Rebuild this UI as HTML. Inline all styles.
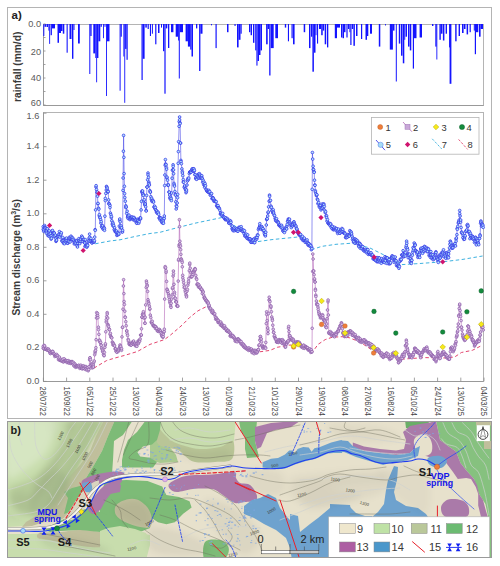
<!DOCTYPE html>
<html><head><meta charset="utf-8"><style>
html,body{margin:0;padding:0;background:#fff;}
body{width:500px;height:566px;overflow:hidden;font-family:"Liberation Sans", sans-serif;}
svg{display:block;}
</style></head><body><svg width="500" height="566" viewBox="0 0 500 566" font-family='"Liberation Sans", sans-serif'><rect x="7.5" y="7.5" width="484" height="411" fill="#fff" stroke="#b4b4b4" stroke-width="1"/><text x="11.5" y="18.6" font-size="11.5" font-weight="bold" fill="#222">a)</text><rect x="43.5" y="24.5" width="440" height="81" fill="none" stroke="#b4b4b4" stroke-width="1"/><line x1="43.5" y1="24" x2="43.5" y2="105.5" stroke="#999" stroke-width="1"/><line x1="43.5" y1="105.5" x2="483.5" y2="105.5" stroke="#999" stroke-width="1"/><g fill="#1414ff"><rect x="43.3" y="24" width="1.0" height="12.0"/><rect x="44.5" y="24" width="1.5" height="2.8"/><rect x="46.5" y="24" width="1.5" height="3.0"/><rect x="48.4" y="24" width="0.9" height="6.6"/><rect x="49.2" y="24" width="0.9" height="19.9"/><rect x="50.6" y="24" width="1.3" height="11.2"/><rect x="52.0" y="24" width="3.0" height="4.4"/><rect x="57.5" y="24" width="1.5" height="18.8"/><rect x="59.0" y="24" width="2.0" height="9.0"/><rect x="61.0" y="24" width="1.5" height="7.0"/><rect x="62.8" y="24" width="1.5" height="9.7"/><rect x="66.6" y="24" width="1.1" height="28.7"/><rect x="69.5" y="24" width="2.0" height="15.0"/><rect x="72.0" y="24" width="1.4" height="34.8"/><rect x="73.5" y="24" width="1.0" height="6.0"/><rect x="78.0" y="24" width="1.8" height="19.5"/><rect x="89.3" y="24" width="1.0" height="50.0"/><rect x="90.3" y="24" width="1.3" height="12.0"/><rect x="93.3" y="24" width="2.0" height="29.4"/><rect x="95.3" y="24" width="0.9" height="34.0"/><rect x="96.2" y="24" width="0.9" height="58.3"/><rect x="97.0" y="24" width="1.4" height="34.0"/><rect x="98.4" y="24" width="1.9" height="17.3"/><rect x="100.6" y="24" width="1.2" height="2.8"/><rect x="103.0" y="24" width="0.9" height="14.2"/><rect x="104.5" y="24" width="1.0" height="2.8"/><rect x="106.0" y="24" width="0.9" height="72.0"/><rect x="106.9" y="24" width="2.6" height="17.3"/><rect x="119.6" y="24" width="1.0" height="66.7"/><rect x="120.6" y="24" width="1.2" height="12.7"/><rect x="123.4" y="24" width="0.9" height="32.5"/><rect x="124.3" y="24" width="0.9" height="78.8"/><rect x="125.1" y="24" width="1.4" height="24.9"/><rect x="126.5" y="24" width="1.2" height="35.8"/><rect x="141.5" y="24" width="1.2" height="56.0"/><rect x="142.7" y="24" width="1.9" height="34.8"/><rect x="145.3" y="24" width="1.5" height="3.6"/><rect x="147.6" y="24" width="1.2" height="5.0"/><rect x="149.9" y="24" width="1.1" height="12.0"/><rect x="151.9" y="24" width="1.0" height="9.7"/><rect x="155.2" y="24" width="1.2" height="20.3"/><rect x="158.0" y="24" width="1.5" height="9.0"/><rect x="161.0" y="24" width="1.0" height="3.6"/><rect x="163.0" y="24" width="1.3" height="27.2"/><rect x="164.4" y="24" width="1.2" height="69.7"/><rect x="165.8" y="24" width="1.5" height="4.4"/><rect x="168.0" y="24" width="1.3" height="24.0"/><rect x="171.0" y="24" width="2.4" height="8.2"/><rect x="175.7" y="24" width="2.3" height="12.7"/><rect x="178.0" y="24" width="0.9" height="16.5"/><rect x="178.8" y="24" width="1.0" height="54.5"/><rect x="179.8" y="24" width="3.2" height="8.2"/><rect x="185.6" y="24" width="2.3" height="17.3"/><rect x="187.9" y="24" width="2.3" height="22.6"/><rect x="190.2" y="24" width="1.3" height="25.6"/><rect x="191.5" y="24" width="1.5" height="32.5"/><rect x="196.0" y="24" width="1.3" height="4.4"/><rect x="199.1" y="24" width="1.3" height="47.0"/><rect x="200.4" y="24" width="2.1" height="9.7"/><rect x="211.0" y="24" width="1.0" height="1.3"/><rect x="215.5" y="24" width="1.2" height="24.1"/><rect x="227.0" y="24" width="1.5" height="8.2"/><rect x="234.5" y="24" width="1.1" height="2.0"/><rect x="237.0" y="24" width="1.6" height="23.4"/><rect x="238.6" y="24" width="1.9" height="15.8"/><rect x="240.5" y="24" width="1.2" height="9.7"/><rect x="249.0" y="24" width="1.3" height="8.2"/><rect x="250.6" y="24" width="1.4" height="11.2"/><rect x="253.0" y="24" width="1.4" height="18.8"/><rect x="255.2" y="24" width="1.2" height="26.4"/><rect x="256.4" y="24" width="1.1" height="41.6"/><rect x="257.5" y="24" width="1.5" height="37.0"/><rect x="259.0" y="24" width="1.5" height="31.0"/><rect x="260.5" y="24" width="1.5" height="26.4"/><rect x="266.1" y="24" width="1.6" height="20.3"/><rect x="267.7" y="24" width="1.3" height="5.0"/><rect x="269.2" y="24" width="1.3" height="51.5"/><rect x="270.7" y="24" width="3.0" height="24.1"/><rect x="275.3" y="24" width="2.7" height="14.2"/><rect x="284.8" y="24" width="1.4" height="3.6"/><rect x="287.9" y="24" width="1.1" height="17.3"/><rect x="291.5" y="24" width="1.2" height="14.2"/><rect x="293.0" y="24" width="1.6" height="20.3"/><rect x="303.7" y="24" width="1.5" height="8.2"/><rect x="309.0" y="24" width="1.5" height="24.1"/><rect x="311.0" y="24" width="1.3" height="12.7"/><rect x="312.4" y="24" width="1.5" height="47.7"/><rect x="314.0" y="24" width="1.5" height="28.7"/><rect x="315.5" y="24" width="1.0" height="11.2"/><rect x="317.0" y="24" width="1.1" height="19.6"/><rect x="319.0" y="24" width="2.0" height="5.0"/><rect x="321.2" y="24" width="1.5" height="11.2"/><rect x="322.7" y="24" width="1.5" height="6.6"/><rect x="324.7" y="24" width="1.5" height="20.3"/><rect x="327.0" y="24" width="1.3" height="23.4"/><rect x="334.8" y="24" width="2.2" height="14.2"/><rect x="337.0" y="24" width="3.0" height="3.6"/><rect x="341.0" y="24" width="1.4" height="13.5"/><rect x="342.6" y="24" width="1.4" height="14.2"/><rect x="344.0" y="24" width="1.5" height="8.2"/><rect x="346.4" y="24" width="1.2" height="13.5"/><rect x="348.0" y="24" width="1.3" height="5.0"/><rect x="349.4" y="24" width="0.9" height="8.2"/><rect x="350.3" y="24" width="1.2" height="21.0"/><rect x="351.8" y="24" width="1.4" height="5.0"/><rect x="353.4" y="24" width="1.5" height="21.8"/><rect x="356.0" y="24" width="1.5" height="12.0"/><rect x="361.0" y="24" width="1.2" height="15.0"/><rect x="365.5" y="24" width="1.5" height="15.8"/><rect x="367.0" y="24" width="1.3" height="12.0"/><rect x="370.0" y="24" width="2.0" height="9.7"/><rect x="378.8" y="24" width="1.5" height="22.6"/><rect x="385.0" y="24" width="0.9" height="1.5"/><rect x="389.8" y="24" width="3.1" height="25.6"/><rect x="392.9" y="24" width="1.6" height="6.6"/><rect x="395.8" y="24" width="1.0" height="57.5"/><rect x="398.8" y="24" width="1.5" height="19.6"/><rect x="401.0" y="24" width="1.5" height="31.7"/><rect x="402.8" y="24" width="1.5" height="39.3"/><rect x="404.3" y="24" width="0.9" height="15.8"/><rect x="405.5" y="24" width="1.5" height="12.7"/><rect x="408.0" y="24" width="1.5" height="22.6"/><rect x="409.8" y="24" width="1.5" height="26.4"/><rect x="412.8" y="24" width="1.2" height="44.6"/><rect x="414.0" y="24" width="2.5" height="14.2"/><rect x="419.6" y="24" width="2.4" height="13.5"/><rect x="432.0" y="24" width="1.4" height="2.0"/><rect x="435.3" y="24" width="1.3" height="22.6"/><rect x="436.4" y="24" width="0.9" height="35.5"/><rect x="439.4" y="24" width="1.4" height="15.8"/><rect x="440.8" y="24" width="1.7" height="9.7"/><rect x="442.9" y="24" width="1.5" height="16.5"/><rect x="445.6" y="24" width="1.4" height="9.7"/><rect x="449.0" y="24" width="0.9" height="23.4"/><rect x="449.6" y="24" width="1.8" height="59.8"/><rect x="455.2" y="24" width="1.4" height="17.3"/><rect x="458.6" y="24" width="1.4" height="12.0"/><rect x="462.0" y="24" width="1.6" height="9.0"/><rect x="464.0" y="24" width="1.5" height="5.0"/><rect x="466.6" y="24" width="1.5" height="10.4"/><rect x="469.6" y="24" width="1.2" height="8.2"/><rect x="473.8" y="24" width="1.0" height="6.6"/><rect x="474.8" y="24" width="1.2" height="30.2"/><rect x="476.0" y="24" width="2.3" height="8.2"/><rect x="479.0" y="24" width="1.6" height="12.7"/><rect x="480.6" y="24" width="2.4" height="5.0"/></g><line x1="43.5" y1="24.0" x2="45.5" y2="24.0" stroke="#8c8c8c" stroke-width="0.8"/><line x1="43.5" y1="37.5" x2="45.5" y2="37.5" stroke="#8c8c8c" stroke-width="0.8"/><line x1="43.5" y1="51.0" x2="45.5" y2="51.0" stroke="#8c8c8c" stroke-width="0.8"/><line x1="43.5" y1="64.5" x2="45.5" y2="64.5" stroke="#8c8c8c" stroke-width="0.8"/><line x1="43.5" y1="78.0" x2="45.5" y2="78.0" stroke="#8c8c8c" stroke-width="0.8"/><line x1="43.5" y1="91.5" x2="45.5" y2="91.5" stroke="#8c8c8c" stroke-width="0.8"/><line x1="43.5" y1="105.0" x2="45.5" y2="105.0" stroke="#8c8c8c" stroke-width="0.8"/><text x="41" y="27.3" text-anchor="end" font-size="9.2" fill="#5a5a5a">0.0</text><text x="41" y="54.7" text-anchor="end" font-size="9.2" fill="#5a5a5a">20</text><text x="41" y="80.9" text-anchor="end" font-size="9.2" fill="#5a5a5a">40</text><text x="41" y="106.4" text-anchor="end" font-size="9.2" fill="#5a5a5a">60</text><text transform="translate(20.9,66.8) rotate(-90)" text-anchor="middle" font-size="10.2" font-weight="bold" fill="#3a3a3a">rainfall (mm/d)</text><rect x="43.5" y="112.5" width="440" height="269" fill="none" stroke="#b4b4b4" stroke-width="1"/><line x1="43.5" y1="112.5" x2="43.5" y2="381.5" stroke="#999" stroke-width="1"/><line x1="43.5" y1="381.5" x2="483.5" y2="381.5" stroke="#999" stroke-width="1"/><line x1="43.5" y1="381.4" x2="46.5" y2="381.4" stroke="#8c8c8c" stroke-width="0.8"/><text x="39.4" y="383.7" text-anchor="end" font-size="9.2" fill="#5a5a5a">0.0</text><line x1="43.5" y1="347.9" x2="46.5" y2="347.9" stroke="#8c8c8c" stroke-width="0.8"/><text x="39.4" y="350.2" text-anchor="end" font-size="9.2" fill="#5a5a5a">0.2</text><line x1="43.5" y1="314.3" x2="46.5" y2="314.3" stroke="#8c8c8c" stroke-width="0.8"/><text x="39.4" y="316.6" text-anchor="end" font-size="9.2" fill="#5a5a5a">0.4</text><line x1="43.5" y1="280.8" x2="46.5" y2="280.8" stroke="#8c8c8c" stroke-width="0.8"/><text x="39.4" y="283.1" text-anchor="end" font-size="9.2" fill="#5a5a5a">0.6</text><line x1="43.5" y1="247.3" x2="46.5" y2="247.3" stroke="#8c8c8c" stroke-width="0.8"/><text x="39.4" y="249.6" text-anchor="end" font-size="9.2" fill="#5a5a5a">0.8</text><line x1="43.5" y1="213.8" x2="46.5" y2="213.8" stroke="#8c8c8c" stroke-width="0.8"/><text x="39.4" y="216.1" text-anchor="end" font-size="9.2" fill="#5a5a5a">1.0</text><line x1="43.5" y1="180.2" x2="46.5" y2="180.2" stroke="#8c8c8c" stroke-width="0.8"/><text x="39.4" y="182.5" text-anchor="end" font-size="9.2" fill="#5a5a5a">1.2</text><line x1="43.5" y1="146.7" x2="46.5" y2="146.7" stroke="#8c8c8c" stroke-width="0.8"/><text x="39.4" y="149.0" text-anchor="end" font-size="9.2" fill="#5a5a5a">1.4</text><line x1="43.5" y1="113.2" x2="46.5" y2="113.2" stroke="#8c8c8c" stroke-width="0.8"/><text x="39.4" y="118.6" text-anchor="end" font-size="9.2" fill="#5a5a5a">1.6</text><line x1="43.4" y1="377.6" x2="43.4" y2="381.3" stroke="#8c8c8c" stroke-width="0.8"/><text transform="translate(40.4,386.6) rotate(90)" font-size="8.3" fill="#444" textLength="29.4" lengthAdjust="spacingAndGlyphs">28/07/22</text><line x1="66.6" y1="377.6" x2="66.6" y2="381.3" stroke="#8c8c8c" stroke-width="0.8"/><text transform="translate(63.6,386.6) rotate(90)" font-size="8.3" fill="#444" textLength="29.4" lengthAdjust="spacingAndGlyphs">16/09/22</text><line x1="89.8" y1="377.6" x2="89.8" y2="381.3" stroke="#8c8c8c" stroke-width="0.8"/><text transform="translate(86.8,386.6) rotate(90)" font-size="8.3" fill="#444" textLength="29.4" lengthAdjust="spacingAndGlyphs">05/11/22</text><line x1="113.0" y1="377.6" x2="113.0" y2="381.3" stroke="#8c8c8c" stroke-width="0.8"/><text transform="translate(110.0,386.6) rotate(90)" font-size="8.3" fill="#444" textLength="29.4" lengthAdjust="spacingAndGlyphs">25/12/22</text><line x1="136.2" y1="377.6" x2="136.2" y2="381.3" stroke="#8c8c8c" stroke-width="0.8"/><text transform="translate(133.2,386.6) rotate(90)" font-size="8.3" fill="#444" textLength="29.4" lengthAdjust="spacingAndGlyphs">13/02/23</text><line x1="159.3" y1="377.6" x2="159.3" y2="381.3" stroke="#8c8c8c" stroke-width="0.8"/><text transform="translate(156.3,386.6) rotate(90)" font-size="8.3" fill="#444" textLength="29.4" lengthAdjust="spacingAndGlyphs">04/04/23</text><line x1="182.5" y1="377.6" x2="182.5" y2="381.3" stroke="#8c8c8c" stroke-width="0.8"/><text transform="translate(179.5,386.6) rotate(90)" font-size="8.3" fill="#444" textLength="29.4" lengthAdjust="spacingAndGlyphs">24/05/23</text><line x1="205.7" y1="377.6" x2="205.7" y2="381.3" stroke="#8c8c8c" stroke-width="0.8"/><text transform="translate(202.7,386.6) rotate(90)" font-size="8.3" fill="#444" textLength="29.4" lengthAdjust="spacingAndGlyphs">13/07/23</text><line x1="228.9" y1="377.6" x2="228.9" y2="381.3" stroke="#8c8c8c" stroke-width="0.8"/><text transform="translate(225.9,386.6) rotate(90)" font-size="8.3" fill="#444" textLength="29.4" lengthAdjust="spacingAndGlyphs">01/09/23</text><line x1="252.1" y1="377.6" x2="252.1" y2="381.3" stroke="#8c8c8c" stroke-width="0.8"/><text transform="translate(249.1,386.6) rotate(90)" font-size="8.3" fill="#444" textLength="29.4" lengthAdjust="spacingAndGlyphs">21/10/23</text><line x1="275.3" y1="377.6" x2="275.3" y2="381.3" stroke="#8c8c8c" stroke-width="0.8"/><text transform="translate(272.3,386.6) rotate(90)" font-size="8.3" fill="#444" textLength="29.4" lengthAdjust="spacingAndGlyphs">10/12/23</text><line x1="298.5" y1="377.6" x2="298.5" y2="381.3" stroke="#8c8c8c" stroke-width="0.8"/><text transform="translate(295.5,386.6) rotate(90)" font-size="8.3" fill="#444" textLength="29.4" lengthAdjust="spacingAndGlyphs">29/01/24</text><line x1="321.7" y1="377.6" x2="321.7" y2="381.3" stroke="#8c8c8c" stroke-width="0.8"/><text transform="translate(318.7,386.6) rotate(90)" font-size="8.3" fill="#444" textLength="29.4" lengthAdjust="spacingAndGlyphs">19/03/24</text><line x1="344.9" y1="377.6" x2="344.9" y2="381.3" stroke="#8c8c8c" stroke-width="0.8"/><text transform="translate(341.9,386.6) rotate(90)" font-size="8.3" fill="#444" textLength="29.4" lengthAdjust="spacingAndGlyphs">08/05/24</text><line x1="368.1" y1="377.6" x2="368.1" y2="381.3" stroke="#8c8c8c" stroke-width="0.8"/><text transform="translate(365.1,386.6) rotate(90)" font-size="8.3" fill="#444" textLength="29.4" lengthAdjust="spacingAndGlyphs">27/06/24</text><line x1="391.2" y1="377.6" x2="391.2" y2="381.3" stroke="#8c8c8c" stroke-width="0.8"/><text transform="translate(388.2,386.6) rotate(90)" font-size="8.3" fill="#444" textLength="29.4" lengthAdjust="spacingAndGlyphs">16/08/24</text><line x1="414.4" y1="377.6" x2="414.4" y2="381.3" stroke="#8c8c8c" stroke-width="0.8"/><text transform="translate(411.4,386.6) rotate(90)" font-size="8.3" fill="#444" textLength="29.4" lengthAdjust="spacingAndGlyphs">05/10/24</text><line x1="437.6" y1="377.6" x2="437.6" y2="381.3" stroke="#8c8c8c" stroke-width="0.8"/><text transform="translate(434.6,386.6) rotate(90)" font-size="8.3" fill="#444" textLength="29.4" lengthAdjust="spacingAndGlyphs">24/11/24</text><line x1="460.8" y1="377.6" x2="460.8" y2="381.3" stroke="#8c8c8c" stroke-width="0.8"/><text transform="translate(457.8,386.6) rotate(90)" font-size="8.3" fill="#444" textLength="29.4" lengthAdjust="spacingAndGlyphs">13/01/25</text><line x1="484.0" y1="377.6" x2="484.0" y2="381.3" stroke="#8c8c8c" stroke-width="0.8"/><text transform="translate(481.0,386.6) rotate(90)" font-size="8.3" fill="#444" textLength="29.4" lengthAdjust="spacingAndGlyphs">04/03/25</text><text transform="translate(20.2,257.3) rotate(-90)" text-anchor="middle" font-size="10.2" font-weight="bold" fill="#3a3a3a">Stream discharge (m<tspan font-size="7" dy="-4">3</tspan><tspan dy="4">/s)</tspan></text><polyline points="95.2,243.8 110.0,241.0 120.0,239.8 135.0,236.5 150.0,233.5 160.0,232.3 175.0,228.3 195.0,223.2 215.0,219.0 222.0,217.5 230.0,222.0 240.0,230.0 248.0,238.0 255.0,242.0 272.0,239.6 296.0,237.2 300.8,236.5 306.0,240.0 312.0,249.6 321.6,246.4 336.0,244.3 352.0,243.2 370.0,248.0 390.0,258.0 402.0,264.6 420.0,263.5 442.7,261.8 462.0,259.5 482.6,256.0" fill="none" stroke="#3fb2e0" stroke-width="1" stroke-dasharray="3.5,2.5"/><polyline points="93.8,368.2 106.7,360.5 115.0,358.0 124.6,355.4 137.4,351.5 150.0,344.4 164.4,339.6 170.8,334.8 182.0,325.2 190.0,317.2 198.0,310.8 206.0,306.8 209.2,306.0 213.3,313.0 217.6,320.0 222.0,325.0 226.4,329.0 230.7,335.0 235.1,339.0 239.5,341.0 243.8,345.0 248.2,348.0 252.6,351.0 258.0,352.0 262.0,351.5 270.0,350.4 277.2,347.3 290.0,345.0 300.0,346.0 306.0,349.0 312.0,352.8 318.0,344.4 325.2,339.6 332.4,337.2 342.0,336.7 349.2,337.7 360.0,342.0 375.0,352.0 390.0,358.5 403.1,359.1 424.0,357.6 446.0,358.0 454.8,356.9 461.4,352.5 472.4,350.3 482.3,345.2" fill="none" stroke="#e3456e" stroke-width="1" stroke-dasharray="3.5,2.5"/><polyline points="43.2,226.7 43.2,229.4 43.7,231.3 44.1,230.0 44.6,225.5 44.8,227.0 45.1,227.6 45.5,228.4 46.0,231.1 46.4,231.0 46.4,233.2 46.9,228.6 47.4,228.8 47.8,235.4 48.3,233.0 48.8,236.1 48.8,234.2 49.2,230.8 49.7,234.4 50.2,236.8 50.6,233.4 51.1,239.1 51.2,235.8 51.5,238.3 52.0,231.2 52.5,230.5 52.9,233.8 53.4,236.2 53.6,232.6 53.9,232.7 54.3,233.2 54.8,236.4 55.3,235.1 55.7,238.3 56.0,241.4 56.2,240.6 56.6,240.1 57.1,237.2 57.6,236.2 58.0,235.2 58.4,236.6 58.5,236.2 59.0,234.3 59.4,231.6 59.9,237.1 60.4,234.4 60.8,233.4 60.8,234.6 61.3,232.8 61.8,240.6 62.2,241.3 62.7,237.4 63.1,240.7 63.2,242.2 63.6,243.3 64.1,242.6 64.5,243.7 65.0,239.2 65.5,241.7 65.6,239.0 65.9,240.5 66.4,238.1 66.9,240.6 67.3,243.2 67.8,243.2 68.2,241.0 68.7,242.0 68.8,241.4 69.2,237.4 69.6,238.4 70.1,242.0 70.6,238.6 71.0,236.2 71.5,238.4 72.0,239.0 72.0,237.4 72.4,239.5 72.9,238.2 73.3,239.6 73.8,241.1 74.3,244.0 74.4,242.2 74.7,242.7 75.2,242.2 75.7,243.4 76.1,240.4 76.6,241.0 76.8,244.6 77.1,245.7 77.5,247.0 78.0,243.3 78.4,241.1 78.9,238.6 79.2,240.6 79.4,240.4 79.8,243.6 80.3,241.5 80.8,239.3 81.2,241.3 81.7,236.1 82.2,237.7 82.4,237.4 82.6,241.3 83.1,239.6 83.5,239.8 84.0,239.4 84.5,242.6 84.8,243.0 84.9,246.5 85.4,239.7 85.9,245.8 86.3,246.4 86.8,247.2 87.2,244.6 87.3,246.2 87.7,245.3 88.2,241.8 88.7,240.7 89.1,238.3 89.6,234.1 89.6,237.4 90.0,241.2 90.5,240.0 91.0,238.3 91.4,241.7 91.9,242.6 92.0,243.0 92.4,241.6 92.8,241.0 93.3,242.0 93.8,242.2 94.2,241.6 94.4,240.6 94.7,237.1 95.1,229.7 95.3,230.3 95.6,209.9 96.0,187.0 96.1,185.7 96.5,189.5 97.0,192.6 97.3,192.0 97.5,196.2 97.9,203.7 98.0,203.4 98.4,208.1 98.9,209.1 99.3,215.8 99.4,214.7 99.8,217.7 100.2,217.4 100.7,219.7 100.9,223.2 101.2,221.6 101.6,226.7 102.1,225.6 102.3,227.5 102.6,225.9 103.0,229.1 103.5,228.2 104.0,227.5 104.4,228.5 104.5,230.3 104.9,216.2 105.3,200.6 105.3,198.4 105.8,193.4 106.3,190.1 106.5,186.4 106.7,187.1 107.2,188.1 107.7,190.6 108.0,192.0 108.1,191.5 108.6,199.9 108.8,203.4 109.1,203.9 109.5,204.4 110.0,205.6 110.0,207.6 110.4,213.1 110.9,214.7 111.3,217.6 111.4,216.5 111.8,220.8 112.3,224.1 112.8,222.5 113.0,226.0 113.2,224.1 113.7,225.7 114.2,229.6 114.6,227.8 115.0,230.3 115.1,231.4 115.6,232.0 116.0,231.9 116.5,231.0 116.9,235.4 117.0,233.1 117.4,234.9 117.9,233.9 118.3,232.8 118.7,234.5 118.8,233.9 119.3,226.1 119.7,220.4 119.8,219.0 120.2,221.8 120.7,227.7 120.7,227.5 121.1,225.9 121.6,227.8 122.0,231.8 122.5,232.0 122.6,230.3 123.0,190.4 123.1,178.0 123.4,151.2 123.6,135.4 123.9,157.3 124.1,173.6 124.4,186.3 124.6,193.6 124.8,197.5 125.3,201.2 125.8,205.8 125.8,207.6 126.2,207.0 126.7,213.4 127.1,211.2 127.6,217.2 127.7,216.0 128.1,218.5 128.5,216.8 129.0,215.1 129.5,218.8 129.9,219.6 130.4,218.5 130.6,217.6 130.9,217.8 131.3,217.3 131.8,217.4 132.2,217.0 132.7,219.5 133.2,218.6 133.4,219.0 133.6,217.6 134.1,217.5 134.6,220.6 135.0,219.0 135.5,220.4 136.0,219.8 136.4,222.8 136.9,223.3 137.3,219.2 137.7,221.8 137.8,220.2 138.3,220.4 138.7,223.2 139.2,221.7 139.7,219.0 140.1,217.9 140.5,219.0 140.6,218.0 141.1,209.9 141.5,201.4 141.9,192.0 142.0,191.1 142.5,193.1 142.6,191.0 142.9,193.7 143.3,195.0 143.4,195.4 143.8,200.7 144.3,199.7 144.7,203.4 144.8,204.9 145.2,204.0 145.7,206.8 146.1,210.5 146.2,211.0 146.6,195.4 147.0,187.0 147.1,187.1 147.6,179.8 148.0,173.0 148.0,174.9 148.5,177.4 148.9,182.2 149.0,183.6 149.4,185.0 149.9,190.7 150.3,192.1 150.4,192.0 150.8,196.7 151.3,199.2 151.7,198.3 151.8,200.6 152.2,201.6 152.7,200.3 153.1,200.9 153.6,202.0 154.0,206.9 154.5,207.5 154.6,206.2 155.0,208.8 155.4,207.5 155.9,210.0 156.4,211.9 156.8,211.0 157.3,213.1 157.5,213.3 157.8,212.4 158.2,212.4 158.7,214.2 159.1,218.1 159.6,217.3 160.0,217.6 160.1,219.9 160.5,218.3 161.0,218.2 161.5,221.5 161.9,222.5 162.0,221.0 162.4,219.1 162.9,223.1 163.3,220.9 163.5,223.2 163.8,218.7 164.2,218.4 164.3,216.0 164.7,185.5 164.9,175.0 165.2,165.2 165.4,159.6 165.6,164.0 166.1,164.8 166.4,167.6 166.6,169.2 166.9,178.0 167.0,177.1 167.5,180.2 168.0,185.4 168.0,184.4 168.4,185.1 168.9,192.0 169.4,192.2 169.7,195.0 169.8,197.7 170.3,199.0 170.7,197.4 171.2,198.7 171.4,200.6 171.7,193.0 172.1,178.2 172.5,170.0 172.6,170.3 173.1,164.8 173.2,166.4 173.5,169.9 173.6,173.7 174.0,183.4 174.2,185.0 174.5,186.1 174.9,191.5 175.4,194.6 175.4,195.0 175.8,201.8 176.2,209.0 176.3,205.9 176.8,206.5 177.2,203.0 177.6,197.7 177.7,194.3 178.2,163.3 178.4,151.6 178.6,141.7 179.1,126.3 179.2,121.6 179.6,119.9 179.6,117.0 180.0,122.7 180.1,123.6 180.5,143.1 180.5,143.0 180.9,160.4 181.0,161.6 181.4,163.7 181.9,168.9 182.3,171.5 182.4,173.0 182.8,175.7 183.3,179.6 183.3,182.0 183.7,182.2 184.2,187.2 184.7,186.0 185.1,188.5 185.6,189.9 185.6,189.2 186.0,192.7 186.4,191.6 186.5,190.0 187.0,185.0 187.4,180.5 187.5,180.8 187.9,178.5 188.4,179.5 188.8,178.1 189.3,173.5 189.8,172.0 190.0,172.0 190.2,172.1 190.7,172.2 191.1,172.1 191.6,170.2 192.1,168.9 192.5,169.8 193.0,168.8 193.2,170.9 193.5,171.2 193.9,168.8 194.0,171.0 194.4,170.3 194.9,174.7 195.3,174.6 195.8,178.7 196.0,178.0 196.3,177.8 196.7,179.3 197.2,175.4 197.6,176.8 198.1,177.9 198.6,174.0 199.0,178.0 199.5,173.7 200.0,176.4 200.0,175.0 200.4,178.1 200.9,177.9 201.4,176.1 201.8,175.8 202.0,178.0 202.3,178.9 202.7,182.2 203.2,180.3 203.7,184.6 204.1,182.2 204.5,185.0 204.6,187.2 205.1,183.6 205.5,185.8 206.0,189.4 206.5,189.7 206.9,191.0 207.4,191.4 207.8,191.7 208.3,192.1 208.8,190.3 208.8,192.0 209.2,192.3 209.7,191.5 210.2,194.9 210.6,195.3 211.1,193.9 211.6,193.6 212.0,198.7 212.5,198.5 212.9,197.9 213.0,197.7 213.4,198.7 213.9,201.2 214.3,200.1 214.8,200.7 215.3,201.4 215.7,201.9 216.2,201.6 216.7,205.7 217.1,205.4 217.3,206.2 217.6,207.1 218.0,205.5 218.5,207.9 219.0,207.8 219.4,208.7 219.9,210.3 220.4,214.1 220.8,212.8 221.3,213.8 221.5,214.7 221.8,215.5 222.2,214.1 222.7,213.4 223.2,216.5 223.6,216.8 224.1,218.0 224.5,217.4 225.0,219.1 225.5,219.8 225.8,219.0 225.9,217.8 226.4,219.4 226.9,219.6 227.3,218.6 227.8,219.9 228.3,220.9 228.7,223.0 229.2,223.3 229.6,220.4 230.0,221.8 230.1,222.8 230.6,221.0 231.0,222.3 231.5,225.7 232.0,228.7 232.4,226.2 232.8,228.9 232.9,230.2 233.4,230.8 233.8,228.0 234.3,229.9 234.7,230.6 235.2,228.3 235.7,229.9 236.1,230.1 236.6,229.4 237.1,230.7 237.1,228.9 237.5,230.9 238.0,231.2 238.5,229.3 238.9,227.3 239.4,227.7 239.8,227.5 240.3,229.2 240.8,230.2 241.2,226.7 241.3,228.9 241.7,230.3 242.2,231.1 242.6,229.9 243.1,231.3 243.6,230.2 244.0,233.6 244.5,230.8 244.9,236.1 245.4,235.8 245.6,234.5 245.9,235.4 246.3,234.1 246.8,237.8 247.3,238.5 247.7,234.9 248.2,238.5 248.7,239.3 249.1,238.9 249.6,239.6 249.8,238.8 250.1,238.8 250.5,241.6 251.0,242.3 251.4,239.8 251.9,242.3 252.4,240.9 252.7,241.6 252.8,239.8 253.3,240.3 253.8,239.0 254.2,242.6 254.7,242.6 255.2,238.1 255.6,240.2 256.1,238.9 256.5,237.1 256.9,238.8 257.0,237.3 257.5,234.9 257.9,235.3 258.4,229.5 258.9,228.3 259.3,227.4 259.7,226.0 259.8,223.7 260.3,227.2 260.7,227.5 261.2,229.2 261.6,226.5 262.1,227.3 262.6,229.1 262.6,228.9 263.0,228.6 263.5,231.1 264.0,230.4 264.4,233.5 264.9,234.9 265.4,236.0 265.4,234.5 265.8,232.2 266.3,225.0 266.7,219.5 266.8,219.0 267.2,218.7 267.7,216.0 268.1,212.7 268.2,212.0 268.6,206.9 269.1,201.2 269.5,195.1 269.6,196.3 270.0,200.6 270.5,200.4 270.9,206.9 271.0,206.2 271.4,207.4 271.8,210.6 272.3,210.7 272.8,212.9 273.2,209.8 273.4,212.0 273.7,213.1 274.2,215.2 274.6,215.6 275.1,218.2 275.6,219.2 275.7,220.4 276.0,220.9 276.5,218.7 276.9,221.4 277.4,221.9 277.9,221.6 278.3,222.5 278.5,223.2 278.8,225.1 279.3,225.3 279.7,225.1 280.2,226.5 280.7,225.9 281.1,225.7 281.3,227.5 281.6,225.3 282.1,227.1 282.5,229.2 283.0,231.0 283.4,231.2 283.9,230.1 284.2,230.3 284.4,232.5 284.8,229.1 285.3,230.3 285.8,227.4 286.2,228.4 286.7,228.9 287.0,226.0 287.2,224.3 287.6,221.3 288.1,221.2 288.4,219.0 288.5,219.5 289.0,219.8 289.5,219.2 289.9,222.3 290.4,223.6 290.9,224.7 291.2,226.0 291.3,227.6 291.8,225.5 292.3,225.6 292.7,225.7 293.2,224.3 293.6,222.3 294.0,221.8 294.1,223.3 294.6,223.9 295.0,225.1 295.5,226.1 296.0,226.1 296.4,228.4 296.9,229.6 296.9,228.9 297.4,232.0 297.8,232.2 298.3,233.4 298.7,233.9 299.2,235.1 299.7,235.0 299.7,234.5 300.1,234.3 300.6,234.5 301.1,237.4 301.5,238.8 302.0,237.8 302.5,236.4 302.9,240.4 303.4,239.3 303.8,239.8 304.0,240.2 304.3,238.1 304.8,240.8 305.2,242.3 305.7,240.9 306.2,240.9 306.6,242.7 307.1,239.9 307.6,242.6 308.0,245.1 308.2,243.0 308.5,244.4 309.0,243.7 309.4,245.8 309.9,246.1 310.3,244.8 310.8,245.6 311.3,249.7 311.7,247.3 311.9,248.7 312.2,189.3 312.4,152.5 312.7,159.1 313.1,166.2 313.3,169.4 313.6,169.7 314.1,171.9 314.2,172.3 314.5,180.2 314.8,185.0 315.0,185.4 315.3,190.7 315.4,191.9 315.9,193.6 316.4,195.6 316.7,195.0 316.8,194.7 317.3,199.1 317.8,200.0 318.1,203.4 318.2,203.9 318.7,202.6 319.2,206.4 319.6,207.4 320.1,205.4 320.5,205.6 321.0,207.6 321.0,209.9 321.5,208.2 321.9,208.4 322.4,203.9 322.9,207.7 323.3,205.9 323.8,203.9 323.8,204.8 324.3,206.5 324.7,210.3 325.2,212.6 325.6,211.7 326.1,216.0 326.6,215.8 326.6,217.6 327.0,221.1 327.5,219.6 328.0,223.1 328.4,223.3 328.9,223.9 329.4,223.3 329.4,224.6 329.8,225.2 330.3,223.7 330.7,224.1 331.2,227.5 331.7,226.2 332.1,228.6 332.6,226.5 333.1,229.4 333.5,229.8 333.7,228.9 334.0,228.1 334.5,227.4 334.9,229.2 335.4,230.0 335.9,228.3 336.3,229.1 336.8,228.7 337.2,231.7 337.7,233.5 337.9,231.7 338.2,230.2 338.6,229.1 339.1,232.3 339.6,232.7 340.0,233.3 340.5,231.4 341.0,229.9 341.4,232.2 341.9,228.5 342.2,230.3 342.3,231.5 342.8,229.3 343.3,231.6 343.7,232.9 344.2,233.1 344.7,232.8 345.1,233.9 345.6,237.6 346.1,236.6 346.4,237.4 346.5,237.6 347.0,235.2 347.4,237.1 347.9,234.5 348.4,235.3 348.8,236.2 349.3,236.0 349.8,230.7 350.2,233.8 350.7,233.5 350.7,231.7 351.2,232.2 351.6,233.9 352.1,236.3 352.5,239.4 353.0,238.2 353.5,242.0 353.5,240.2 353.9,241.8 354.4,239.1 354.9,243.2 355.3,239.0 355.8,240.0 356.3,242.9 356.7,240.1 357.2,242.1 357.6,241.1 357.7,243.0 358.1,243.4 358.6,245.9 359.0,246.8 359.5,243.1 360.0,243.8 360.4,248.3 360.9,245.0 361.4,246.7 361.8,246.6 362.0,248.7 362.3,246.8 362.8,246.6 363.2,249.8 363.7,250.5 364.1,250.3 364.6,251.3 365.1,250.5 365.5,249.3 366.0,250.7 366.2,250.1 366.5,252.7 366.9,251.5 367.4,250.0 367.9,249.6 368.3,254.4 368.8,253.1 369.2,252.4 369.7,254.1 370.2,254.4 370.5,254.4 370.6,254.6 371.1,252.8 371.6,254.7 372.0,255.5 372.5,254.9 373.0,258.8 373.4,256.9 373.9,258.6 374.3,259.3 374.7,258.6 374.8,259.9 375.3,259.9 375.7,260.2 376.2,257.8 376.7,261.6 377.1,257.6 377.6,261.6 378.1,261.5 378.5,261.6 379.0,257.8 379.0,260.0 379.4,258.1 379.9,261.9 380.4,260.3 380.8,260.0 381.3,263.2 381.8,258.6 382.2,261.2 382.7,260.9 383.2,259.5 383.2,261.4 383.6,260.6 384.1,261.9 384.5,262.5 385.0,260.3 385.0,256.7 385.5,260.7 385.9,257.7 386.4,263.3 386.9,258.1 387.3,258.0 387.8,260.8 388.3,263.7 388.7,260.8 389.2,259.6 389.2,262.4 389.7,263.9 390.1,263.2 390.6,262.8 391.0,257.9 391.5,258.0 392.0,255.9 392.4,257.1 392.4,257.6 392.9,256.3 393.4,256.9 393.8,260.7 394.3,262.4 394.8,260.1 395.2,257.0 395.6,260.3 395.7,261.6 396.1,260.8 396.6,265.6 397.1,264.4 397.5,266.0 398.0,265.8 398.5,265.3 398.8,265.6 398.9,268.3 399.4,266.6 399.9,261.4 400.3,259.2 400.8,259.6 400.9,260.3 401.2,259.4 401.7,254.9 402.2,255.3 402.6,255.7 403.0,254.0 403.1,250.7 403.6,256.9 404.0,256.1 404.5,254.0 405.0,254.3 405.2,256.0 405.4,252.6 405.9,247.5 406.3,245.7 406.6,241.2 406.8,243.3 407.3,248.0 407.7,249.8 407.9,254.0 408.2,257.7 408.7,254.2 409.1,255.2 409.6,254.2 410.0,258.2 410.1,261.9 410.5,258.8 411.0,262.7 411.4,263.4 411.5,260.3 411.9,260.3 412.4,255.2 412.8,252.1 413.0,247.6 413.3,250.3 413.8,248.7 414.2,243.0 414.7,245.2 415.1,244.4 415.2,245.2 415.6,250.4 416.1,250.8 416.6,252.2 416.8,251.8 417.0,254.1 417.5,252.1 417.9,257.4 418.4,256.1 418.9,255.2 418.9,256.0 419.3,254.7 419.8,257.4 420.3,252.9 420.7,249.0 421.0,250.8 421.2,248.1 421.7,252.0 422.1,250.9 422.6,253.3 423.0,247.7 423.5,249.3 424.0,251.5 424.2,249.7 424.4,246.4 424.9,246.9 425.4,250.4 425.8,248.5 426.3,247.5 426.8,248.8 427.2,251.7 427.4,250.8 427.7,251.4 428.1,248.6 428.6,249.2 429.1,255.6 429.5,254.7 430.0,251.8 430.5,257.5 430.6,255.0 430.9,251.6 431.4,254.5 431.9,258.4 432.3,257.7 432.8,254.8 433.2,259.7 433.7,257.8 433.8,257.1 434.2,258.9 434.6,257.9 435.1,253.3 435.6,254.0 435.9,251.8 436.0,252.6 436.5,257.2 437.0,257.8 437.4,258.9 437.9,261.1 438.0,259.2 438.3,262.4 438.8,256.2 439.3,255.1 439.7,258.5 440.2,256.0 440.2,258.0 440.7,255.3 441.1,254.3 441.6,252.9 442.1,255.7 442.5,254.3 442.7,251.8 443.0,253.0 443.5,249.8 443.9,256.7 444.4,254.7 444.8,253.5 445.3,255.2 445.5,257.1 445.8,258.3 446.2,252.7 446.7,253.1 447.2,254.0 447.6,257.9 448.1,256.4 448.6,257.6 448.6,254.0 449.0,251.2 449.5,247.9 449.9,244.3 450.3,241.2 450.4,241.7 450.9,242.9 451.3,246.1 451.8,248.3 452.3,245.3 452.7,248.1 452.9,247.6 453.2,245.6 453.7,244.6 454.1,245.2 454.6,244.9 455.0,243.7 455.5,246.0 456.0,238.9 456.1,241.2 456.4,238.0 456.9,234.7 457.1,228.5 457.4,229.3 457.8,226.3 458.3,223.0 458.8,221.5 458.8,222.1 459.2,220.0 459.7,213.7 459.7,210.5 460.1,216.0 460.6,222.1 460.7,220.0 461.1,227.5 461.5,232.3 461.8,232.7 462.0,232.3 462.5,234.0 462.9,237.6 463.4,235.5 463.9,239.4 464.3,238.5 464.5,239.1 464.8,236.7 465.2,235.8 465.7,231.4 466.2,231.4 466.6,230.0 467.1,225.2 467.6,224.5 467.7,226.4 468.0,225.9 468.5,232.2 469.0,231.9 469.4,231.5 469.9,238.6 469.9,234.9 470.4,233.4 470.8,235.6 471.3,237.6 471.7,237.6 472.2,236.0 472.7,238.9 473.0,237.0 473.1,237.1 473.6,239.4 474.1,238.3 474.5,242.5 475.0,241.2 475.5,237.2 475.9,238.0 476.2,241.2 476.4,244.9 476.8,239.8 477.3,238.8 477.8,240.9 478.2,243.1 478.3,243.3 478.7,244.7 479.2,238.3 479.6,238.4 480.0,234.9 480.1,236.0 480.6,223.3 480.9,221.0 481.0,222.1 481.5,226.1 481.9,223.9 482.2,224.2 482.4,225.1 482.9,225.2 483.2,227.4" fill="none" stroke="#4a4ae8" stroke-width="0.6"/><g fill="#b4e4fb" stroke="#2a2ae6" stroke-width="0.7"><circle cx="43.2" cy="226.7" r="1.35"/><circle cx="43.2" cy="229.4" r="1.35"/><circle cx="43.7" cy="231.3" r="1.35"/><circle cx="44.1" cy="230.0" r="1.35"/><circle cx="44.6" cy="225.5" r="1.35"/><circle cx="44.8" cy="227.0" r="1.35"/><circle cx="45.1" cy="227.6" r="1.35"/><circle cx="45.5" cy="228.4" r="1.35"/><circle cx="46.0" cy="231.1" r="1.35"/><circle cx="46.4" cy="231.0" r="1.35"/><circle cx="46.4" cy="233.2" r="1.35"/><circle cx="46.9" cy="228.6" r="1.35"/><circle cx="47.4" cy="228.8" r="1.35"/><circle cx="47.8" cy="235.4" r="1.35"/><circle cx="48.3" cy="233.0" r="1.35"/><circle cx="48.8" cy="236.1" r="1.35"/><circle cx="48.8" cy="234.2" r="1.35"/><circle cx="49.2" cy="230.8" r="1.35"/><circle cx="49.7" cy="234.4" r="1.35"/><circle cx="50.2" cy="236.8" r="1.35"/><circle cx="50.6" cy="233.4" r="1.35"/><circle cx="51.1" cy="239.1" r="1.35"/><circle cx="51.2" cy="235.8" r="1.35"/><circle cx="51.5" cy="238.3" r="1.35"/><circle cx="52.0" cy="231.2" r="1.35"/><circle cx="52.5" cy="230.5" r="1.35"/><circle cx="52.9" cy="233.8" r="1.35"/><circle cx="53.4" cy="236.2" r="1.35"/><circle cx="53.6" cy="232.6" r="1.35"/><circle cx="53.9" cy="232.7" r="1.35"/><circle cx="54.3" cy="233.2" r="1.35"/><circle cx="54.8" cy="236.4" r="1.35"/><circle cx="55.3" cy="235.1" r="1.35"/><circle cx="55.7" cy="238.3" r="1.35"/><circle cx="56.0" cy="241.4" r="1.35"/><circle cx="56.2" cy="240.6" r="1.35"/><circle cx="56.6" cy="240.1" r="1.35"/><circle cx="57.1" cy="237.2" r="1.35"/><circle cx="57.6" cy="236.2" r="1.35"/><circle cx="58.0" cy="235.2" r="1.35"/><circle cx="58.4" cy="236.6" r="1.35"/><circle cx="58.5" cy="236.2" r="1.35"/><circle cx="59.0" cy="234.3" r="1.35"/><circle cx="59.4" cy="231.6" r="1.35"/><circle cx="59.9" cy="237.1" r="1.35"/><circle cx="60.4" cy="234.4" r="1.35"/><circle cx="60.8" cy="233.4" r="1.35"/><circle cx="60.8" cy="234.6" r="1.35"/><circle cx="61.3" cy="232.8" r="1.35"/><circle cx="61.8" cy="240.6" r="1.35"/><circle cx="62.2" cy="241.3" r="1.35"/><circle cx="62.7" cy="237.4" r="1.35"/><circle cx="63.1" cy="240.7" r="1.35"/><circle cx="63.2" cy="242.2" r="1.35"/><circle cx="63.6" cy="243.3" r="1.35"/><circle cx="64.1" cy="242.6" r="1.35"/><circle cx="64.5" cy="243.7" r="1.35"/><circle cx="65.0" cy="239.2" r="1.35"/><circle cx="65.5" cy="241.7" r="1.35"/><circle cx="65.6" cy="239.0" r="1.35"/><circle cx="65.9" cy="240.5" r="1.35"/><circle cx="66.4" cy="238.1" r="1.35"/><circle cx="66.9" cy="240.6" r="1.35"/><circle cx="67.3" cy="243.2" r="1.35"/><circle cx="67.8" cy="243.2" r="1.35"/><circle cx="68.2" cy="241.0" r="1.35"/><circle cx="68.7" cy="242.0" r="1.35"/><circle cx="68.8" cy="241.4" r="1.35"/><circle cx="69.2" cy="237.4" r="1.35"/><circle cx="69.6" cy="238.4" r="1.35"/><circle cx="70.1" cy="242.0" r="1.35"/><circle cx="70.6" cy="238.6" r="1.35"/><circle cx="71.0" cy="236.2" r="1.35"/><circle cx="71.5" cy="238.4" r="1.35"/><circle cx="72.0" cy="239.0" r="1.35"/><circle cx="72.0" cy="237.4" r="1.35"/><circle cx="72.4" cy="239.5" r="1.35"/><circle cx="72.9" cy="238.2" r="1.35"/><circle cx="73.3" cy="239.6" r="1.35"/><circle cx="73.8" cy="241.1" r="1.35"/><circle cx="74.3" cy="244.0" r="1.35"/><circle cx="74.4" cy="242.2" r="1.35"/><circle cx="74.7" cy="242.7" r="1.35"/><circle cx="75.2" cy="242.2" r="1.35"/><circle cx="75.7" cy="243.4" r="1.35"/><circle cx="76.1" cy="240.4" r="1.35"/><circle cx="76.6" cy="241.0" r="1.35"/><circle cx="76.8" cy="244.6" r="1.35"/><circle cx="77.1" cy="245.7" r="1.35"/><circle cx="77.5" cy="247.0" r="1.35"/><circle cx="78.0" cy="243.3" r="1.35"/><circle cx="78.4" cy="241.1" r="1.35"/><circle cx="78.9" cy="238.6" r="1.35"/><circle cx="79.2" cy="240.6" r="1.35"/><circle cx="79.4" cy="240.4" r="1.35"/><circle cx="79.8" cy="243.6" r="1.35"/><circle cx="80.3" cy="241.5" r="1.35"/><circle cx="80.8" cy="239.3" r="1.35"/><circle cx="81.2" cy="241.3" r="1.35"/><circle cx="81.7" cy="236.1" r="1.35"/><circle cx="82.2" cy="237.7" r="1.35"/><circle cx="82.4" cy="237.4" r="1.35"/><circle cx="82.6" cy="241.3" r="1.35"/><circle cx="83.1" cy="239.6" r="1.35"/><circle cx="83.5" cy="239.8" r="1.35"/><circle cx="84.0" cy="239.4" r="1.35"/><circle cx="84.5" cy="242.6" r="1.35"/><circle cx="84.8" cy="243.0" r="1.35"/><circle cx="84.9" cy="246.5" r="1.35"/><circle cx="85.4" cy="239.7" r="1.35"/><circle cx="85.9" cy="245.8" r="1.35"/><circle cx="86.3" cy="246.4" r="1.35"/><circle cx="86.8" cy="247.2" r="1.35"/><circle cx="87.2" cy="244.6" r="1.35"/><circle cx="87.3" cy="246.2" r="1.35"/><circle cx="87.7" cy="245.3" r="1.35"/><circle cx="88.2" cy="241.8" r="1.35"/><circle cx="88.7" cy="240.7" r="1.35"/><circle cx="89.1" cy="238.3" r="1.35"/><circle cx="89.6" cy="234.1" r="1.35"/><circle cx="89.6" cy="237.4" r="1.35"/><circle cx="90.0" cy="241.2" r="1.35"/><circle cx="90.5" cy="240.0" r="1.35"/><circle cx="91.0" cy="238.3" r="1.35"/><circle cx="91.4" cy="241.7" r="1.35"/><circle cx="91.9" cy="242.6" r="1.35"/><circle cx="92.0" cy="243.0" r="1.35"/><circle cx="92.4" cy="241.6" r="1.35"/><circle cx="92.8" cy="241.0" r="1.35"/><circle cx="93.3" cy="242.0" r="1.35"/><circle cx="93.8" cy="242.2" r="1.35"/><circle cx="94.2" cy="241.6" r="1.35"/><circle cx="94.4" cy="240.6" r="1.35"/><circle cx="94.7" cy="237.1" r="1.35"/><circle cx="95.1" cy="229.7" r="1.35"/><circle cx="95.3" cy="230.3" r="1.35"/><circle cx="95.6" cy="209.9" r="1.35"/><circle cx="96.0" cy="187.0" r="1.35"/><circle cx="96.1" cy="185.7" r="1.35"/><circle cx="96.5" cy="189.5" r="1.35"/><circle cx="97.0" cy="192.6" r="1.35"/><circle cx="97.3" cy="192.0" r="1.35"/><circle cx="97.5" cy="196.2" r="1.35"/><circle cx="97.9" cy="203.7" r="1.35"/><circle cx="98.0" cy="203.4" r="1.35"/><circle cx="98.4" cy="208.1" r="1.35"/><circle cx="98.9" cy="209.1" r="1.35"/><circle cx="99.3" cy="215.8" r="1.35"/><circle cx="99.4" cy="214.7" r="1.35"/><circle cx="99.8" cy="217.7" r="1.35"/><circle cx="100.2" cy="217.4" r="1.35"/><circle cx="100.7" cy="219.7" r="1.35"/><circle cx="100.9" cy="223.2" r="1.35"/><circle cx="101.2" cy="221.6" r="1.35"/><circle cx="101.6" cy="226.7" r="1.35"/><circle cx="102.1" cy="225.6" r="1.35"/><circle cx="102.3" cy="227.5" r="1.35"/><circle cx="102.6" cy="225.9" r="1.35"/><circle cx="103.0" cy="229.1" r="1.35"/><circle cx="103.5" cy="228.2" r="1.35"/><circle cx="104.0" cy="227.5" r="1.35"/><circle cx="104.4" cy="228.5" r="1.35"/><circle cx="104.5" cy="230.3" r="1.35"/><circle cx="104.9" cy="216.2" r="1.35"/><circle cx="105.3" cy="200.6" r="1.35"/><circle cx="105.3" cy="198.4" r="1.35"/><circle cx="105.8" cy="193.4" r="1.35"/><circle cx="106.3" cy="190.1" r="1.35"/><circle cx="106.5" cy="186.4" r="1.35"/><circle cx="106.7" cy="187.1" r="1.35"/><circle cx="107.2" cy="188.1" r="1.35"/><circle cx="107.7" cy="190.6" r="1.35"/><circle cx="108.0" cy="192.0" r="1.35"/><circle cx="108.1" cy="191.5" r="1.35"/><circle cx="108.6" cy="199.9" r="1.35"/><circle cx="108.8" cy="203.4" r="1.35"/><circle cx="109.1" cy="203.9" r="1.35"/><circle cx="109.5" cy="204.4" r="1.35"/><circle cx="110.0" cy="205.6" r="1.35"/><circle cx="110.0" cy="207.6" r="1.35"/><circle cx="110.4" cy="213.1" r="1.35"/><circle cx="110.9" cy="214.7" r="1.35"/><circle cx="111.3" cy="217.6" r="1.35"/><circle cx="111.4" cy="216.5" r="1.35"/><circle cx="111.8" cy="220.8" r="1.35"/><circle cx="112.3" cy="224.1" r="1.35"/><circle cx="112.8" cy="222.5" r="1.35"/><circle cx="113.0" cy="226.0" r="1.35"/><circle cx="113.2" cy="224.1" r="1.35"/><circle cx="113.7" cy="225.7" r="1.35"/><circle cx="114.2" cy="229.6" r="1.35"/><circle cx="114.6" cy="227.8" r="1.35"/><circle cx="115.0" cy="230.3" r="1.35"/><circle cx="115.1" cy="231.4" r="1.35"/><circle cx="115.6" cy="232.0" r="1.35"/><circle cx="116.0" cy="231.9" r="1.35"/><circle cx="116.5" cy="231.0" r="1.35"/><circle cx="116.9" cy="235.4" r="1.35"/><circle cx="117.0" cy="233.1" r="1.35"/><circle cx="117.4" cy="234.9" r="1.35"/><circle cx="117.9" cy="233.9" r="1.35"/><circle cx="118.3" cy="232.8" r="1.35"/><circle cx="118.7" cy="234.5" r="1.35"/><circle cx="118.8" cy="233.9" r="1.35"/><circle cx="119.3" cy="226.1" r="1.35"/><circle cx="119.7" cy="220.4" r="1.35"/><circle cx="119.8" cy="219.0" r="1.35"/><circle cx="120.2" cy="221.8" r="1.35"/><circle cx="120.7" cy="227.7" r="1.35"/><circle cx="120.7" cy="227.5" r="1.35"/><circle cx="121.1" cy="225.9" r="1.35"/><circle cx="121.6" cy="227.8" r="1.35"/><circle cx="122.0" cy="231.8" r="1.35"/><circle cx="122.5" cy="232.0" r="1.35"/><circle cx="122.6" cy="230.3" r="1.35"/><circle cx="123.0" cy="190.4" r="1.35"/><circle cx="123.1" cy="178.0" r="1.35"/><circle cx="123.4" cy="151.2" r="1.35"/><circle cx="123.6" cy="135.4" r="1.35"/><circle cx="123.9" cy="157.3" r="1.35"/><circle cx="124.1" cy="173.6" r="1.35"/><circle cx="124.4" cy="186.3" r="1.35"/><circle cx="124.6" cy="193.6" r="1.35"/><circle cx="124.8" cy="197.5" r="1.35"/><circle cx="125.3" cy="201.2" r="1.35"/><circle cx="125.8" cy="205.8" r="1.35"/><circle cx="125.8" cy="207.6" r="1.35"/><circle cx="126.2" cy="207.0" r="1.35"/><circle cx="126.7" cy="213.4" r="1.35"/><circle cx="127.1" cy="211.2" r="1.35"/><circle cx="127.6" cy="217.2" r="1.35"/><circle cx="127.7" cy="216.0" r="1.35"/><circle cx="128.1" cy="218.5" r="1.35"/><circle cx="128.5" cy="216.8" r="1.35"/><circle cx="129.0" cy="215.1" r="1.35"/><circle cx="129.5" cy="218.8" r="1.35"/><circle cx="129.9" cy="219.6" r="1.35"/><circle cx="130.4" cy="218.5" r="1.35"/><circle cx="130.6" cy="217.6" r="1.35"/><circle cx="130.9" cy="217.8" r="1.35"/><circle cx="131.3" cy="217.3" r="1.35"/><circle cx="131.8" cy="217.4" r="1.35"/><circle cx="132.2" cy="217.0" r="1.35"/><circle cx="132.7" cy="219.5" r="1.35"/><circle cx="133.2" cy="218.6" r="1.35"/><circle cx="133.4" cy="219.0" r="1.35"/><circle cx="133.6" cy="217.6" r="1.35"/><circle cx="134.1" cy="217.5" r="1.35"/><circle cx="134.6" cy="220.6" r="1.35"/><circle cx="135.0" cy="219.0" r="1.35"/><circle cx="135.5" cy="220.4" r="1.35"/><circle cx="136.0" cy="219.8" r="1.35"/><circle cx="136.4" cy="222.8" r="1.35"/><circle cx="136.9" cy="223.3" r="1.35"/><circle cx="137.3" cy="219.2" r="1.35"/><circle cx="137.7" cy="221.8" r="1.35"/><circle cx="137.8" cy="220.2" r="1.35"/><circle cx="138.3" cy="220.4" r="1.35"/><circle cx="138.7" cy="223.2" r="1.35"/><circle cx="139.2" cy="221.7" r="1.35"/><circle cx="139.7" cy="219.0" r="1.35"/><circle cx="140.1" cy="217.9" r="1.35"/><circle cx="140.5" cy="219.0" r="1.35"/><circle cx="140.6" cy="218.0" r="1.35"/><circle cx="141.1" cy="209.9" r="1.35"/><circle cx="141.5" cy="201.4" r="1.35"/><circle cx="141.9" cy="192.0" r="1.35"/><circle cx="142.0" cy="191.1" r="1.35"/><circle cx="142.5" cy="193.1" r="1.35"/><circle cx="142.6" cy="191.0" r="1.35"/><circle cx="142.9" cy="193.7" r="1.35"/><circle cx="143.3" cy="195.0" r="1.35"/><circle cx="143.4" cy="195.4" r="1.35"/><circle cx="143.8" cy="200.7" r="1.35"/><circle cx="144.3" cy="199.7" r="1.35"/><circle cx="144.7" cy="203.4" r="1.35"/><circle cx="144.8" cy="204.9" r="1.35"/><circle cx="145.2" cy="204.0" r="1.35"/><circle cx="145.7" cy="206.8" r="1.35"/><circle cx="146.1" cy="210.5" r="1.35"/><circle cx="146.2" cy="211.0" r="1.35"/><circle cx="146.6" cy="195.4" r="1.35"/><circle cx="147.0" cy="187.0" r="1.35"/><circle cx="147.1" cy="187.1" r="1.35"/><circle cx="147.6" cy="179.8" r="1.35"/><circle cx="148.0" cy="173.0" r="1.35"/><circle cx="148.0" cy="174.9" r="1.35"/><circle cx="148.5" cy="177.4" r="1.35"/><circle cx="148.9" cy="182.2" r="1.35"/><circle cx="149.0" cy="183.6" r="1.35"/><circle cx="149.4" cy="185.0" r="1.35"/><circle cx="149.9" cy="190.7" r="1.35"/><circle cx="150.3" cy="192.1" r="1.35"/><circle cx="150.4" cy="192.0" r="1.35"/><circle cx="150.8" cy="196.7" r="1.35"/><circle cx="151.3" cy="199.2" r="1.35"/><circle cx="151.7" cy="198.3" r="1.35"/><circle cx="151.8" cy="200.6" r="1.35"/><circle cx="152.2" cy="201.6" r="1.35"/><circle cx="152.7" cy="200.3" r="1.35"/><circle cx="153.1" cy="200.9" r="1.35"/><circle cx="153.6" cy="202.0" r="1.35"/><circle cx="154.0" cy="206.9" r="1.35"/><circle cx="154.5" cy="207.5" r="1.35"/><circle cx="154.6" cy="206.2" r="1.35"/><circle cx="155.0" cy="208.8" r="1.35"/><circle cx="155.4" cy="207.5" r="1.35"/><circle cx="155.9" cy="210.0" r="1.35"/><circle cx="156.4" cy="211.9" r="1.35"/><circle cx="156.8" cy="211.0" r="1.35"/><circle cx="157.3" cy="213.1" r="1.35"/><circle cx="157.5" cy="213.3" r="1.35"/><circle cx="157.8" cy="212.4" r="1.35"/><circle cx="158.2" cy="212.4" r="1.35"/><circle cx="158.7" cy="214.2" r="1.35"/><circle cx="159.1" cy="218.1" r="1.35"/><circle cx="159.6" cy="217.3" r="1.35"/><circle cx="160.0" cy="217.6" r="1.35"/><circle cx="160.1" cy="219.9" r="1.35"/><circle cx="160.5" cy="218.3" r="1.35"/><circle cx="161.0" cy="218.2" r="1.35"/><circle cx="161.5" cy="221.5" r="1.35"/><circle cx="161.9" cy="222.5" r="1.35"/><circle cx="162.0" cy="221.0" r="1.35"/><circle cx="162.4" cy="219.1" r="1.35"/><circle cx="162.9" cy="223.1" r="1.35"/><circle cx="163.3" cy="220.9" r="1.35"/><circle cx="163.5" cy="223.2" r="1.35"/><circle cx="163.8" cy="218.7" r="1.35"/><circle cx="164.2" cy="218.4" r="1.35"/><circle cx="164.3" cy="216.0" r="1.35"/><circle cx="164.7" cy="185.5" r="1.35"/><circle cx="164.9" cy="175.0" r="1.35"/><circle cx="165.2" cy="165.2" r="1.35"/><circle cx="165.4" cy="159.6" r="1.35"/><circle cx="165.6" cy="164.0" r="1.35"/><circle cx="166.1" cy="164.8" r="1.35"/><circle cx="166.4" cy="167.6" r="1.35"/><circle cx="166.6" cy="169.2" r="1.35"/><circle cx="166.9" cy="178.0" r="1.35"/><circle cx="167.0" cy="177.1" r="1.35"/><circle cx="167.5" cy="180.2" r="1.35"/><circle cx="168.0" cy="185.4" r="1.35"/><circle cx="168.0" cy="184.4" r="1.35"/><circle cx="168.4" cy="185.1" r="1.35"/><circle cx="168.9" cy="192.0" r="1.35"/><circle cx="169.4" cy="192.2" r="1.35"/><circle cx="169.7" cy="195.0" r="1.35"/><circle cx="169.8" cy="197.7" r="1.35"/><circle cx="170.3" cy="199.0" r="1.35"/><circle cx="170.7" cy="197.4" r="1.35"/><circle cx="171.2" cy="198.7" r="1.35"/><circle cx="171.4" cy="200.6" r="1.35"/><circle cx="171.7" cy="193.0" r="1.35"/><circle cx="172.1" cy="178.2" r="1.35"/><circle cx="172.5" cy="170.0" r="1.35"/><circle cx="172.6" cy="170.3" r="1.35"/><circle cx="173.1" cy="164.8" r="1.35"/><circle cx="173.2" cy="166.4" r="1.35"/><circle cx="173.5" cy="169.9" r="1.35"/><circle cx="173.6" cy="173.7" r="1.35"/><circle cx="174.0" cy="183.4" r="1.35"/><circle cx="174.2" cy="185.0" r="1.35"/><circle cx="174.5" cy="186.1" r="1.35"/><circle cx="174.9" cy="191.5" r="1.35"/><circle cx="175.4" cy="194.6" r="1.35"/><circle cx="175.4" cy="195.0" r="1.35"/><circle cx="175.8" cy="201.8" r="1.35"/><circle cx="176.2" cy="209.0" r="1.35"/><circle cx="176.3" cy="205.9" r="1.35"/><circle cx="176.8" cy="206.5" r="1.35"/><circle cx="177.2" cy="203.0" r="1.35"/><circle cx="177.6" cy="197.7" r="1.35"/><circle cx="177.7" cy="194.3" r="1.35"/><circle cx="178.2" cy="163.3" r="1.35"/><circle cx="178.4" cy="151.6" r="1.35"/><circle cx="178.6" cy="141.7" r="1.35"/><circle cx="179.1" cy="126.3" r="1.35"/><circle cx="179.2" cy="121.6" r="1.35"/><circle cx="179.6" cy="119.9" r="1.35"/><circle cx="179.6" cy="117.0" r="1.35"/><circle cx="180.0" cy="122.7" r="1.35"/><circle cx="180.1" cy="123.6" r="1.35"/><circle cx="180.5" cy="143.1" r="1.35"/><circle cx="180.5" cy="143.0" r="1.35"/><circle cx="180.9" cy="160.4" r="1.35"/><circle cx="181.0" cy="161.6" r="1.35"/><circle cx="181.4" cy="163.7" r="1.35"/><circle cx="181.9" cy="168.9" r="1.35"/><circle cx="182.3" cy="171.5" r="1.35"/><circle cx="182.4" cy="173.0" r="1.35"/><circle cx="182.8" cy="175.7" r="1.35"/><circle cx="183.3" cy="179.6" r="1.35"/><circle cx="183.3" cy="182.0" r="1.35"/><circle cx="183.7" cy="182.2" r="1.35"/><circle cx="184.2" cy="187.2" r="1.35"/><circle cx="184.7" cy="186.0" r="1.35"/><circle cx="185.1" cy="188.5" r="1.35"/><circle cx="185.6" cy="189.9" r="1.35"/><circle cx="185.6" cy="189.2" r="1.35"/><circle cx="186.0" cy="192.7" r="1.35"/><circle cx="186.4" cy="191.6" r="1.35"/><circle cx="186.5" cy="190.0" r="1.35"/><circle cx="187.0" cy="185.0" r="1.35"/><circle cx="187.4" cy="180.5" r="1.35"/><circle cx="187.5" cy="180.8" r="1.35"/><circle cx="187.9" cy="178.5" r="1.35"/><circle cx="188.4" cy="179.5" r="1.35"/><circle cx="188.8" cy="178.1" r="1.35"/><circle cx="189.3" cy="173.5" r="1.35"/><circle cx="189.8" cy="172.0" r="1.35"/><circle cx="190.0" cy="172.0" r="1.35"/><circle cx="190.2" cy="172.1" r="1.35"/><circle cx="190.7" cy="172.2" r="1.35"/><circle cx="191.1" cy="172.1" r="1.35"/><circle cx="191.6" cy="170.2" r="1.35"/><circle cx="192.1" cy="168.9" r="1.35"/><circle cx="192.5" cy="169.8" r="1.35"/><circle cx="193.0" cy="168.8" r="1.35"/><circle cx="193.2" cy="170.9" r="1.35"/><circle cx="193.5" cy="171.2" r="1.35"/><circle cx="193.9" cy="168.8" r="1.35"/><circle cx="194.0" cy="171.0" r="1.35"/><circle cx="194.4" cy="170.3" r="1.35"/><circle cx="194.9" cy="174.7" r="1.35"/><circle cx="195.3" cy="174.6" r="1.35"/><circle cx="195.8" cy="178.7" r="1.35"/><circle cx="196.0" cy="178.0" r="1.35"/><circle cx="196.3" cy="177.8" r="1.35"/><circle cx="196.7" cy="179.3" r="1.35"/><circle cx="197.2" cy="175.4" r="1.35"/><circle cx="197.6" cy="176.8" r="1.35"/><circle cx="198.1" cy="177.9" r="1.35"/><circle cx="198.6" cy="174.0" r="1.35"/><circle cx="199.0" cy="178.0" r="1.35"/><circle cx="199.5" cy="173.7" r="1.35"/><circle cx="200.0" cy="176.4" r="1.35"/><circle cx="200.0" cy="175.0" r="1.35"/><circle cx="200.4" cy="178.1" r="1.35"/><circle cx="200.9" cy="177.9" r="1.35"/><circle cx="201.4" cy="176.1" r="1.35"/><circle cx="201.8" cy="175.8" r="1.35"/><circle cx="202.0" cy="178.0" r="1.35"/><circle cx="202.3" cy="178.9" r="1.35"/><circle cx="202.7" cy="182.2" r="1.35"/><circle cx="203.2" cy="180.3" r="1.35"/><circle cx="203.7" cy="184.6" r="1.35"/><circle cx="204.1" cy="182.2" r="1.35"/><circle cx="204.5" cy="185.0" r="1.35"/><circle cx="204.6" cy="187.2" r="1.35"/><circle cx="205.1" cy="183.6" r="1.35"/><circle cx="205.5" cy="185.8" r="1.35"/><circle cx="206.0" cy="189.4" r="1.35"/><circle cx="206.5" cy="189.7" r="1.35"/><circle cx="206.9" cy="191.0" r="1.35"/><circle cx="207.4" cy="191.4" r="1.35"/><circle cx="207.8" cy="191.7" r="1.35"/><circle cx="208.3" cy="192.1" r="1.35"/><circle cx="208.8" cy="190.3" r="1.35"/><circle cx="208.8" cy="192.0" r="1.35"/><circle cx="209.2" cy="192.3" r="1.35"/><circle cx="209.7" cy="191.5" r="1.35"/><circle cx="210.2" cy="194.9" r="1.35"/><circle cx="210.6" cy="195.3" r="1.35"/><circle cx="211.1" cy="193.9" r="1.35"/><circle cx="211.6" cy="193.6" r="1.35"/><circle cx="212.0" cy="198.7" r="1.35"/><circle cx="212.5" cy="198.5" r="1.35"/><circle cx="212.9" cy="197.9" r="1.35"/><circle cx="213.0" cy="197.7" r="1.35"/><circle cx="213.4" cy="198.7" r="1.35"/><circle cx="213.9" cy="201.2" r="1.35"/><circle cx="214.3" cy="200.1" r="1.35"/><circle cx="214.8" cy="200.7" r="1.35"/><circle cx="215.3" cy="201.4" r="1.35"/><circle cx="215.7" cy="201.9" r="1.35"/><circle cx="216.2" cy="201.6" r="1.35"/><circle cx="216.7" cy="205.7" r="1.35"/><circle cx="217.1" cy="205.4" r="1.35"/><circle cx="217.3" cy="206.2" r="1.35"/><circle cx="217.6" cy="207.1" r="1.35"/><circle cx="218.0" cy="205.5" r="1.35"/><circle cx="218.5" cy="207.9" r="1.35"/><circle cx="219.0" cy="207.8" r="1.35"/><circle cx="219.4" cy="208.7" r="1.35"/><circle cx="219.9" cy="210.3" r="1.35"/><circle cx="220.4" cy="214.1" r="1.35"/><circle cx="220.8" cy="212.8" r="1.35"/><circle cx="221.3" cy="213.8" r="1.35"/><circle cx="221.5" cy="214.7" r="1.35"/><circle cx="221.8" cy="215.5" r="1.35"/><circle cx="222.2" cy="214.1" r="1.35"/><circle cx="222.7" cy="213.4" r="1.35"/><circle cx="223.2" cy="216.5" r="1.35"/><circle cx="223.6" cy="216.8" r="1.35"/><circle cx="224.1" cy="218.0" r="1.35"/><circle cx="224.5" cy="217.4" r="1.35"/><circle cx="225.0" cy="219.1" r="1.35"/><circle cx="225.5" cy="219.8" r="1.35"/><circle cx="225.8" cy="219.0" r="1.35"/><circle cx="225.9" cy="217.8" r="1.35"/><circle cx="226.4" cy="219.4" r="1.35"/><circle cx="226.9" cy="219.6" r="1.35"/><circle cx="227.3" cy="218.6" r="1.35"/><circle cx="227.8" cy="219.9" r="1.35"/><circle cx="228.3" cy="220.9" r="1.35"/><circle cx="228.7" cy="223.0" r="1.35"/><circle cx="229.2" cy="223.3" r="1.35"/><circle cx="229.6" cy="220.4" r="1.35"/><circle cx="230.0" cy="221.8" r="1.35"/><circle cx="230.1" cy="222.8" r="1.35"/><circle cx="230.6" cy="221.0" r="1.35"/><circle cx="231.0" cy="222.3" r="1.35"/><circle cx="231.5" cy="225.7" r="1.35"/><circle cx="232.0" cy="228.7" r="1.35"/><circle cx="232.4" cy="226.2" r="1.35"/><circle cx="232.8" cy="228.9" r="1.35"/><circle cx="232.9" cy="230.2" r="1.35"/><circle cx="233.4" cy="230.8" r="1.35"/><circle cx="233.8" cy="228.0" r="1.35"/><circle cx="234.3" cy="229.9" r="1.35"/><circle cx="234.7" cy="230.6" r="1.35"/><circle cx="235.2" cy="228.3" r="1.35"/><circle cx="235.7" cy="229.9" r="1.35"/><circle cx="236.1" cy="230.1" r="1.35"/><circle cx="236.6" cy="229.4" r="1.35"/><circle cx="237.1" cy="230.7" r="1.35"/><circle cx="237.1" cy="228.9" r="1.35"/><circle cx="237.5" cy="230.9" r="1.35"/><circle cx="238.0" cy="231.2" r="1.35"/><circle cx="238.5" cy="229.3" r="1.35"/><circle cx="238.9" cy="227.3" r="1.35"/><circle cx="239.4" cy="227.7" r="1.35"/><circle cx="239.8" cy="227.5" r="1.35"/><circle cx="240.3" cy="229.2" r="1.35"/><circle cx="240.8" cy="230.2" r="1.35"/><circle cx="241.2" cy="226.7" r="1.35"/><circle cx="241.3" cy="228.9" r="1.35"/><circle cx="241.7" cy="230.3" r="1.35"/><circle cx="242.2" cy="231.1" r="1.35"/><circle cx="242.6" cy="229.9" r="1.35"/><circle cx="243.1" cy="231.3" r="1.35"/><circle cx="243.6" cy="230.2" r="1.35"/><circle cx="244.0" cy="233.6" r="1.35"/><circle cx="244.5" cy="230.8" r="1.35"/><circle cx="244.9" cy="236.1" r="1.35"/><circle cx="245.4" cy="235.8" r="1.35"/><circle cx="245.6" cy="234.5" r="1.35"/><circle cx="245.9" cy="235.4" r="1.35"/><circle cx="246.3" cy="234.1" r="1.35"/><circle cx="246.8" cy="237.8" r="1.35"/><circle cx="247.3" cy="238.5" r="1.35"/><circle cx="247.7" cy="234.9" r="1.35"/><circle cx="248.2" cy="238.5" r="1.35"/><circle cx="248.7" cy="239.3" r="1.35"/><circle cx="249.1" cy="238.9" r="1.35"/><circle cx="249.6" cy="239.6" r="1.35"/><circle cx="249.8" cy="238.8" r="1.35"/><circle cx="250.1" cy="238.8" r="1.35"/><circle cx="250.5" cy="241.6" r="1.35"/><circle cx="251.0" cy="242.3" r="1.35"/><circle cx="251.4" cy="239.8" r="1.35"/><circle cx="251.9" cy="242.3" r="1.35"/><circle cx="252.4" cy="240.9" r="1.35"/><circle cx="252.7" cy="241.6" r="1.35"/><circle cx="252.8" cy="239.8" r="1.35"/><circle cx="253.3" cy="240.3" r="1.35"/><circle cx="253.8" cy="239.0" r="1.35"/><circle cx="254.2" cy="242.6" r="1.35"/><circle cx="254.7" cy="242.6" r="1.35"/><circle cx="255.2" cy="238.1" r="1.35"/><circle cx="255.6" cy="240.2" r="1.35"/><circle cx="256.1" cy="238.9" r="1.35"/><circle cx="256.5" cy="237.1" r="1.35"/><circle cx="256.9" cy="238.8" r="1.35"/><circle cx="257.0" cy="237.3" r="1.35"/><circle cx="257.5" cy="234.9" r="1.35"/><circle cx="257.9" cy="235.3" r="1.35"/><circle cx="258.4" cy="229.5" r="1.35"/><circle cx="258.9" cy="228.3" r="1.35"/><circle cx="259.3" cy="227.4" r="1.35"/><circle cx="259.7" cy="226.0" r="1.35"/><circle cx="259.8" cy="223.7" r="1.35"/><circle cx="260.3" cy="227.2" r="1.35"/><circle cx="260.7" cy="227.5" r="1.35"/><circle cx="261.2" cy="229.2" r="1.35"/><circle cx="261.6" cy="226.5" r="1.35"/><circle cx="262.1" cy="227.3" r="1.35"/><circle cx="262.6" cy="229.1" r="1.35"/><circle cx="262.6" cy="228.9" r="1.35"/><circle cx="263.0" cy="228.6" r="1.35"/><circle cx="263.5" cy="231.1" r="1.35"/><circle cx="264.0" cy="230.4" r="1.35"/><circle cx="264.4" cy="233.5" r="1.35"/><circle cx="264.9" cy="234.9" r="1.35"/><circle cx="265.4" cy="236.0" r="1.35"/><circle cx="265.4" cy="234.5" r="1.35"/><circle cx="265.8" cy="232.2" r="1.35"/><circle cx="266.3" cy="225.0" r="1.35"/><circle cx="266.7" cy="219.5" r="1.35"/><circle cx="266.8" cy="219.0" r="1.35"/><circle cx="267.2" cy="218.7" r="1.35"/><circle cx="267.7" cy="216.0" r="1.35"/><circle cx="268.1" cy="212.7" r="1.35"/><circle cx="268.2" cy="212.0" r="1.35"/><circle cx="268.6" cy="206.9" r="1.35"/><circle cx="269.1" cy="201.2" r="1.35"/><circle cx="269.5" cy="195.1" r="1.35"/><circle cx="269.6" cy="196.3" r="1.35"/><circle cx="270.0" cy="200.6" r="1.35"/><circle cx="270.5" cy="200.4" r="1.35"/><circle cx="270.9" cy="206.9" r="1.35"/><circle cx="271.0" cy="206.2" r="1.35"/><circle cx="271.4" cy="207.4" r="1.35"/><circle cx="271.8" cy="210.6" r="1.35"/><circle cx="272.3" cy="210.7" r="1.35"/><circle cx="272.8" cy="212.9" r="1.35"/><circle cx="273.2" cy="209.8" r="1.35"/><circle cx="273.4" cy="212.0" r="1.35"/><circle cx="273.7" cy="213.1" r="1.35"/><circle cx="274.2" cy="215.2" r="1.35"/><circle cx="274.6" cy="215.6" r="1.35"/><circle cx="275.1" cy="218.2" r="1.35"/><circle cx="275.6" cy="219.2" r="1.35"/><circle cx="275.7" cy="220.4" r="1.35"/><circle cx="276.0" cy="220.9" r="1.35"/><circle cx="276.5" cy="218.7" r="1.35"/><circle cx="276.9" cy="221.4" r="1.35"/><circle cx="277.4" cy="221.9" r="1.35"/><circle cx="277.9" cy="221.6" r="1.35"/><circle cx="278.3" cy="222.5" r="1.35"/><circle cx="278.5" cy="223.2" r="1.35"/><circle cx="278.8" cy="225.1" r="1.35"/><circle cx="279.3" cy="225.3" r="1.35"/><circle cx="279.7" cy="225.1" r="1.35"/><circle cx="280.2" cy="226.5" r="1.35"/><circle cx="280.7" cy="225.9" r="1.35"/><circle cx="281.1" cy="225.7" r="1.35"/><circle cx="281.3" cy="227.5" r="1.35"/><circle cx="281.6" cy="225.3" r="1.35"/><circle cx="282.1" cy="227.1" r="1.35"/><circle cx="282.5" cy="229.2" r="1.35"/><circle cx="283.0" cy="231.0" r="1.35"/><circle cx="283.4" cy="231.2" r="1.35"/><circle cx="283.9" cy="230.1" r="1.35"/><circle cx="284.2" cy="230.3" r="1.35"/><circle cx="284.4" cy="232.5" r="1.35"/><circle cx="284.8" cy="229.1" r="1.35"/><circle cx="285.3" cy="230.3" r="1.35"/><circle cx="285.8" cy="227.4" r="1.35"/><circle cx="286.2" cy="228.4" r="1.35"/><circle cx="286.7" cy="228.9" r="1.35"/><circle cx="287.0" cy="226.0" r="1.35"/><circle cx="287.2" cy="224.3" r="1.35"/><circle cx="287.6" cy="221.3" r="1.35"/><circle cx="288.1" cy="221.2" r="1.35"/><circle cx="288.4" cy="219.0" r="1.35"/><circle cx="288.5" cy="219.5" r="1.35"/><circle cx="289.0" cy="219.8" r="1.35"/><circle cx="289.5" cy="219.2" r="1.35"/><circle cx="289.9" cy="222.3" r="1.35"/><circle cx="290.4" cy="223.6" r="1.35"/><circle cx="290.9" cy="224.7" r="1.35"/><circle cx="291.2" cy="226.0" r="1.35"/><circle cx="291.3" cy="227.6" r="1.35"/><circle cx="291.8" cy="225.5" r="1.35"/><circle cx="292.3" cy="225.6" r="1.35"/><circle cx="292.7" cy="225.7" r="1.35"/><circle cx="293.2" cy="224.3" r="1.35"/><circle cx="293.6" cy="222.3" r="1.35"/><circle cx="294.0" cy="221.8" r="1.35"/><circle cx="294.1" cy="223.3" r="1.35"/><circle cx="294.6" cy="223.9" r="1.35"/><circle cx="295.0" cy="225.1" r="1.35"/><circle cx="295.5" cy="226.1" r="1.35"/><circle cx="296.0" cy="226.1" r="1.35"/><circle cx="296.4" cy="228.4" r="1.35"/><circle cx="296.9" cy="229.6" r="1.35"/><circle cx="296.9" cy="228.9" r="1.35"/><circle cx="297.4" cy="232.0" r="1.35"/><circle cx="297.8" cy="232.2" r="1.35"/><circle cx="298.3" cy="233.4" r="1.35"/><circle cx="298.7" cy="233.9" r="1.35"/><circle cx="299.2" cy="235.1" r="1.35"/><circle cx="299.7" cy="235.0" r="1.35"/><circle cx="299.7" cy="234.5" r="1.35"/><circle cx="300.1" cy="234.3" r="1.35"/><circle cx="300.6" cy="234.5" r="1.35"/><circle cx="301.1" cy="237.4" r="1.35"/><circle cx="301.5" cy="238.8" r="1.35"/><circle cx="302.0" cy="237.8" r="1.35"/><circle cx="302.5" cy="236.4" r="1.35"/><circle cx="302.9" cy="240.4" r="1.35"/><circle cx="303.4" cy="239.3" r="1.35"/><circle cx="303.8" cy="239.8" r="1.35"/><circle cx="304.0" cy="240.2" r="1.35"/><circle cx="304.3" cy="238.1" r="1.35"/><circle cx="304.8" cy="240.8" r="1.35"/><circle cx="305.2" cy="242.3" r="1.35"/><circle cx="305.7" cy="240.9" r="1.35"/><circle cx="306.2" cy="240.9" r="1.35"/><circle cx="306.6" cy="242.7" r="1.35"/><circle cx="307.1" cy="239.9" r="1.35"/><circle cx="307.6" cy="242.6" r="1.35"/><circle cx="308.0" cy="245.1" r="1.35"/><circle cx="308.2" cy="243.0" r="1.35"/><circle cx="308.5" cy="244.4" r="1.35"/><circle cx="309.0" cy="243.7" r="1.35"/><circle cx="309.4" cy="245.8" r="1.35"/><circle cx="309.9" cy="246.1" r="1.35"/><circle cx="310.3" cy="244.8" r="1.35"/><circle cx="310.8" cy="245.6" r="1.35"/><circle cx="311.3" cy="249.7" r="1.35"/><circle cx="311.7" cy="247.3" r="1.35"/><circle cx="311.9" cy="248.7" r="1.35"/><circle cx="312.2" cy="189.3" r="1.35"/><circle cx="312.4" cy="152.5" r="1.35"/><circle cx="312.7" cy="159.1" r="1.35"/><circle cx="313.1" cy="166.2" r="1.35"/><circle cx="313.3" cy="169.4" r="1.35"/><circle cx="313.6" cy="169.7" r="1.35"/><circle cx="314.1" cy="171.9" r="1.35"/><circle cx="314.2" cy="172.3" r="1.35"/><circle cx="314.5" cy="180.2" r="1.35"/><circle cx="314.8" cy="185.0" r="1.35"/><circle cx="315.0" cy="185.4" r="1.35"/><circle cx="315.3" cy="190.7" r="1.35"/><circle cx="315.4" cy="191.9" r="1.35"/><circle cx="315.9" cy="193.6" r="1.35"/><circle cx="316.4" cy="195.6" r="1.35"/><circle cx="316.7" cy="195.0" r="1.35"/><circle cx="316.8" cy="194.7" r="1.35"/><circle cx="317.3" cy="199.1" r="1.35"/><circle cx="317.8" cy="200.0" r="1.35"/><circle cx="318.1" cy="203.4" r="1.35"/><circle cx="318.2" cy="203.9" r="1.35"/><circle cx="318.7" cy="202.6" r="1.35"/><circle cx="319.2" cy="206.4" r="1.35"/><circle cx="319.6" cy="207.4" r="1.35"/><circle cx="320.1" cy="205.4" r="1.35"/><circle cx="320.5" cy="205.6" r="1.35"/><circle cx="321.0" cy="207.6" r="1.35"/><circle cx="321.0" cy="209.9" r="1.35"/><circle cx="321.5" cy="208.2" r="1.35"/><circle cx="321.9" cy="208.4" r="1.35"/><circle cx="322.4" cy="203.9" r="1.35"/><circle cx="322.9" cy="207.7" r="1.35"/><circle cx="323.3" cy="205.9" r="1.35"/><circle cx="323.8" cy="203.9" r="1.35"/><circle cx="323.8" cy="204.8" r="1.35"/><circle cx="324.3" cy="206.5" r="1.35"/><circle cx="324.7" cy="210.3" r="1.35"/><circle cx="325.2" cy="212.6" r="1.35"/><circle cx="325.6" cy="211.7" r="1.35"/><circle cx="326.1" cy="216.0" r="1.35"/><circle cx="326.6" cy="215.8" r="1.35"/><circle cx="326.6" cy="217.6" r="1.35"/><circle cx="327.0" cy="221.1" r="1.35"/><circle cx="327.5" cy="219.6" r="1.35"/><circle cx="328.0" cy="223.1" r="1.35"/><circle cx="328.4" cy="223.3" r="1.35"/><circle cx="328.9" cy="223.9" r="1.35"/><circle cx="329.4" cy="223.3" r="1.35"/><circle cx="329.4" cy="224.6" r="1.35"/><circle cx="329.8" cy="225.2" r="1.35"/><circle cx="330.3" cy="223.7" r="1.35"/><circle cx="330.7" cy="224.1" r="1.35"/><circle cx="331.2" cy="227.5" r="1.35"/><circle cx="331.7" cy="226.2" r="1.35"/><circle cx="332.1" cy="228.6" r="1.35"/><circle cx="332.6" cy="226.5" r="1.35"/><circle cx="333.1" cy="229.4" r="1.35"/><circle cx="333.5" cy="229.8" r="1.35"/><circle cx="333.7" cy="228.9" r="1.35"/><circle cx="334.0" cy="228.1" r="1.35"/><circle cx="334.5" cy="227.4" r="1.35"/><circle cx="334.9" cy="229.2" r="1.35"/><circle cx="335.4" cy="230.0" r="1.35"/><circle cx="335.9" cy="228.3" r="1.35"/><circle cx="336.3" cy="229.1" r="1.35"/><circle cx="336.8" cy="228.7" r="1.35"/><circle cx="337.2" cy="231.7" r="1.35"/><circle cx="337.7" cy="233.5" r="1.35"/><circle cx="337.9" cy="231.7" r="1.35"/><circle cx="338.2" cy="230.2" r="1.35"/><circle cx="338.6" cy="229.1" r="1.35"/><circle cx="339.1" cy="232.3" r="1.35"/><circle cx="339.6" cy="232.7" r="1.35"/><circle cx="340.0" cy="233.3" r="1.35"/><circle cx="340.5" cy="231.4" r="1.35"/><circle cx="341.0" cy="229.9" r="1.35"/><circle cx="341.4" cy="232.2" r="1.35"/><circle cx="341.9" cy="228.5" r="1.35"/><circle cx="342.2" cy="230.3" r="1.35"/><circle cx="342.3" cy="231.5" r="1.35"/><circle cx="342.8" cy="229.3" r="1.35"/><circle cx="343.3" cy="231.6" r="1.35"/><circle cx="343.7" cy="232.9" r="1.35"/><circle cx="344.2" cy="233.1" r="1.35"/><circle cx="344.7" cy="232.8" r="1.35"/><circle cx="345.1" cy="233.9" r="1.35"/><circle cx="345.6" cy="237.6" r="1.35"/><circle cx="346.1" cy="236.6" r="1.35"/><circle cx="346.4" cy="237.4" r="1.35"/><circle cx="346.5" cy="237.6" r="1.35"/><circle cx="347.0" cy="235.2" r="1.35"/><circle cx="347.4" cy="237.1" r="1.35"/><circle cx="347.9" cy="234.5" r="1.35"/><circle cx="348.4" cy="235.3" r="1.35"/><circle cx="348.8" cy="236.2" r="1.35"/><circle cx="349.3" cy="236.0" r="1.35"/><circle cx="349.8" cy="230.7" r="1.35"/><circle cx="350.2" cy="233.8" r="1.35"/><circle cx="350.7" cy="233.5" r="1.35"/><circle cx="350.7" cy="231.7" r="1.35"/><circle cx="351.2" cy="232.2" r="1.35"/><circle cx="351.6" cy="233.9" r="1.35"/><circle cx="352.1" cy="236.3" r="1.35"/><circle cx="352.5" cy="239.4" r="1.35"/><circle cx="353.0" cy="238.2" r="1.35"/><circle cx="353.5" cy="242.0" r="1.35"/><circle cx="353.5" cy="240.2" r="1.35"/><circle cx="353.9" cy="241.8" r="1.35"/><circle cx="354.4" cy="239.1" r="1.35"/><circle cx="354.9" cy="243.2" r="1.35"/><circle cx="355.3" cy="239.0" r="1.35"/><circle cx="355.8" cy="240.0" r="1.35"/><circle cx="356.3" cy="242.9" r="1.35"/><circle cx="356.7" cy="240.1" r="1.35"/><circle cx="357.2" cy="242.1" r="1.35"/><circle cx="357.6" cy="241.1" r="1.35"/><circle cx="357.7" cy="243.0" r="1.35"/><circle cx="358.1" cy="243.4" r="1.35"/><circle cx="358.6" cy="245.9" r="1.35"/><circle cx="359.0" cy="246.8" r="1.35"/><circle cx="359.5" cy="243.1" r="1.35"/><circle cx="360.0" cy="243.8" r="1.35"/><circle cx="360.4" cy="248.3" r="1.35"/><circle cx="360.9" cy="245.0" r="1.35"/><circle cx="361.4" cy="246.7" r="1.35"/><circle cx="361.8" cy="246.6" r="1.35"/><circle cx="362.0" cy="248.7" r="1.35"/><circle cx="362.3" cy="246.8" r="1.35"/><circle cx="362.8" cy="246.6" r="1.35"/><circle cx="363.2" cy="249.8" r="1.35"/><circle cx="363.7" cy="250.5" r="1.35"/><circle cx="364.1" cy="250.3" r="1.35"/><circle cx="364.6" cy="251.3" r="1.35"/><circle cx="365.1" cy="250.5" r="1.35"/><circle cx="365.5" cy="249.3" r="1.35"/><circle cx="366.0" cy="250.7" r="1.35"/><circle cx="366.2" cy="250.1" r="1.35"/><circle cx="366.5" cy="252.7" r="1.35"/><circle cx="366.9" cy="251.5" r="1.35"/><circle cx="367.4" cy="250.0" r="1.35"/><circle cx="367.9" cy="249.6" r="1.35"/><circle cx="368.3" cy="254.4" r="1.35"/><circle cx="368.8" cy="253.1" r="1.35"/><circle cx="369.2" cy="252.4" r="1.35"/><circle cx="369.7" cy="254.1" r="1.35"/><circle cx="370.2" cy="254.4" r="1.35"/><circle cx="370.5" cy="254.4" r="1.35"/><circle cx="370.6" cy="254.6" r="1.35"/><circle cx="371.1" cy="252.8" r="1.35"/><circle cx="371.6" cy="254.7" r="1.35"/><circle cx="372.0" cy="255.5" r="1.35"/><circle cx="372.5" cy="254.9" r="1.35"/><circle cx="373.0" cy="258.8" r="1.35"/><circle cx="373.4" cy="256.9" r="1.35"/><circle cx="373.9" cy="258.6" r="1.35"/><circle cx="374.3" cy="259.3" r="1.35"/><circle cx="374.7" cy="258.6" r="1.35"/><circle cx="374.8" cy="259.9" r="1.35"/><circle cx="375.3" cy="259.9" r="1.35"/><circle cx="375.7" cy="260.2" r="1.35"/><circle cx="376.2" cy="257.8" r="1.35"/><circle cx="376.7" cy="261.6" r="1.35"/><circle cx="377.1" cy="257.6" r="1.35"/><circle cx="377.6" cy="261.6" r="1.35"/><circle cx="378.1" cy="261.5" r="1.35"/><circle cx="378.5" cy="261.6" r="1.35"/><circle cx="379.0" cy="257.8" r="1.35"/><circle cx="379.0" cy="260.0" r="1.35"/><circle cx="379.4" cy="258.1" r="1.35"/><circle cx="379.9" cy="261.9" r="1.35"/><circle cx="380.4" cy="260.3" r="1.35"/><circle cx="380.8" cy="260.0" r="1.35"/><circle cx="381.3" cy="263.2" r="1.35"/><circle cx="381.8" cy="258.6" r="1.35"/><circle cx="382.2" cy="261.2" r="1.35"/><circle cx="382.7" cy="260.9" r="1.35"/><circle cx="383.2" cy="259.5" r="1.35"/><circle cx="383.2" cy="261.4" r="1.35"/><circle cx="383.6" cy="260.6" r="1.35"/><circle cx="384.1" cy="261.9" r="1.35"/><circle cx="384.5" cy="262.5" r="1.35"/><circle cx="385.0" cy="260.3" r="1.35"/><circle cx="385.0" cy="256.7" r="1.35"/><circle cx="385.5" cy="260.7" r="1.35"/><circle cx="385.9" cy="257.7" r="1.35"/><circle cx="386.4" cy="263.3" r="1.35"/><circle cx="386.9" cy="258.1" r="1.35"/><circle cx="387.3" cy="258.0" r="1.35"/><circle cx="387.8" cy="260.8" r="1.35"/><circle cx="388.3" cy="263.7" r="1.35"/><circle cx="388.7" cy="260.8" r="1.35"/><circle cx="389.2" cy="259.6" r="1.35"/><circle cx="389.2" cy="262.4" r="1.35"/><circle cx="389.7" cy="263.9" r="1.35"/><circle cx="390.1" cy="263.2" r="1.35"/><circle cx="390.6" cy="262.8" r="1.35"/><circle cx="391.0" cy="257.9" r="1.35"/><circle cx="391.5" cy="258.0" r="1.35"/><circle cx="392.0" cy="255.9" r="1.35"/><circle cx="392.4" cy="257.1" r="1.35"/><circle cx="392.4" cy="257.6" r="1.35"/><circle cx="392.9" cy="256.3" r="1.35"/><circle cx="393.4" cy="256.9" r="1.35"/><circle cx="393.8" cy="260.7" r="1.35"/><circle cx="394.3" cy="262.4" r="1.35"/><circle cx="394.8" cy="260.1" r="1.35"/><circle cx="395.2" cy="257.0" r="1.35"/><circle cx="395.6" cy="260.3" r="1.35"/><circle cx="395.7" cy="261.6" r="1.35"/><circle cx="396.1" cy="260.8" r="1.35"/><circle cx="396.6" cy="265.6" r="1.35"/><circle cx="397.1" cy="264.4" r="1.35"/><circle cx="397.5" cy="266.0" r="1.35"/><circle cx="398.0" cy="265.8" r="1.35"/><circle cx="398.5" cy="265.3" r="1.35"/><circle cx="398.8" cy="265.6" r="1.35"/><circle cx="398.9" cy="268.3" r="1.35"/><circle cx="399.4" cy="266.6" r="1.35"/><circle cx="399.9" cy="261.4" r="1.35"/><circle cx="400.3" cy="259.2" r="1.35"/><circle cx="400.8" cy="259.6" r="1.35"/><circle cx="400.9" cy="260.3" r="1.35"/><circle cx="401.2" cy="259.4" r="1.35"/><circle cx="401.7" cy="254.9" r="1.35"/><circle cx="402.2" cy="255.3" r="1.35"/><circle cx="402.6" cy="255.7" r="1.35"/><circle cx="403.0" cy="254.0" r="1.35"/><circle cx="403.1" cy="250.7" r="1.35"/><circle cx="403.6" cy="256.9" r="1.35"/><circle cx="404.0" cy="256.1" r="1.35"/><circle cx="404.5" cy="254.0" r="1.35"/><circle cx="405.0" cy="254.3" r="1.35"/><circle cx="405.2" cy="256.0" r="1.35"/><circle cx="405.4" cy="252.6" r="1.35"/><circle cx="405.9" cy="247.5" r="1.35"/><circle cx="406.3" cy="245.7" r="1.35"/><circle cx="406.6" cy="241.2" r="1.35"/><circle cx="406.8" cy="243.3" r="1.35"/><circle cx="407.3" cy="248.0" r="1.35"/><circle cx="407.7" cy="249.8" r="1.35"/><circle cx="407.9" cy="254.0" r="1.35"/><circle cx="408.2" cy="257.7" r="1.35"/><circle cx="408.7" cy="254.2" r="1.35"/><circle cx="409.1" cy="255.2" r="1.35"/><circle cx="409.6" cy="254.2" r="1.35"/><circle cx="410.0" cy="258.2" r="1.35"/><circle cx="410.1" cy="261.9" r="1.35"/><circle cx="410.5" cy="258.8" r="1.35"/><circle cx="411.0" cy="262.7" r="1.35"/><circle cx="411.4" cy="263.4" r="1.35"/><circle cx="411.5" cy="260.3" r="1.35"/><circle cx="411.9" cy="260.3" r="1.35"/><circle cx="412.4" cy="255.2" r="1.35"/><circle cx="412.8" cy="252.1" r="1.35"/><circle cx="413.0" cy="247.6" r="1.35"/><circle cx="413.3" cy="250.3" r="1.35"/><circle cx="413.8" cy="248.7" r="1.35"/><circle cx="414.2" cy="243.0" r="1.35"/><circle cx="414.7" cy="245.2" r="1.35"/><circle cx="415.1" cy="244.4" r="1.35"/><circle cx="415.2" cy="245.2" r="1.35"/><circle cx="415.6" cy="250.4" r="1.35"/><circle cx="416.1" cy="250.8" r="1.35"/><circle cx="416.6" cy="252.2" r="1.35"/><circle cx="416.8" cy="251.8" r="1.35"/><circle cx="417.0" cy="254.1" r="1.35"/><circle cx="417.5" cy="252.1" r="1.35"/><circle cx="417.9" cy="257.4" r="1.35"/><circle cx="418.4" cy="256.1" r="1.35"/><circle cx="418.9" cy="255.2" r="1.35"/><circle cx="418.9" cy="256.0" r="1.35"/><circle cx="419.3" cy="254.7" r="1.35"/><circle cx="419.8" cy="257.4" r="1.35"/><circle cx="420.3" cy="252.9" r="1.35"/><circle cx="420.7" cy="249.0" r="1.35"/><circle cx="421.0" cy="250.8" r="1.35"/><circle cx="421.2" cy="248.1" r="1.35"/><circle cx="421.7" cy="252.0" r="1.35"/><circle cx="422.1" cy="250.9" r="1.35"/><circle cx="422.6" cy="253.3" r="1.35"/><circle cx="423.0" cy="247.7" r="1.35"/><circle cx="423.5" cy="249.3" r="1.35"/><circle cx="424.0" cy="251.5" r="1.35"/><circle cx="424.2" cy="249.7" r="1.35"/><circle cx="424.4" cy="246.4" r="1.35"/><circle cx="424.9" cy="246.9" r="1.35"/><circle cx="425.4" cy="250.4" r="1.35"/><circle cx="425.8" cy="248.5" r="1.35"/><circle cx="426.3" cy="247.5" r="1.35"/><circle cx="426.8" cy="248.8" r="1.35"/><circle cx="427.2" cy="251.7" r="1.35"/><circle cx="427.4" cy="250.8" r="1.35"/><circle cx="427.7" cy="251.4" r="1.35"/><circle cx="428.1" cy="248.6" r="1.35"/><circle cx="428.6" cy="249.2" r="1.35"/><circle cx="429.1" cy="255.6" r="1.35"/><circle cx="429.5" cy="254.7" r="1.35"/><circle cx="430.0" cy="251.8" r="1.35"/><circle cx="430.5" cy="257.5" r="1.35"/><circle cx="430.6" cy="255.0" r="1.35"/><circle cx="430.9" cy="251.6" r="1.35"/><circle cx="431.4" cy="254.5" r="1.35"/><circle cx="431.9" cy="258.4" r="1.35"/><circle cx="432.3" cy="257.7" r="1.35"/><circle cx="432.8" cy="254.8" r="1.35"/><circle cx="433.2" cy="259.7" r="1.35"/><circle cx="433.7" cy="257.8" r="1.35"/><circle cx="433.8" cy="257.1" r="1.35"/><circle cx="434.2" cy="258.9" r="1.35"/><circle cx="434.6" cy="257.9" r="1.35"/><circle cx="435.1" cy="253.3" r="1.35"/><circle cx="435.6" cy="254.0" r="1.35"/><circle cx="435.9" cy="251.8" r="1.35"/><circle cx="436.0" cy="252.6" r="1.35"/><circle cx="436.5" cy="257.2" r="1.35"/><circle cx="437.0" cy="257.8" r="1.35"/><circle cx="437.4" cy="258.9" r="1.35"/><circle cx="437.9" cy="261.1" r="1.35"/><circle cx="438.0" cy="259.2" r="1.35"/><circle cx="438.3" cy="262.4" r="1.35"/><circle cx="438.8" cy="256.2" r="1.35"/><circle cx="439.3" cy="255.1" r="1.35"/><circle cx="439.7" cy="258.5" r="1.35"/><circle cx="440.2" cy="256.0" r="1.35"/><circle cx="440.2" cy="258.0" r="1.35"/><circle cx="440.7" cy="255.3" r="1.35"/><circle cx="441.1" cy="254.3" r="1.35"/><circle cx="441.6" cy="252.9" r="1.35"/><circle cx="442.1" cy="255.7" r="1.35"/><circle cx="442.5" cy="254.3" r="1.35"/><circle cx="442.7" cy="251.8" r="1.35"/><circle cx="443.0" cy="253.0" r="1.35"/><circle cx="443.5" cy="249.8" r="1.35"/><circle cx="443.9" cy="256.7" r="1.35"/><circle cx="444.4" cy="254.7" r="1.35"/><circle cx="444.8" cy="253.5" r="1.35"/><circle cx="445.3" cy="255.2" r="1.35"/><circle cx="445.5" cy="257.1" r="1.35"/><circle cx="445.8" cy="258.3" r="1.35"/><circle cx="446.2" cy="252.7" r="1.35"/><circle cx="446.7" cy="253.1" r="1.35"/><circle cx="447.2" cy="254.0" r="1.35"/><circle cx="447.6" cy="257.9" r="1.35"/><circle cx="448.1" cy="256.4" r="1.35"/><circle cx="448.6" cy="257.6" r="1.35"/><circle cx="448.6" cy="254.0" r="1.35"/><circle cx="449.0" cy="251.2" r="1.35"/><circle cx="449.5" cy="247.9" r="1.35"/><circle cx="449.9" cy="244.3" r="1.35"/><circle cx="450.3" cy="241.2" r="1.35"/><circle cx="450.4" cy="241.7" r="1.35"/><circle cx="450.9" cy="242.9" r="1.35"/><circle cx="451.3" cy="246.1" r="1.35"/><circle cx="451.8" cy="248.3" r="1.35"/><circle cx="452.3" cy="245.3" r="1.35"/><circle cx="452.7" cy="248.1" r="1.35"/><circle cx="452.9" cy="247.6" r="1.35"/><circle cx="453.2" cy="245.6" r="1.35"/><circle cx="453.7" cy="244.6" r="1.35"/><circle cx="454.1" cy="245.2" r="1.35"/><circle cx="454.6" cy="244.9" r="1.35"/><circle cx="455.0" cy="243.7" r="1.35"/><circle cx="455.5" cy="246.0" r="1.35"/><circle cx="456.0" cy="238.9" r="1.35"/><circle cx="456.1" cy="241.2" r="1.35"/><circle cx="456.4" cy="238.0" r="1.35"/><circle cx="456.9" cy="234.7" r="1.35"/><circle cx="457.1" cy="228.5" r="1.35"/><circle cx="457.4" cy="229.3" r="1.35"/><circle cx="457.8" cy="226.3" r="1.35"/><circle cx="458.3" cy="223.0" r="1.35"/><circle cx="458.8" cy="221.5" r="1.35"/><circle cx="458.8" cy="222.1" r="1.35"/><circle cx="459.2" cy="220.0" r="1.35"/><circle cx="459.7" cy="213.7" r="1.35"/><circle cx="459.7" cy="210.5" r="1.35"/><circle cx="460.1" cy="216.0" r="1.35"/><circle cx="460.6" cy="222.1" r="1.35"/><circle cx="460.7" cy="220.0" r="1.35"/><circle cx="461.1" cy="227.5" r="1.35"/><circle cx="461.5" cy="232.3" r="1.35"/><circle cx="461.8" cy="232.7" r="1.35"/><circle cx="462.0" cy="232.3" r="1.35"/><circle cx="462.5" cy="234.0" r="1.35"/><circle cx="462.9" cy="237.6" r="1.35"/><circle cx="463.4" cy="235.5" r="1.35"/><circle cx="463.9" cy="239.4" r="1.35"/><circle cx="464.3" cy="238.5" r="1.35"/><circle cx="464.5" cy="239.1" r="1.35"/><circle cx="464.8" cy="236.7" r="1.35"/><circle cx="465.2" cy="235.8" r="1.35"/><circle cx="465.7" cy="231.4" r="1.35"/><circle cx="466.2" cy="231.4" r="1.35"/><circle cx="466.6" cy="230.0" r="1.35"/><circle cx="467.1" cy="225.2" r="1.35"/><circle cx="467.6" cy="224.5" r="1.35"/><circle cx="467.7" cy="226.4" r="1.35"/><circle cx="468.0" cy="225.9" r="1.35"/><circle cx="468.5" cy="232.2" r="1.35"/><circle cx="469.0" cy="231.9" r="1.35"/><circle cx="469.4" cy="231.5" r="1.35"/><circle cx="469.9" cy="238.6" r="1.35"/><circle cx="469.9" cy="234.9" r="1.35"/><circle cx="470.4" cy="233.4" r="1.35"/><circle cx="470.8" cy="235.6" r="1.35"/><circle cx="471.3" cy="237.6" r="1.35"/><circle cx="471.7" cy="237.6" r="1.35"/><circle cx="472.2" cy="236.0" r="1.35"/><circle cx="472.7" cy="238.9" r="1.35"/><circle cx="473.0" cy="237.0" r="1.35"/><circle cx="473.1" cy="237.1" r="1.35"/><circle cx="473.6" cy="239.4" r="1.35"/><circle cx="474.1" cy="238.3" r="1.35"/><circle cx="474.5" cy="242.5" r="1.35"/><circle cx="475.0" cy="241.2" r="1.35"/><circle cx="475.5" cy="237.2" r="1.35"/><circle cx="475.9" cy="238.0" r="1.35"/><circle cx="476.2" cy="241.2" r="1.35"/><circle cx="476.4" cy="244.9" r="1.35"/><circle cx="476.8" cy="239.8" r="1.35"/><circle cx="477.3" cy="238.8" r="1.35"/><circle cx="477.8" cy="240.9" r="1.35"/><circle cx="478.2" cy="243.1" r="1.35"/><circle cx="478.3" cy="243.3" r="1.35"/><circle cx="478.7" cy="244.7" r="1.35"/><circle cx="479.2" cy="238.3" r="1.35"/><circle cx="479.6" cy="238.4" r="1.35"/><circle cx="480.0" cy="234.9" r="1.35"/><circle cx="480.1" cy="236.0" r="1.35"/><circle cx="480.6" cy="223.3" r="1.35"/><circle cx="480.9" cy="221.0" r="1.35"/><circle cx="481.0" cy="222.1" r="1.35"/><circle cx="481.5" cy="226.1" r="1.35"/><circle cx="481.9" cy="223.9" r="1.35"/><circle cx="482.2" cy="224.2" r="1.35"/><circle cx="482.4" cy="225.1" r="1.35"/><circle cx="482.9" cy="225.2" r="1.35"/><circle cx="483.2" cy="227.4" r="1.35"/></g><polyline points="43.2,348.2 43.2,346.4 43.7,348.6 44.1,345.4 44.6,345.9 45.1,349.2 45.5,349.2 46.0,349.3 46.4,349.0 46.4,348.3 46.9,349.8 47.4,350.1 47.8,350.2 48.3,348.9 48.8,350.2 49.2,350.4 49.7,352.0 50.2,353.4 50.3,351.5 50.6,353.5 51.1,352.3 51.5,352.2 52.0,351.9 52.5,351.3 52.9,351.6 53.4,353.7 53.9,353.5 54.3,354.1 54.8,356.5 55.3,355.4 55.4,355.4 55.7,355.9 56.2,354.9 56.6,354.4 57.1,356.0 57.6,355.6 58.0,357.4 58.5,359.7 59.0,358.8 59.4,357.1 59.9,360.3 60.4,360.3 60.5,359.2 60.8,360.2 61.3,361.0 61.8,360.6 62.2,360.8 62.7,359.2 63.1,361.8 63.6,361.8 64.1,358.8 64.5,361.2 65.0,361.2 65.5,360.3 65.6,360.5 65.9,360.7 66.4,360.7 66.9,362.5 67.3,360.9 67.8,362.4 68.2,360.6 68.7,362.8 69.2,363.0 69.6,361.4 70.1,361.9 70.6,363.4 70.8,361.8 71.0,362.9 71.5,362.3 72.0,361.5 72.4,362.3 72.9,364.1 73.3,362.4 73.8,365.7 74.3,363.5 74.7,366.4 75.2,364.3 75.7,367.3 75.9,365.6 76.1,366.5 76.6,365.8 77.1,366.0 77.5,366.7 78.0,366.5 78.4,365.5 78.9,365.3 79.4,366.6 79.8,368.4 80.3,367.3 80.8,365.2 81.0,367.0 81.2,368.3 81.7,368.1 82.2,368.9 82.6,366.1 83.1,368.5 83.5,365.8 84.0,368.3 84.5,366.9 84.9,366.8 85.4,369.5 85.9,366.5 86.2,368.2 86.3,368.4 86.8,369.9 87.3,367.7 87.7,367.8 88.2,370.8 88.7,369.2 88.7,369.5 89.1,366.7 89.6,359.9 90.0,358.0 90.0,357.7 90.5,359.6 91.0,364.4 91.3,365.6 91.4,364.0 91.9,367.8 92.4,364.4 92.8,367.6 93.3,365.1 93.3,367.0 93.8,362.4 94.2,361.0 94.7,354.7 95.1,352.8 95.1,351.3 95.6,350.3 95.9,347.7 96.1,339.7 96.5,318.0 96.7,312.6 97.0,315.5 97.5,313.5 97.7,315.6 97.9,317.7 98.4,327.2 98.5,329.7 98.9,334.3 99.3,340.2 99.5,341.3 99.8,340.4 100.2,342.5 100.7,342.4 101.0,345.0 101.2,345.3 101.6,347.9 102.1,349.2 102.6,351.2 102.8,350.3 103.0,352.2 103.5,354.5 104.0,355.7 104.1,355.4 104.4,352.4 104.9,347.3 105.3,344.9 105.4,343.8 105.8,331.8 106.2,322.0 106.3,319.7 106.7,316.7 107.2,312.6 107.2,314.1 107.7,318.1 108.0,324.6 108.1,325.5 108.6,326.7 109.1,329.2 109.2,329.7 109.5,329.5 110.0,334.4 110.4,333.3 110.9,336.4 111.3,337.4 111.4,337.4 111.8,337.9 112.3,342.1 112.8,342.5 113.0,345.0 113.2,343.6 113.7,344.2 114.2,345.4 114.6,345.9 115.1,348.8 115.6,349.0 115.6,349.0 116.0,351.3 116.5,351.6 116.9,352.3 117.4,349.7 117.9,351.0 118.2,351.5 118.3,350.0 118.8,349.7 119.3,348.2 119.7,347.2 120.0,345.0 120.2,346.5 120.7,346.3 121.1,348.6 121.5,350.3 121.6,348.7 122.0,336.9 122.5,327.3 122.6,327.2 123.0,309.2 123.4,286.0 123.6,279.7 123.9,293.6 124.1,301.5 124.4,304.5 124.8,311.2 125.1,317.0 125.3,317.4 125.8,321.7 126.2,325.7 126.7,330.9 126.7,331.0 127.1,333.4 127.6,335.4 128.1,339.4 128.5,341.3 128.5,340.2 129.0,343.7 129.5,344.6 129.9,344.3 130.4,343.8 130.9,344.8 131.0,345.0 131.3,345.0 131.8,342.5 132.2,343.5 132.7,343.5 133.2,341.7 133.6,342.6 133.6,341.0 134.1,344.3 134.6,343.0 135.0,344.0 135.5,346.0 136.0,345.2 136.2,345.0 136.4,343.9 136.9,346.3 137.3,343.4 137.8,341.5 138.3,343.7 138.7,342.6 138.7,340.9 139.2,340.3 139.7,341.1 140.1,339.0 140.6,335.0 141.1,335.4 141.3,334.9 141.5,328.8 142.0,317.3 142.0,317.0 142.5,314.4 142.9,314.5 143.3,313.0 143.4,311.7 143.8,315.2 144.3,318.2 144.8,323.2 145.1,323.3 145.2,317.3 145.7,304.9 146.2,287.5 146.4,281.0 146.6,282.7 147.1,285.0 147.2,286.2 147.6,291.4 148.0,299.7 148.2,301.5 148.5,302.5 148.9,303.8 149.4,306.2 149.7,309.2 149.9,308.7 150.3,315.1 150.8,317.6 151.3,322.2 151.5,322.0 151.7,323.1 152.2,321.2 152.7,324.4 153.1,325.6 153.6,326.1 154.0,325.9 154.1,326.0 154.5,325.8 155.0,326.7 155.4,328.5 155.9,326.8 156.4,328.3 156.7,328.5 156.8,328.5 157.3,330.8 157.8,330.5 158.2,331.4 158.7,331.3 159.1,329.5 159.6,329.6 160.0,331.0 160.1,331.1 160.5,331.1 161.0,332.7 161.5,334.6 161.5,334.0 161.9,336.3 162.4,335.7 162.9,337.3 163.2,336.5 163.3,334.1 163.8,332.0 164.2,331.5 164.3,329.2 164.7,299.1 165.2,267.9 165.2,266.6 165.6,267.7 166.1,272.4 166.1,270.8 166.6,281.4 167.0,289.2 167.2,289.9 167.5,291.7 168.0,291.5 168.4,294.0 168.9,295.7 169.0,297.2 169.4,299.7 169.8,302.1 170.3,303.5 170.7,306.2 171.0,307.4 171.2,303.3 171.7,299.1 172.1,294.9 172.5,288.5 172.6,287.6 173.1,276.0 173.4,271.0 173.5,273.7 174.0,284.3 174.5,292.3 174.5,294.3 174.9,297.9 175.4,298.4 175.8,301.7 176.0,301.6 176.3,302.0 176.8,305.6 177.2,305.9 177.7,306.3 177.7,306.0 178.2,281.1 178.6,260.3 178.6,259.3 179.1,244.9 179.1,246.5 179.4,219.7 179.6,226.7 179.9,241.2 180.0,244.0 180.5,246.1 180.7,249.7 180.9,254.3 181.2,258.9 181.4,259.6 181.9,260.9 182.2,262.4 182.3,266.8 182.7,275.3 182.8,277.8 183.3,280.2 183.7,282.7 184.1,285.5 184.2,287.7 184.7,287.2 185.1,290.8 185.6,292.4 186.0,294.8 186.5,295.7 186.5,297.0 187.0,291.2 187.4,289.4 187.9,285.1 188.4,282.8 188.5,281.2 188.8,278.5 189.3,270.8 189.7,264.6 189.8,263.1 190.2,268.2 190.7,272.5 191.1,276.5 191.4,276.8 191.6,276.9 192.1,276.4 192.5,272.0 193.0,274.5 193.5,272.5 193.9,270.9 194.3,269.5 194.4,271.0 194.9,270.3 195.0,268.6 195.3,269.3 195.8,275.4 196.3,278.4 196.7,279.4 197.2,284.8 197.2,284.0 197.6,284.9 198.1,284.0 198.6,287.1 199.0,285.0 199.5,287.5 200.0,287.4 200.4,287.3 200.9,289.2 201.4,289.4 201.6,289.9 201.8,289.3 202.3,293.5 202.7,291.1 203.2,292.0 203.7,295.1 204.1,297.6 204.5,297.2 204.6,298.0 205.1,299.3 205.5,299.2 206.0,300.9 206.5,300.4 206.9,301.1 207.4,303.0 207.8,302.0 208.3,303.1 208.8,306.8 208.9,306.0 209.2,305.2 209.7,308.3 210.2,309.2 210.6,308.4 211.1,310.3 211.6,311.5 212.0,312.6 212.5,310.4 212.9,311.3 213.3,313.2 213.4,312.9 213.9,314.0 214.3,314.1 214.8,313.8 215.3,316.8 215.7,319.2 216.2,317.6 216.7,319.1 217.1,319.2 217.6,320.2 217.6,320.5 218.0,322.4 218.5,320.6 219.0,322.5 219.4,322.3 219.9,323.0 220.4,324.9 220.8,322.0 221.3,325.5 221.8,323.9 222.0,324.9 222.2,325.7 222.7,326.8 223.2,326.6 223.6,326.0 224.1,328.3 224.5,325.8 225.0,328.4 225.5,327.9 225.9,328.9 226.4,330.6 226.4,329.2 226.9,331.0 227.3,331.0 227.8,330.3 228.3,330.6 228.7,332.2 229.2,331.9 229.6,332.7 230.1,336.0 230.6,333.3 230.7,335.0 231.0,336.6 231.5,335.3 232.0,335.7 232.4,336.0 232.9,335.5 233.4,337.5 233.8,336.8 234.3,338.3 234.7,338.2 235.1,339.4 235.2,341.0 235.7,341.3 236.1,339.5 236.6,340.5 237.1,341.8 237.5,339.5 238.0,338.8 238.5,339.5 238.9,339.5 239.4,341.6 239.5,340.9 239.8,340.7 240.3,341.2 240.8,343.4 241.2,341.6 241.7,344.4 242.2,344.2 242.6,343.7 243.1,345.9 243.6,344.4 243.8,345.3 244.0,347.0 244.5,347.5 244.9,346.1 245.4,347.1 245.9,348.5 246.3,347.9 246.8,348.3 247.3,349.1 247.7,349.6 248.2,349.2 248.2,348.2 248.7,350.4 249.1,348.0 249.6,349.6 250.1,350.1 250.5,349.2 251.0,349.6 251.4,349.0 251.9,352.5 252.4,350.4 252.6,351.1 252.8,351.1 253.3,353.0 253.8,350.4 254.2,353.7 254.7,350.6 255.2,350.4 255.5,352.5 255.6,351.8 256.1,351.4 256.5,353.1 257.0,352.5 257.5,351.6 257.9,349.8 258.4,349.8 258.4,349.6 258.9,345.5 259.3,344.9 259.8,340.1 260.3,336.6 260.4,336.5 260.7,338.6 261.2,338.9 261.6,341.8 262.1,346.5 262.6,345.5 262.8,348.2 263.0,346.8 263.5,347.0 264.0,347.2 264.4,347.9 264.9,347.2 265.4,347.6 265.7,348.2 265.8,342.4 266.3,323.6 266.6,311.8 266.7,314.5 267.2,320.6 267.7,328.0 268.0,333.6 268.1,330.5 268.6,313.6 269.1,299.9 269.2,297.2 269.5,300.6 270.0,301.7 270.5,305.9 270.9,307.4 270.9,306.1 271.4,311.7 271.8,317.0 272.3,319.0 272.4,320.4 272.8,325.2 273.2,329.2 273.6,332.4 273.7,332.3 274.2,336.4 274.6,335.6 275.1,337.6 275.3,338.4 275.6,339.4 276.0,339.0 276.5,342.0 276.9,341.9 277.2,342.0 277.4,342.1 277.9,341.3 278.3,342.5 278.8,341.9 279.1,339.6 279.3,341.2 279.7,340.3 280.2,340.8 280.7,341.9 280.8,342.0 281.1,340.0 281.6,340.0 282.1,343.4 282.5,339.7 283.0,342.7 283.2,340.8 283.4,342.1 283.9,344.2 284.4,342.0 284.8,344.1 285.3,347.2 285.6,346.8 285.8,344.5 286.2,344.0 286.7,344.0 287.2,342.4 287.6,341.4 288.0,342.0 288.1,340.9 288.5,328.2 288.7,326.4 289.0,331.6 289.5,335.3 289.7,337.2 289.9,335.7 290.4,339.7 290.9,337.6 291.3,339.2 291.6,339.6 291.8,340.0 292.3,338.8 292.7,340.7 293.2,339.4 293.6,340.4 294.0,342.0 294.1,343.7 294.6,343.6 295.0,342.6 295.5,343.5 296.0,344.5 296.4,343.2 296.4,341.8 296.9,343.3 297.4,342.0 297.8,342.1 298.3,342.3 298.7,342.8 299.2,342.3 299.7,343.2 300.0,344.4 300.1,344.0 300.6,345.3 301.1,346.5 301.5,347.0 302.0,346.6 302.5,346.1 302.9,348.0 303.4,345.3 303.6,346.8 303.8,345.3 304.3,348.3 304.8,347.7 305.2,346.2 305.7,347.0 306.2,346.8 306.6,347.5 307.1,347.7 307.2,348.0 307.6,347.8 308.0,349.7 308.5,350.1 309.0,349.4 309.4,349.4 309.9,348.9 310.3,351.2 310.8,350.4 310.8,352.4 311.3,349.8 311.7,352.1 312.0,351.6 312.2,328.3 312.7,271.5 312.8,254.0 313.1,259.0 313.6,271.0 313.6,271.0 314.1,274.7 314.4,279.6 314.5,278.8 315.0,281.9 315.1,282.0 315.4,289.2 315.4,290.4 315.8,295.2 315.9,296.6 316.4,301.0 316.8,303.6 316.8,304.5 317.3,305.0 317.8,304.7 318.0,307.2 318.2,309.4 318.7,311.9 319.2,314.3 319.2,313.2 319.6,315.3 320.1,314.9 320.4,318.0 320.5,316.6 321.0,315.8 321.5,317.5 321.9,316.6 322.4,314.7 322.8,315.6 322.9,317.6 323.3,319.2 323.8,320.3 324.3,320.1 324.7,321.6 324.7,320.8 325.2,322.1 325.6,326.2 326.1,327.4 326.4,327.6 326.6,323.9 327.0,318.8 327.5,310.0 328.0,301.8 328.1,300.0 328.4,315.0 328.8,332.4 328.9,333.3 329.4,332.5 329.8,333.5 330.3,331.6 330.7,334.2 331.2,333.6 331.2,332.7 331.7,335.7 332.1,333.4 332.6,334.3 333.1,335.6 333.5,335.5 333.6,336.0 334.0,335.7 334.5,336.8 334.9,333.5 335.4,335.3 335.9,334.5 336.0,333.6 336.3,334.4 336.8,332.6 337.2,332.2 337.7,331.3 338.2,331.3 338.4,331.2 338.6,329.6 339.1,328.2 339.6,328.1 340.0,325.8 340.5,325.8 341.0,325.0 341.4,322.8 341.5,323.3 341.9,324.3 342.3,328.8 342.8,332.7 343.2,333.6 343.3,332.6 343.7,334.6 344.2,335.2 344.7,336.6 345.1,336.3 345.6,335.2 345.6,336.0 346.1,334.4 346.5,336.4 347.0,333.8 347.4,332.2 347.9,335.2 348.0,333.6 348.4,332.0 348.8,332.0 349.3,331.6 349.8,330.9 350.2,332.3 350.4,331.2 350.7,331.0 351.2,332.1 351.6,332.7 352.1,335.1 352.5,332.5 352.8,334.8 353.0,335.3 353.5,333.8 353.9,334.2 354.4,336.3 354.9,335.7 355.3,334.7 355.8,337.1 356.3,338.8 356.4,337.2 356.7,338.0 357.2,337.8 357.6,339.3 358.1,340.1 358.6,337.4 359.0,338.4 359.5,341.4 360.0,341.6 360.4,339.0 360.9,341.4 361.2,340.8 361.4,342.3 361.8,341.3 362.3,341.9 362.8,341.3 363.2,340.2 363.7,340.3 364.1,339.8 364.6,342.3 365.1,340.3 365.5,342.4 366.0,341.6 366.0,342.0 366.5,342.1 366.9,344.6 367.4,342.6 367.9,343.3 368.3,343.3 368.8,342.9 369.2,343.3 369.7,344.9 370.2,346.4 370.6,343.8 370.8,345.6 371.1,347.6 371.6,346.9 372.0,344.7 372.5,347.7 373.0,346.8 373.4,347.6 373.9,346.3 374.3,348.3 374.8,348.7 375.3,350.1 375.6,349.2 375.7,349.6 376.2,350.5 376.7,350.9 377.1,349.2 377.6,348.8 378.1,351.0 378.5,349.9 379.0,350.3 379.4,351.4 379.9,352.6 380.4,353.2 380.4,352.8 380.8,354.0 381.3,355.8 381.8,353.1 382.2,355.6 382.7,354.4 383.2,357.4 383.3,356.9 383.6,356.3 384.1,354.7 384.5,354.9 385.0,355.8 385.5,354.6 385.9,356.0 386.4,353.2 386.6,353.6 386.9,353.3 387.3,356.3 387.8,355.6 388.3,354.2 388.7,357.6 389.2,356.5 389.7,359.5 389.9,358.0 390.1,358.3 390.6,358.5 391.0,358.4 391.5,356.4 392.0,357.8 392.4,353.6 392.9,354.4 393.2,354.7 393.4,356.0 393.8,352.5 394.3,354.9 394.8,356.0 395.2,354.7 395.7,355.1 395.8,353.6 396.1,353.0 396.6,356.2 397.1,357.9 397.5,358.6 398.0,360.0 398.5,362.8 398.7,362.4 398.9,360.6 399.4,359.2 399.9,360.5 400.3,361.0 400.8,359.5 400.9,358.0 401.2,358.3 401.7,356.4 402.2,358.3 402.6,354.4 403.1,354.8 403.6,356.5 404.0,356.5 404.2,354.7 404.5,352.6 405.0,351.8 405.4,345.8 405.9,345.0 406.3,340.1 406.4,341.5 406.8,344.1 407.3,348.1 407.5,351.4 407.7,350.0 408.2,352.8 408.7,354.3 409.1,354.6 409.6,357.2 409.7,356.9 410.1,355.0 410.5,356.7 411.0,356.6 411.4,355.9 411.9,357.8 412.4,354.5 412.8,355.6 413.0,355.8 413.3,354.3 413.8,352.0 414.2,352.4 414.7,348.8 414.8,348.1 415.2,348.6 415.6,348.9 416.1,349.5 416.6,352.1 417.0,352.1 417.4,351.4 417.5,352.1 417.9,350.8 418.4,353.1 418.9,351.9 419.3,353.4 419.8,352.7 420.3,356.0 420.7,355.8 420.7,357.7 421.2,355.5 421.7,354.5 422.1,352.4 422.6,352.4 423.0,351.8 423.5,350.8 424.0,349.4 424.0,350.3 424.4,348.7 424.9,350.4 425.4,350.7 425.8,349.8 426.2,348.1 426.3,348.7 426.8,347.0 427.2,348.7 427.7,351.4 428.1,352.6 428.6,351.5 429.1,352.2 429.5,352.5 429.5,353.3 430.0,352.0 430.5,354.3 430.9,353.4 431.4,355.8 431.9,354.7 432.3,356.0 432.8,356.0 432.8,355.8 433.2,356.5 433.7,356.9 434.2,359.4 434.6,359.3 435.1,358.5 435.6,359.5 436.0,361.7 436.1,360.2 436.5,359.2 437.0,356.4 437.4,355.3 437.6,352.5 437.9,351.5 438.3,354.4 438.8,355.4 439.3,355.7 439.7,358.6 439.8,356.9 440.2,358.2 440.7,355.1 441.1,355.3 441.6,355.2 442.1,354.3 442.5,352.2 442.7,352.5 443.0,353.9 443.5,352.4 443.9,351.9 444.4,354.3 444.8,354.5 445.3,353.9 445.8,354.5 446.0,354.7 446.2,357.0 446.7,356.9 447.2,355.9 447.6,358.5 448.1,357.8 448.6,357.7 449.0,359.3 449.3,359.1 449.5,358.9 449.9,356.0 450.4,351.7 450.8,348.1 450.9,348.8 451.3,348.1 451.8,347.0 452.3,349.0 452.7,348.0 453.2,351.7 453.7,349.7 453.7,350.3 454.1,349.3 454.6,348.1 455.0,344.3 455.5,345.3 455.9,342.6 456.0,341.4 456.4,337.2 456.9,336.0 457.0,334.9 457.4,332.0 457.8,330.8 458.1,327.2 458.3,324.0 458.8,315.3 458.8,316.2 459.2,308.5 459.6,305.2 459.7,304.1 460.1,310.5 460.5,314.0 460.6,316.5 461.1,320.6 461.4,327.2 461.5,327.2 462.0,330.1 462.5,334.0 462.9,336.6 463.2,336.0 463.4,338.1 463.9,338.5 464.3,339.6 464.7,340.4 464.8,339.1 465.2,339.8 465.7,337.0 466.2,336.7 466.6,337.8 466.9,336.0 467.1,334.4 467.6,330.9 468.0,326.1 468.0,326.1 468.5,326.9 469.0,329.5 469.4,331.4 469.9,331.7 470.2,333.8 470.4,335.6 470.8,337.3 471.3,335.2 471.7,336.6 472.2,340.1 472.4,339.3 472.7,340.9 473.1,340.0 473.6,342.6 474.1,342.4 474.5,346.1 474.6,344.8 475.0,344.8 475.5,344.0 475.9,342.1 476.4,342.6 476.8,342.6 476.8,342.4 477.3,341.5 477.8,340.3 478.2,340.0 478.7,341.5 479.0,340.4 479.2,341.3 479.6,338.6 480.1,335.4 480.1,334.9 480.6,332.0 481.0,325.2 481.2,325.0 481.5,324.4 481.9,327.3 482.3,327.2 482.4,325.5 482.9,327.3 483.2,330.0" fill="none" stroke="#b567b8" stroke-width="0.6"/><g fill="#dcc3e6" stroke="#8a5aa8" stroke-width="0.7"><circle cx="43.2" cy="348.2" r="1.35"/><circle cx="43.2" cy="346.4" r="1.35"/><circle cx="43.7" cy="348.6" r="1.35"/><circle cx="44.1" cy="345.4" r="1.35"/><circle cx="44.6" cy="345.9" r="1.35"/><circle cx="45.1" cy="349.2" r="1.35"/><circle cx="45.5" cy="349.2" r="1.35"/><circle cx="46.0" cy="349.3" r="1.35"/><circle cx="46.4" cy="349.0" r="1.35"/><circle cx="46.4" cy="348.3" r="1.35"/><circle cx="46.9" cy="349.8" r="1.35"/><circle cx="47.4" cy="350.1" r="1.35"/><circle cx="47.8" cy="350.2" r="1.35"/><circle cx="48.3" cy="348.9" r="1.35"/><circle cx="48.8" cy="350.2" r="1.35"/><circle cx="49.2" cy="350.4" r="1.35"/><circle cx="49.7" cy="352.0" r="1.35"/><circle cx="50.2" cy="353.4" r="1.35"/><circle cx="50.3" cy="351.5" r="1.35"/><circle cx="50.6" cy="353.5" r="1.35"/><circle cx="51.1" cy="352.3" r="1.35"/><circle cx="51.5" cy="352.2" r="1.35"/><circle cx="52.0" cy="351.9" r="1.35"/><circle cx="52.5" cy="351.3" r="1.35"/><circle cx="52.9" cy="351.6" r="1.35"/><circle cx="53.4" cy="353.7" r="1.35"/><circle cx="53.9" cy="353.5" r="1.35"/><circle cx="54.3" cy="354.1" r="1.35"/><circle cx="54.8" cy="356.5" r="1.35"/><circle cx="55.3" cy="355.4" r="1.35"/><circle cx="55.4" cy="355.4" r="1.35"/><circle cx="55.7" cy="355.9" r="1.35"/><circle cx="56.2" cy="354.9" r="1.35"/><circle cx="56.6" cy="354.4" r="1.35"/><circle cx="57.1" cy="356.0" r="1.35"/><circle cx="57.6" cy="355.6" r="1.35"/><circle cx="58.0" cy="357.4" r="1.35"/><circle cx="58.5" cy="359.7" r="1.35"/><circle cx="59.0" cy="358.8" r="1.35"/><circle cx="59.4" cy="357.1" r="1.35"/><circle cx="59.9" cy="360.3" r="1.35"/><circle cx="60.4" cy="360.3" r="1.35"/><circle cx="60.5" cy="359.2" r="1.35"/><circle cx="60.8" cy="360.2" r="1.35"/><circle cx="61.3" cy="361.0" r="1.35"/><circle cx="61.8" cy="360.6" r="1.35"/><circle cx="62.2" cy="360.8" r="1.35"/><circle cx="62.7" cy="359.2" r="1.35"/><circle cx="63.1" cy="361.8" r="1.35"/><circle cx="63.6" cy="361.8" r="1.35"/><circle cx="64.1" cy="358.8" r="1.35"/><circle cx="64.5" cy="361.2" r="1.35"/><circle cx="65.0" cy="361.2" r="1.35"/><circle cx="65.5" cy="360.3" r="1.35"/><circle cx="65.6" cy="360.5" r="1.35"/><circle cx="65.9" cy="360.7" r="1.35"/><circle cx="66.4" cy="360.7" r="1.35"/><circle cx="66.9" cy="362.5" r="1.35"/><circle cx="67.3" cy="360.9" r="1.35"/><circle cx="67.8" cy="362.4" r="1.35"/><circle cx="68.2" cy="360.6" r="1.35"/><circle cx="68.7" cy="362.8" r="1.35"/><circle cx="69.2" cy="363.0" r="1.35"/><circle cx="69.6" cy="361.4" r="1.35"/><circle cx="70.1" cy="361.9" r="1.35"/><circle cx="70.6" cy="363.4" r="1.35"/><circle cx="70.8" cy="361.8" r="1.35"/><circle cx="71.0" cy="362.9" r="1.35"/><circle cx="71.5" cy="362.3" r="1.35"/><circle cx="72.0" cy="361.5" r="1.35"/><circle cx="72.4" cy="362.3" r="1.35"/><circle cx="72.9" cy="364.1" r="1.35"/><circle cx="73.3" cy="362.4" r="1.35"/><circle cx="73.8" cy="365.7" r="1.35"/><circle cx="74.3" cy="363.5" r="1.35"/><circle cx="74.7" cy="366.4" r="1.35"/><circle cx="75.2" cy="364.3" r="1.35"/><circle cx="75.7" cy="367.3" r="1.35"/><circle cx="75.9" cy="365.6" r="1.35"/><circle cx="76.1" cy="366.5" r="1.35"/><circle cx="76.6" cy="365.8" r="1.35"/><circle cx="77.1" cy="366.0" r="1.35"/><circle cx="77.5" cy="366.7" r="1.35"/><circle cx="78.0" cy="366.5" r="1.35"/><circle cx="78.4" cy="365.5" r="1.35"/><circle cx="78.9" cy="365.3" r="1.35"/><circle cx="79.4" cy="366.6" r="1.35"/><circle cx="79.8" cy="368.4" r="1.35"/><circle cx="80.3" cy="367.3" r="1.35"/><circle cx="80.8" cy="365.2" r="1.35"/><circle cx="81.0" cy="367.0" r="1.35"/><circle cx="81.2" cy="368.3" r="1.35"/><circle cx="81.7" cy="368.1" r="1.35"/><circle cx="82.2" cy="368.9" r="1.35"/><circle cx="82.6" cy="366.1" r="1.35"/><circle cx="83.1" cy="368.5" r="1.35"/><circle cx="83.5" cy="365.8" r="1.35"/><circle cx="84.0" cy="368.3" r="1.35"/><circle cx="84.5" cy="366.9" r="1.35"/><circle cx="84.9" cy="366.8" r="1.35"/><circle cx="85.4" cy="369.5" r="1.35"/><circle cx="85.9" cy="366.5" r="1.35"/><circle cx="86.2" cy="368.2" r="1.35"/><circle cx="86.3" cy="368.4" r="1.35"/><circle cx="86.8" cy="369.9" r="1.35"/><circle cx="87.3" cy="367.7" r="1.35"/><circle cx="87.7" cy="367.8" r="1.35"/><circle cx="88.2" cy="370.8" r="1.35"/><circle cx="88.7" cy="369.2" r="1.35"/><circle cx="88.7" cy="369.5" r="1.35"/><circle cx="89.1" cy="366.7" r="1.35"/><circle cx="89.6" cy="359.9" r="1.35"/><circle cx="90.0" cy="358.0" r="1.35"/><circle cx="90.0" cy="357.7" r="1.35"/><circle cx="90.5" cy="359.6" r="1.35"/><circle cx="91.0" cy="364.4" r="1.35"/><circle cx="91.3" cy="365.6" r="1.35"/><circle cx="91.4" cy="364.0" r="1.35"/><circle cx="91.9" cy="367.8" r="1.35"/><circle cx="92.4" cy="364.4" r="1.35"/><circle cx="92.8" cy="367.6" r="1.35"/><circle cx="93.3" cy="365.1" r="1.35"/><circle cx="93.3" cy="367.0" r="1.35"/><circle cx="93.8" cy="362.4" r="1.35"/><circle cx="94.2" cy="361.0" r="1.35"/><circle cx="94.7" cy="354.7" r="1.35"/><circle cx="95.1" cy="352.8" r="1.35"/><circle cx="95.1" cy="351.3" r="1.35"/><circle cx="95.6" cy="350.3" r="1.35"/><circle cx="95.9" cy="347.7" r="1.35"/><circle cx="96.1" cy="339.7" r="1.35"/><circle cx="96.5" cy="318.0" r="1.35"/><circle cx="96.7" cy="312.6" r="1.35"/><circle cx="97.0" cy="315.5" r="1.35"/><circle cx="97.5" cy="313.5" r="1.35"/><circle cx="97.7" cy="315.6" r="1.35"/><circle cx="97.9" cy="317.7" r="1.35"/><circle cx="98.4" cy="327.2" r="1.35"/><circle cx="98.5" cy="329.7" r="1.35"/><circle cx="98.9" cy="334.3" r="1.35"/><circle cx="99.3" cy="340.2" r="1.35"/><circle cx="99.5" cy="341.3" r="1.35"/><circle cx="99.8" cy="340.4" r="1.35"/><circle cx="100.2" cy="342.5" r="1.35"/><circle cx="100.7" cy="342.4" r="1.35"/><circle cx="101.0" cy="345.0" r="1.35"/><circle cx="101.2" cy="345.3" r="1.35"/><circle cx="101.6" cy="347.9" r="1.35"/><circle cx="102.1" cy="349.2" r="1.35"/><circle cx="102.6" cy="351.2" r="1.35"/><circle cx="102.8" cy="350.3" r="1.35"/><circle cx="103.0" cy="352.2" r="1.35"/><circle cx="103.5" cy="354.5" r="1.35"/><circle cx="104.0" cy="355.7" r="1.35"/><circle cx="104.1" cy="355.4" r="1.35"/><circle cx="104.4" cy="352.4" r="1.35"/><circle cx="104.9" cy="347.3" r="1.35"/><circle cx="105.3" cy="344.9" r="1.35"/><circle cx="105.4" cy="343.8" r="1.35"/><circle cx="105.8" cy="331.8" r="1.35"/><circle cx="106.2" cy="322.0" r="1.35"/><circle cx="106.3" cy="319.7" r="1.35"/><circle cx="106.7" cy="316.7" r="1.35"/><circle cx="107.2" cy="312.6" r="1.35"/><circle cx="107.2" cy="314.1" r="1.35"/><circle cx="107.7" cy="318.1" r="1.35"/><circle cx="108.0" cy="324.6" r="1.35"/><circle cx="108.1" cy="325.5" r="1.35"/><circle cx="108.6" cy="326.7" r="1.35"/><circle cx="109.1" cy="329.2" r="1.35"/><circle cx="109.2" cy="329.7" r="1.35"/><circle cx="109.5" cy="329.5" r="1.35"/><circle cx="110.0" cy="334.4" r="1.35"/><circle cx="110.4" cy="333.3" r="1.35"/><circle cx="110.9" cy="336.4" r="1.35"/><circle cx="111.3" cy="337.4" r="1.35"/><circle cx="111.4" cy="337.4" r="1.35"/><circle cx="111.8" cy="337.9" r="1.35"/><circle cx="112.3" cy="342.1" r="1.35"/><circle cx="112.8" cy="342.5" r="1.35"/><circle cx="113.0" cy="345.0" r="1.35"/><circle cx="113.2" cy="343.6" r="1.35"/><circle cx="113.7" cy="344.2" r="1.35"/><circle cx="114.2" cy="345.4" r="1.35"/><circle cx="114.6" cy="345.9" r="1.35"/><circle cx="115.1" cy="348.8" r="1.35"/><circle cx="115.6" cy="349.0" r="1.35"/><circle cx="115.6" cy="349.0" r="1.35"/><circle cx="116.0" cy="351.3" r="1.35"/><circle cx="116.5" cy="351.6" r="1.35"/><circle cx="116.9" cy="352.3" r="1.35"/><circle cx="117.4" cy="349.7" r="1.35"/><circle cx="117.9" cy="351.0" r="1.35"/><circle cx="118.2" cy="351.5" r="1.35"/><circle cx="118.3" cy="350.0" r="1.35"/><circle cx="118.8" cy="349.7" r="1.35"/><circle cx="119.3" cy="348.2" r="1.35"/><circle cx="119.7" cy="347.2" r="1.35"/><circle cx="120.0" cy="345.0" r="1.35"/><circle cx="120.2" cy="346.5" r="1.35"/><circle cx="120.7" cy="346.3" r="1.35"/><circle cx="121.1" cy="348.6" r="1.35"/><circle cx="121.5" cy="350.3" r="1.35"/><circle cx="121.6" cy="348.7" r="1.35"/><circle cx="122.0" cy="336.9" r="1.35"/><circle cx="122.5" cy="327.3" r="1.35"/><circle cx="122.6" cy="327.2" r="1.35"/><circle cx="123.0" cy="309.2" r="1.35"/><circle cx="123.4" cy="286.0" r="1.35"/><circle cx="123.6" cy="279.7" r="1.35"/><circle cx="123.9" cy="293.6" r="1.35"/><circle cx="124.1" cy="301.5" r="1.35"/><circle cx="124.4" cy="304.5" r="1.35"/><circle cx="124.8" cy="311.2" r="1.35"/><circle cx="125.1" cy="317.0" r="1.35"/><circle cx="125.3" cy="317.4" r="1.35"/><circle cx="125.8" cy="321.7" r="1.35"/><circle cx="126.2" cy="325.7" r="1.35"/><circle cx="126.7" cy="330.9" r="1.35"/><circle cx="126.7" cy="331.0" r="1.35"/><circle cx="127.1" cy="333.4" r="1.35"/><circle cx="127.6" cy="335.4" r="1.35"/><circle cx="128.1" cy="339.4" r="1.35"/><circle cx="128.5" cy="341.3" r="1.35"/><circle cx="128.5" cy="340.2" r="1.35"/><circle cx="129.0" cy="343.7" r="1.35"/><circle cx="129.5" cy="344.6" r="1.35"/><circle cx="129.9" cy="344.3" r="1.35"/><circle cx="130.4" cy="343.8" r="1.35"/><circle cx="130.9" cy="344.8" r="1.35"/><circle cx="131.0" cy="345.0" r="1.35"/><circle cx="131.3" cy="345.0" r="1.35"/><circle cx="131.8" cy="342.5" r="1.35"/><circle cx="132.2" cy="343.5" r="1.35"/><circle cx="132.7" cy="343.5" r="1.35"/><circle cx="133.2" cy="341.7" r="1.35"/><circle cx="133.6" cy="342.6" r="1.35"/><circle cx="133.6" cy="341.0" r="1.35"/><circle cx="134.1" cy="344.3" r="1.35"/><circle cx="134.6" cy="343.0" r="1.35"/><circle cx="135.0" cy="344.0" r="1.35"/><circle cx="135.5" cy="346.0" r="1.35"/><circle cx="136.0" cy="345.2" r="1.35"/><circle cx="136.2" cy="345.0" r="1.35"/><circle cx="136.4" cy="343.9" r="1.35"/><circle cx="136.9" cy="346.3" r="1.35"/><circle cx="137.3" cy="343.4" r="1.35"/><circle cx="137.8" cy="341.5" r="1.35"/><circle cx="138.3" cy="343.7" r="1.35"/><circle cx="138.7" cy="342.6" r="1.35"/><circle cx="138.7" cy="340.9" r="1.35"/><circle cx="139.2" cy="340.3" r="1.35"/><circle cx="139.7" cy="341.1" r="1.35"/><circle cx="140.1" cy="339.0" r="1.35"/><circle cx="140.6" cy="335.0" r="1.35"/><circle cx="141.1" cy="335.4" r="1.35"/><circle cx="141.3" cy="334.9" r="1.35"/><circle cx="141.5" cy="328.8" r="1.35"/><circle cx="142.0" cy="317.3" r="1.35"/><circle cx="142.0" cy="317.0" r="1.35"/><circle cx="142.5" cy="314.4" r="1.35"/><circle cx="142.9" cy="314.5" r="1.35"/><circle cx="143.3" cy="313.0" r="1.35"/><circle cx="143.4" cy="311.7" r="1.35"/><circle cx="143.8" cy="315.2" r="1.35"/><circle cx="144.3" cy="318.2" r="1.35"/><circle cx="144.8" cy="323.2" r="1.35"/><circle cx="145.1" cy="323.3" r="1.35"/><circle cx="145.2" cy="317.3" r="1.35"/><circle cx="145.7" cy="304.9" r="1.35"/><circle cx="146.2" cy="287.5" r="1.35"/><circle cx="146.4" cy="281.0" r="1.35"/><circle cx="146.6" cy="282.7" r="1.35"/><circle cx="147.1" cy="285.0" r="1.35"/><circle cx="147.2" cy="286.2" r="1.35"/><circle cx="147.6" cy="291.4" r="1.35"/><circle cx="148.0" cy="299.7" r="1.35"/><circle cx="148.2" cy="301.5" r="1.35"/><circle cx="148.5" cy="302.5" r="1.35"/><circle cx="148.9" cy="303.8" r="1.35"/><circle cx="149.4" cy="306.2" r="1.35"/><circle cx="149.7" cy="309.2" r="1.35"/><circle cx="149.9" cy="308.7" r="1.35"/><circle cx="150.3" cy="315.1" r="1.35"/><circle cx="150.8" cy="317.6" r="1.35"/><circle cx="151.3" cy="322.2" r="1.35"/><circle cx="151.5" cy="322.0" r="1.35"/><circle cx="151.7" cy="323.1" r="1.35"/><circle cx="152.2" cy="321.2" r="1.35"/><circle cx="152.7" cy="324.4" r="1.35"/><circle cx="153.1" cy="325.6" r="1.35"/><circle cx="153.6" cy="326.1" r="1.35"/><circle cx="154.0" cy="325.9" r="1.35"/><circle cx="154.1" cy="326.0" r="1.35"/><circle cx="154.5" cy="325.8" r="1.35"/><circle cx="155.0" cy="326.7" r="1.35"/><circle cx="155.4" cy="328.5" r="1.35"/><circle cx="155.9" cy="326.8" r="1.35"/><circle cx="156.4" cy="328.3" r="1.35"/><circle cx="156.7" cy="328.5" r="1.35"/><circle cx="156.8" cy="328.5" r="1.35"/><circle cx="157.3" cy="330.8" r="1.35"/><circle cx="157.8" cy="330.5" r="1.35"/><circle cx="158.2" cy="331.4" r="1.35"/><circle cx="158.7" cy="331.3" r="1.35"/><circle cx="159.1" cy="329.5" r="1.35"/><circle cx="159.6" cy="329.6" r="1.35"/><circle cx="160.0" cy="331.0" r="1.35"/><circle cx="160.1" cy="331.1" r="1.35"/><circle cx="160.5" cy="331.1" r="1.35"/><circle cx="161.0" cy="332.7" r="1.35"/><circle cx="161.5" cy="334.6" r="1.35"/><circle cx="161.5" cy="334.0" r="1.35"/><circle cx="161.9" cy="336.3" r="1.35"/><circle cx="162.4" cy="335.7" r="1.35"/><circle cx="162.9" cy="337.3" r="1.35"/><circle cx="163.2" cy="336.5" r="1.35"/><circle cx="163.3" cy="334.1" r="1.35"/><circle cx="163.8" cy="332.0" r="1.35"/><circle cx="164.2" cy="331.5" r="1.35"/><circle cx="164.3" cy="329.2" r="1.35"/><circle cx="164.7" cy="299.1" r="1.35"/><circle cx="165.2" cy="267.9" r="1.35"/><circle cx="165.2" cy="266.6" r="1.35"/><circle cx="165.6" cy="267.7" r="1.35"/><circle cx="166.1" cy="272.4" r="1.35"/><circle cx="166.1" cy="270.8" r="1.35"/><circle cx="166.6" cy="281.4" r="1.35"/><circle cx="167.0" cy="289.2" r="1.35"/><circle cx="167.2" cy="289.9" r="1.35"/><circle cx="167.5" cy="291.7" r="1.35"/><circle cx="168.0" cy="291.5" r="1.35"/><circle cx="168.4" cy="294.0" r="1.35"/><circle cx="168.9" cy="295.7" r="1.35"/><circle cx="169.0" cy="297.2" r="1.35"/><circle cx="169.4" cy="299.7" r="1.35"/><circle cx="169.8" cy="302.1" r="1.35"/><circle cx="170.3" cy="303.5" r="1.35"/><circle cx="170.7" cy="306.2" r="1.35"/><circle cx="171.0" cy="307.4" r="1.35"/><circle cx="171.2" cy="303.3" r="1.35"/><circle cx="171.7" cy="299.1" r="1.35"/><circle cx="172.1" cy="294.9" r="1.35"/><circle cx="172.5" cy="288.5" r="1.35"/><circle cx="172.6" cy="287.6" r="1.35"/><circle cx="173.1" cy="276.0" r="1.35"/><circle cx="173.4" cy="271.0" r="1.35"/><circle cx="173.5" cy="273.7" r="1.35"/><circle cx="174.0" cy="284.3" r="1.35"/><circle cx="174.5" cy="292.3" r="1.35"/><circle cx="174.5" cy="294.3" r="1.35"/><circle cx="174.9" cy="297.9" r="1.35"/><circle cx="175.4" cy="298.4" r="1.35"/><circle cx="175.8" cy="301.7" r="1.35"/><circle cx="176.0" cy="301.6" r="1.35"/><circle cx="176.3" cy="302.0" r="1.35"/><circle cx="176.8" cy="305.6" r="1.35"/><circle cx="177.2" cy="305.9" r="1.35"/><circle cx="177.7" cy="306.3" r="1.35"/><circle cx="177.7" cy="306.0" r="1.35"/><circle cx="178.2" cy="281.1" r="1.35"/><circle cx="178.6" cy="260.3" r="1.35"/><circle cx="178.6" cy="259.3" r="1.35"/><circle cx="179.1" cy="244.9" r="1.35"/><circle cx="179.1" cy="246.5" r="1.35"/><circle cx="179.4" cy="219.7" r="1.35"/><circle cx="179.6" cy="226.7" r="1.35"/><circle cx="179.9" cy="241.2" r="1.35"/><circle cx="180.0" cy="244.0" r="1.35"/><circle cx="180.5" cy="246.1" r="1.35"/><circle cx="180.7" cy="249.7" r="1.35"/><circle cx="180.9" cy="254.3" r="1.35"/><circle cx="181.2" cy="258.9" r="1.35"/><circle cx="181.4" cy="259.6" r="1.35"/><circle cx="181.9" cy="260.9" r="1.35"/><circle cx="182.2" cy="262.4" r="1.35"/><circle cx="182.3" cy="266.8" r="1.35"/><circle cx="182.7" cy="275.3" r="1.35"/><circle cx="182.8" cy="277.8" r="1.35"/><circle cx="183.3" cy="280.2" r="1.35"/><circle cx="183.7" cy="282.7" r="1.35"/><circle cx="184.1" cy="285.5" r="1.35"/><circle cx="184.2" cy="287.7" r="1.35"/><circle cx="184.7" cy="287.2" r="1.35"/><circle cx="185.1" cy="290.8" r="1.35"/><circle cx="185.6" cy="292.4" r="1.35"/><circle cx="186.0" cy="294.8" r="1.35"/><circle cx="186.5" cy="295.7" r="1.35"/><circle cx="186.5" cy="297.0" r="1.35"/><circle cx="187.0" cy="291.2" r="1.35"/><circle cx="187.4" cy="289.4" r="1.35"/><circle cx="187.9" cy="285.1" r="1.35"/><circle cx="188.4" cy="282.8" r="1.35"/><circle cx="188.5" cy="281.2" r="1.35"/><circle cx="188.8" cy="278.5" r="1.35"/><circle cx="189.3" cy="270.8" r="1.35"/><circle cx="189.7" cy="264.6" r="1.35"/><circle cx="189.8" cy="263.1" r="1.35"/><circle cx="190.2" cy="268.2" r="1.35"/><circle cx="190.7" cy="272.5" r="1.35"/><circle cx="191.1" cy="276.5" r="1.35"/><circle cx="191.4" cy="276.8" r="1.35"/><circle cx="191.6" cy="276.9" r="1.35"/><circle cx="192.1" cy="276.4" r="1.35"/><circle cx="192.5" cy="272.0" r="1.35"/><circle cx="193.0" cy="274.5" r="1.35"/><circle cx="193.5" cy="272.5" r="1.35"/><circle cx="193.9" cy="270.9" r="1.35"/><circle cx="194.3" cy="269.5" r="1.35"/><circle cx="194.4" cy="271.0" r="1.35"/><circle cx="194.9" cy="270.3" r="1.35"/><circle cx="195.0" cy="268.6" r="1.35"/><circle cx="195.3" cy="269.3" r="1.35"/><circle cx="195.8" cy="275.4" r="1.35"/><circle cx="196.3" cy="278.4" r="1.35"/><circle cx="196.7" cy="279.4" r="1.35"/><circle cx="197.2" cy="284.8" r="1.35"/><circle cx="197.2" cy="284.0" r="1.35"/><circle cx="197.6" cy="284.9" r="1.35"/><circle cx="198.1" cy="284.0" r="1.35"/><circle cx="198.6" cy="287.1" r="1.35"/><circle cx="199.0" cy="285.0" r="1.35"/><circle cx="199.5" cy="287.5" r="1.35"/><circle cx="200.0" cy="287.4" r="1.35"/><circle cx="200.4" cy="287.3" r="1.35"/><circle cx="200.9" cy="289.2" r="1.35"/><circle cx="201.4" cy="289.4" r="1.35"/><circle cx="201.6" cy="289.9" r="1.35"/><circle cx="201.8" cy="289.3" r="1.35"/><circle cx="202.3" cy="293.5" r="1.35"/><circle cx="202.7" cy="291.1" r="1.35"/><circle cx="203.2" cy="292.0" r="1.35"/><circle cx="203.7" cy="295.1" r="1.35"/><circle cx="204.1" cy="297.6" r="1.35"/><circle cx="204.5" cy="297.2" r="1.35"/><circle cx="204.6" cy="298.0" r="1.35"/><circle cx="205.1" cy="299.3" r="1.35"/><circle cx="205.5" cy="299.2" r="1.35"/><circle cx="206.0" cy="300.9" r="1.35"/><circle cx="206.5" cy="300.4" r="1.35"/><circle cx="206.9" cy="301.1" r="1.35"/><circle cx="207.4" cy="303.0" r="1.35"/><circle cx="207.8" cy="302.0" r="1.35"/><circle cx="208.3" cy="303.1" r="1.35"/><circle cx="208.8" cy="306.8" r="1.35"/><circle cx="208.9" cy="306.0" r="1.35"/><circle cx="209.2" cy="305.2" r="1.35"/><circle cx="209.7" cy="308.3" r="1.35"/><circle cx="210.2" cy="309.2" r="1.35"/><circle cx="210.6" cy="308.4" r="1.35"/><circle cx="211.1" cy="310.3" r="1.35"/><circle cx="211.6" cy="311.5" r="1.35"/><circle cx="212.0" cy="312.6" r="1.35"/><circle cx="212.5" cy="310.4" r="1.35"/><circle cx="212.9" cy="311.3" r="1.35"/><circle cx="213.3" cy="313.2" r="1.35"/><circle cx="213.4" cy="312.9" r="1.35"/><circle cx="213.9" cy="314.0" r="1.35"/><circle cx="214.3" cy="314.1" r="1.35"/><circle cx="214.8" cy="313.8" r="1.35"/><circle cx="215.3" cy="316.8" r="1.35"/><circle cx="215.7" cy="319.2" r="1.35"/><circle cx="216.2" cy="317.6" r="1.35"/><circle cx="216.7" cy="319.1" r="1.35"/><circle cx="217.1" cy="319.2" r="1.35"/><circle cx="217.6" cy="320.2" r="1.35"/><circle cx="217.6" cy="320.5" r="1.35"/><circle cx="218.0" cy="322.4" r="1.35"/><circle cx="218.5" cy="320.6" r="1.35"/><circle cx="219.0" cy="322.5" r="1.35"/><circle cx="219.4" cy="322.3" r="1.35"/><circle cx="219.9" cy="323.0" r="1.35"/><circle cx="220.4" cy="324.9" r="1.35"/><circle cx="220.8" cy="322.0" r="1.35"/><circle cx="221.3" cy="325.5" r="1.35"/><circle cx="221.8" cy="323.9" r="1.35"/><circle cx="222.0" cy="324.9" r="1.35"/><circle cx="222.2" cy="325.7" r="1.35"/><circle cx="222.7" cy="326.8" r="1.35"/><circle cx="223.2" cy="326.6" r="1.35"/><circle cx="223.6" cy="326.0" r="1.35"/><circle cx="224.1" cy="328.3" r="1.35"/><circle cx="224.5" cy="325.8" r="1.35"/><circle cx="225.0" cy="328.4" r="1.35"/><circle cx="225.5" cy="327.9" r="1.35"/><circle cx="225.9" cy="328.9" r="1.35"/><circle cx="226.4" cy="330.6" r="1.35"/><circle cx="226.4" cy="329.2" r="1.35"/><circle cx="226.9" cy="331.0" r="1.35"/><circle cx="227.3" cy="331.0" r="1.35"/><circle cx="227.8" cy="330.3" r="1.35"/><circle cx="228.3" cy="330.6" r="1.35"/><circle cx="228.7" cy="332.2" r="1.35"/><circle cx="229.2" cy="331.9" r="1.35"/><circle cx="229.6" cy="332.7" r="1.35"/><circle cx="230.1" cy="336.0" r="1.35"/><circle cx="230.6" cy="333.3" r="1.35"/><circle cx="230.7" cy="335.0" r="1.35"/><circle cx="231.0" cy="336.6" r="1.35"/><circle cx="231.5" cy="335.3" r="1.35"/><circle cx="232.0" cy="335.7" r="1.35"/><circle cx="232.4" cy="336.0" r="1.35"/><circle cx="232.9" cy="335.5" r="1.35"/><circle cx="233.4" cy="337.5" r="1.35"/><circle cx="233.8" cy="336.8" r="1.35"/><circle cx="234.3" cy="338.3" r="1.35"/><circle cx="234.7" cy="338.2" r="1.35"/><circle cx="235.1" cy="339.4" r="1.35"/><circle cx="235.2" cy="341.0" r="1.35"/><circle cx="235.7" cy="341.3" r="1.35"/><circle cx="236.1" cy="339.5" r="1.35"/><circle cx="236.6" cy="340.5" r="1.35"/><circle cx="237.1" cy="341.8" r="1.35"/><circle cx="237.5" cy="339.5" r="1.35"/><circle cx="238.0" cy="338.8" r="1.35"/><circle cx="238.5" cy="339.5" r="1.35"/><circle cx="238.9" cy="339.5" r="1.35"/><circle cx="239.4" cy="341.6" r="1.35"/><circle cx="239.5" cy="340.9" r="1.35"/><circle cx="239.8" cy="340.7" r="1.35"/><circle cx="240.3" cy="341.2" r="1.35"/><circle cx="240.8" cy="343.4" r="1.35"/><circle cx="241.2" cy="341.6" r="1.35"/><circle cx="241.7" cy="344.4" r="1.35"/><circle cx="242.2" cy="344.2" r="1.35"/><circle cx="242.6" cy="343.7" r="1.35"/><circle cx="243.1" cy="345.9" r="1.35"/><circle cx="243.6" cy="344.4" r="1.35"/><circle cx="243.8" cy="345.3" r="1.35"/><circle cx="244.0" cy="347.0" r="1.35"/><circle cx="244.5" cy="347.5" r="1.35"/><circle cx="244.9" cy="346.1" r="1.35"/><circle cx="245.4" cy="347.1" r="1.35"/><circle cx="245.9" cy="348.5" r="1.35"/><circle cx="246.3" cy="347.9" r="1.35"/><circle cx="246.8" cy="348.3" r="1.35"/><circle cx="247.3" cy="349.1" r="1.35"/><circle cx="247.7" cy="349.6" r="1.35"/><circle cx="248.2" cy="349.2" r="1.35"/><circle cx="248.2" cy="348.2" r="1.35"/><circle cx="248.7" cy="350.4" r="1.35"/><circle cx="249.1" cy="348.0" r="1.35"/><circle cx="249.6" cy="349.6" r="1.35"/><circle cx="250.1" cy="350.1" r="1.35"/><circle cx="250.5" cy="349.2" r="1.35"/><circle cx="251.0" cy="349.6" r="1.35"/><circle cx="251.4" cy="349.0" r="1.35"/><circle cx="251.9" cy="352.5" r="1.35"/><circle cx="252.4" cy="350.4" r="1.35"/><circle cx="252.6" cy="351.1" r="1.35"/><circle cx="252.8" cy="351.1" r="1.35"/><circle cx="253.3" cy="353.0" r="1.35"/><circle cx="253.8" cy="350.4" r="1.35"/><circle cx="254.2" cy="353.7" r="1.35"/><circle cx="254.7" cy="350.6" r="1.35"/><circle cx="255.2" cy="350.4" r="1.35"/><circle cx="255.5" cy="352.5" r="1.35"/><circle cx="255.6" cy="351.8" r="1.35"/><circle cx="256.1" cy="351.4" r="1.35"/><circle cx="256.5" cy="353.1" r="1.35"/><circle cx="257.0" cy="352.5" r="1.35"/><circle cx="257.5" cy="351.6" r="1.35"/><circle cx="257.9" cy="349.8" r="1.35"/><circle cx="258.4" cy="349.8" r="1.35"/><circle cx="258.4" cy="349.6" r="1.35"/><circle cx="258.9" cy="345.5" r="1.35"/><circle cx="259.3" cy="344.9" r="1.35"/><circle cx="259.8" cy="340.1" r="1.35"/><circle cx="260.3" cy="336.6" r="1.35"/><circle cx="260.4" cy="336.5" r="1.35"/><circle cx="260.7" cy="338.6" r="1.35"/><circle cx="261.2" cy="338.9" r="1.35"/><circle cx="261.6" cy="341.8" r="1.35"/><circle cx="262.1" cy="346.5" r="1.35"/><circle cx="262.6" cy="345.5" r="1.35"/><circle cx="262.8" cy="348.2" r="1.35"/><circle cx="263.0" cy="346.8" r="1.35"/><circle cx="263.5" cy="347.0" r="1.35"/><circle cx="264.0" cy="347.2" r="1.35"/><circle cx="264.4" cy="347.9" r="1.35"/><circle cx="264.9" cy="347.2" r="1.35"/><circle cx="265.4" cy="347.6" r="1.35"/><circle cx="265.7" cy="348.2" r="1.35"/><circle cx="265.8" cy="342.4" r="1.35"/><circle cx="266.3" cy="323.6" r="1.35"/><circle cx="266.6" cy="311.8" r="1.35"/><circle cx="266.7" cy="314.5" r="1.35"/><circle cx="267.2" cy="320.6" r="1.35"/><circle cx="267.7" cy="328.0" r="1.35"/><circle cx="268.0" cy="333.6" r="1.35"/><circle cx="268.1" cy="330.5" r="1.35"/><circle cx="268.6" cy="313.6" r="1.35"/><circle cx="269.1" cy="299.9" r="1.35"/><circle cx="269.2" cy="297.2" r="1.35"/><circle cx="269.5" cy="300.6" r="1.35"/><circle cx="270.0" cy="301.7" r="1.35"/><circle cx="270.5" cy="305.9" r="1.35"/><circle cx="270.9" cy="307.4" r="1.35"/><circle cx="270.9" cy="306.1" r="1.35"/><circle cx="271.4" cy="311.7" r="1.35"/><circle cx="271.8" cy="317.0" r="1.35"/><circle cx="272.3" cy="319.0" r="1.35"/><circle cx="272.4" cy="320.4" r="1.35"/><circle cx="272.8" cy="325.2" r="1.35"/><circle cx="273.2" cy="329.2" r="1.35"/><circle cx="273.6" cy="332.4" r="1.35"/><circle cx="273.7" cy="332.3" r="1.35"/><circle cx="274.2" cy="336.4" r="1.35"/><circle cx="274.6" cy="335.6" r="1.35"/><circle cx="275.1" cy="337.6" r="1.35"/><circle cx="275.3" cy="338.4" r="1.35"/><circle cx="275.6" cy="339.4" r="1.35"/><circle cx="276.0" cy="339.0" r="1.35"/><circle cx="276.5" cy="342.0" r="1.35"/><circle cx="276.9" cy="341.9" r="1.35"/><circle cx="277.2" cy="342.0" r="1.35"/><circle cx="277.4" cy="342.1" r="1.35"/><circle cx="277.9" cy="341.3" r="1.35"/><circle cx="278.3" cy="342.5" r="1.35"/><circle cx="278.8" cy="341.9" r="1.35"/><circle cx="279.1" cy="339.6" r="1.35"/><circle cx="279.3" cy="341.2" r="1.35"/><circle cx="279.7" cy="340.3" r="1.35"/><circle cx="280.2" cy="340.8" r="1.35"/><circle cx="280.7" cy="341.9" r="1.35"/><circle cx="280.8" cy="342.0" r="1.35"/><circle cx="281.1" cy="340.0" r="1.35"/><circle cx="281.6" cy="340.0" r="1.35"/><circle cx="282.1" cy="343.4" r="1.35"/><circle cx="282.5" cy="339.7" r="1.35"/><circle cx="283.0" cy="342.7" r="1.35"/><circle cx="283.2" cy="340.8" r="1.35"/><circle cx="283.4" cy="342.1" r="1.35"/><circle cx="283.9" cy="344.2" r="1.35"/><circle cx="284.4" cy="342.0" r="1.35"/><circle cx="284.8" cy="344.1" r="1.35"/><circle cx="285.3" cy="347.2" r="1.35"/><circle cx="285.6" cy="346.8" r="1.35"/><circle cx="285.8" cy="344.5" r="1.35"/><circle cx="286.2" cy="344.0" r="1.35"/><circle cx="286.7" cy="344.0" r="1.35"/><circle cx="287.2" cy="342.4" r="1.35"/><circle cx="287.6" cy="341.4" r="1.35"/><circle cx="288.0" cy="342.0" r="1.35"/><circle cx="288.1" cy="340.9" r="1.35"/><circle cx="288.5" cy="328.2" r="1.35"/><circle cx="288.7" cy="326.4" r="1.35"/><circle cx="289.0" cy="331.6" r="1.35"/><circle cx="289.5" cy="335.3" r="1.35"/><circle cx="289.7" cy="337.2" r="1.35"/><circle cx="289.9" cy="335.7" r="1.35"/><circle cx="290.4" cy="339.7" r="1.35"/><circle cx="290.9" cy="337.6" r="1.35"/><circle cx="291.3" cy="339.2" r="1.35"/><circle cx="291.6" cy="339.6" r="1.35"/><circle cx="291.8" cy="340.0" r="1.35"/><circle cx="292.3" cy="338.8" r="1.35"/><circle cx="292.7" cy="340.7" r="1.35"/><circle cx="293.2" cy="339.4" r="1.35"/><circle cx="293.6" cy="340.4" r="1.35"/><circle cx="294.0" cy="342.0" r="1.35"/><circle cx="294.1" cy="343.7" r="1.35"/><circle cx="294.6" cy="343.6" r="1.35"/><circle cx="295.0" cy="342.6" r="1.35"/><circle cx="295.5" cy="343.5" r="1.35"/><circle cx="296.0" cy="344.5" r="1.35"/><circle cx="296.4" cy="343.2" r="1.35"/><circle cx="296.4" cy="341.8" r="1.35"/><circle cx="296.9" cy="343.3" r="1.35"/><circle cx="297.4" cy="342.0" r="1.35"/><circle cx="297.8" cy="342.1" r="1.35"/><circle cx="298.3" cy="342.3" r="1.35"/><circle cx="298.7" cy="342.8" r="1.35"/><circle cx="299.2" cy="342.3" r="1.35"/><circle cx="299.7" cy="343.2" r="1.35"/><circle cx="300.0" cy="344.4" r="1.35"/><circle cx="300.1" cy="344.0" r="1.35"/><circle cx="300.6" cy="345.3" r="1.35"/><circle cx="301.1" cy="346.5" r="1.35"/><circle cx="301.5" cy="347.0" r="1.35"/><circle cx="302.0" cy="346.6" r="1.35"/><circle cx="302.5" cy="346.1" r="1.35"/><circle cx="302.9" cy="348.0" r="1.35"/><circle cx="303.4" cy="345.3" r="1.35"/><circle cx="303.6" cy="346.8" r="1.35"/><circle cx="303.8" cy="345.3" r="1.35"/><circle cx="304.3" cy="348.3" r="1.35"/><circle cx="304.8" cy="347.7" r="1.35"/><circle cx="305.2" cy="346.2" r="1.35"/><circle cx="305.7" cy="347.0" r="1.35"/><circle cx="306.2" cy="346.8" r="1.35"/><circle cx="306.6" cy="347.5" r="1.35"/><circle cx="307.1" cy="347.7" r="1.35"/><circle cx="307.2" cy="348.0" r="1.35"/><circle cx="307.6" cy="347.8" r="1.35"/><circle cx="308.0" cy="349.7" r="1.35"/><circle cx="308.5" cy="350.1" r="1.35"/><circle cx="309.0" cy="349.4" r="1.35"/><circle cx="309.4" cy="349.4" r="1.35"/><circle cx="309.9" cy="348.9" r="1.35"/><circle cx="310.3" cy="351.2" r="1.35"/><circle cx="310.8" cy="350.4" r="1.35"/><circle cx="310.8" cy="352.4" r="1.35"/><circle cx="311.3" cy="349.8" r="1.35"/><circle cx="311.7" cy="352.1" r="1.35"/><circle cx="312.0" cy="351.6" r="1.35"/><circle cx="312.2" cy="328.3" r="1.35"/><circle cx="312.7" cy="271.5" r="1.35"/><circle cx="312.8" cy="254.0" r="1.35"/><circle cx="313.1" cy="259.0" r="1.35"/><circle cx="313.6" cy="271.0" r="1.35"/><circle cx="313.6" cy="271.0" r="1.35"/><circle cx="314.1" cy="274.7" r="1.35"/><circle cx="314.4" cy="279.6" r="1.35"/><circle cx="314.5" cy="278.8" r="1.35"/><circle cx="315.0" cy="281.9" r="1.35"/><circle cx="315.1" cy="282.0" r="1.35"/><circle cx="315.4" cy="289.2" r="1.35"/><circle cx="315.4" cy="290.4" r="1.35"/><circle cx="315.8" cy="295.2" r="1.35"/><circle cx="315.9" cy="296.6" r="1.35"/><circle cx="316.4" cy="301.0" r="1.35"/><circle cx="316.8" cy="303.6" r="1.35"/><circle cx="316.8" cy="304.5" r="1.35"/><circle cx="317.3" cy="305.0" r="1.35"/><circle cx="317.8" cy="304.7" r="1.35"/><circle cx="318.0" cy="307.2" r="1.35"/><circle cx="318.2" cy="309.4" r="1.35"/><circle cx="318.7" cy="311.9" r="1.35"/><circle cx="319.2" cy="314.3" r="1.35"/><circle cx="319.2" cy="313.2" r="1.35"/><circle cx="319.6" cy="315.3" r="1.35"/><circle cx="320.1" cy="314.9" r="1.35"/><circle cx="320.4" cy="318.0" r="1.35"/><circle cx="320.5" cy="316.6" r="1.35"/><circle cx="321.0" cy="315.8" r="1.35"/><circle cx="321.5" cy="317.5" r="1.35"/><circle cx="321.9" cy="316.6" r="1.35"/><circle cx="322.4" cy="314.7" r="1.35"/><circle cx="322.8" cy="315.6" r="1.35"/><circle cx="322.9" cy="317.6" r="1.35"/><circle cx="323.3" cy="319.2" r="1.35"/><circle cx="323.8" cy="320.3" r="1.35"/><circle cx="324.3" cy="320.1" r="1.35"/><circle cx="324.7" cy="321.6" r="1.35"/><circle cx="324.7" cy="320.8" r="1.35"/><circle cx="325.2" cy="322.1" r="1.35"/><circle cx="325.6" cy="326.2" r="1.35"/><circle cx="326.1" cy="327.4" r="1.35"/><circle cx="326.4" cy="327.6" r="1.35"/><circle cx="326.6" cy="323.9" r="1.35"/><circle cx="327.0" cy="318.8" r="1.35"/><circle cx="327.5" cy="310.0" r="1.35"/><circle cx="328.0" cy="301.8" r="1.35"/><circle cx="328.1" cy="300.0" r="1.35"/><circle cx="328.4" cy="315.0" r="1.35"/><circle cx="328.8" cy="332.4" r="1.35"/><circle cx="328.9" cy="333.3" r="1.35"/><circle cx="329.4" cy="332.5" r="1.35"/><circle cx="329.8" cy="333.5" r="1.35"/><circle cx="330.3" cy="331.6" r="1.35"/><circle cx="330.7" cy="334.2" r="1.35"/><circle cx="331.2" cy="333.6" r="1.35"/><circle cx="331.2" cy="332.7" r="1.35"/><circle cx="331.7" cy="335.7" r="1.35"/><circle cx="332.1" cy="333.4" r="1.35"/><circle cx="332.6" cy="334.3" r="1.35"/><circle cx="333.1" cy="335.6" r="1.35"/><circle cx="333.5" cy="335.5" r="1.35"/><circle cx="333.6" cy="336.0" r="1.35"/><circle cx="334.0" cy="335.7" r="1.35"/><circle cx="334.5" cy="336.8" r="1.35"/><circle cx="334.9" cy="333.5" r="1.35"/><circle cx="335.4" cy="335.3" r="1.35"/><circle cx="335.9" cy="334.5" r="1.35"/><circle cx="336.0" cy="333.6" r="1.35"/><circle cx="336.3" cy="334.4" r="1.35"/><circle cx="336.8" cy="332.6" r="1.35"/><circle cx="337.2" cy="332.2" r="1.35"/><circle cx="337.7" cy="331.3" r="1.35"/><circle cx="338.2" cy="331.3" r="1.35"/><circle cx="338.4" cy="331.2" r="1.35"/><circle cx="338.6" cy="329.6" r="1.35"/><circle cx="339.1" cy="328.2" r="1.35"/><circle cx="339.6" cy="328.1" r="1.35"/><circle cx="340.0" cy="325.8" r="1.35"/><circle cx="340.5" cy="325.8" r="1.35"/><circle cx="341.0" cy="325.0" r="1.35"/><circle cx="341.4" cy="322.8" r="1.35"/><circle cx="341.5" cy="323.3" r="1.35"/><circle cx="341.9" cy="324.3" r="1.35"/><circle cx="342.3" cy="328.8" r="1.35"/><circle cx="342.8" cy="332.7" r="1.35"/><circle cx="343.2" cy="333.6" r="1.35"/><circle cx="343.3" cy="332.6" r="1.35"/><circle cx="343.7" cy="334.6" r="1.35"/><circle cx="344.2" cy="335.2" r="1.35"/><circle cx="344.7" cy="336.6" r="1.35"/><circle cx="345.1" cy="336.3" r="1.35"/><circle cx="345.6" cy="335.2" r="1.35"/><circle cx="345.6" cy="336.0" r="1.35"/><circle cx="346.1" cy="334.4" r="1.35"/><circle cx="346.5" cy="336.4" r="1.35"/><circle cx="347.0" cy="333.8" r="1.35"/><circle cx="347.4" cy="332.2" r="1.35"/><circle cx="347.9" cy="335.2" r="1.35"/><circle cx="348.0" cy="333.6" r="1.35"/><circle cx="348.4" cy="332.0" r="1.35"/><circle cx="348.8" cy="332.0" r="1.35"/><circle cx="349.3" cy="331.6" r="1.35"/><circle cx="349.8" cy="330.9" r="1.35"/><circle cx="350.2" cy="332.3" r="1.35"/><circle cx="350.4" cy="331.2" r="1.35"/><circle cx="350.7" cy="331.0" r="1.35"/><circle cx="351.2" cy="332.1" r="1.35"/><circle cx="351.6" cy="332.7" r="1.35"/><circle cx="352.1" cy="335.1" r="1.35"/><circle cx="352.5" cy="332.5" r="1.35"/><circle cx="352.8" cy="334.8" r="1.35"/><circle cx="353.0" cy="335.3" r="1.35"/><circle cx="353.5" cy="333.8" r="1.35"/><circle cx="353.9" cy="334.2" r="1.35"/><circle cx="354.4" cy="336.3" r="1.35"/><circle cx="354.9" cy="335.7" r="1.35"/><circle cx="355.3" cy="334.7" r="1.35"/><circle cx="355.8" cy="337.1" r="1.35"/><circle cx="356.3" cy="338.8" r="1.35"/><circle cx="356.4" cy="337.2" r="1.35"/><circle cx="356.7" cy="338.0" r="1.35"/><circle cx="357.2" cy="337.8" r="1.35"/><circle cx="357.6" cy="339.3" r="1.35"/><circle cx="358.1" cy="340.1" r="1.35"/><circle cx="358.6" cy="337.4" r="1.35"/><circle cx="359.0" cy="338.4" r="1.35"/><circle cx="359.5" cy="341.4" r="1.35"/><circle cx="360.0" cy="341.6" r="1.35"/><circle cx="360.4" cy="339.0" r="1.35"/><circle cx="360.9" cy="341.4" r="1.35"/><circle cx="361.2" cy="340.8" r="1.35"/><circle cx="361.4" cy="342.3" r="1.35"/><circle cx="361.8" cy="341.3" r="1.35"/><circle cx="362.3" cy="341.9" r="1.35"/><circle cx="362.8" cy="341.3" r="1.35"/><circle cx="363.2" cy="340.2" r="1.35"/><circle cx="363.7" cy="340.3" r="1.35"/><circle cx="364.1" cy="339.8" r="1.35"/><circle cx="364.6" cy="342.3" r="1.35"/><circle cx="365.1" cy="340.3" r="1.35"/><circle cx="365.5" cy="342.4" r="1.35"/><circle cx="366.0" cy="341.6" r="1.35"/><circle cx="366.0" cy="342.0" r="1.35"/><circle cx="366.5" cy="342.1" r="1.35"/><circle cx="366.9" cy="344.6" r="1.35"/><circle cx="367.4" cy="342.6" r="1.35"/><circle cx="367.9" cy="343.3" r="1.35"/><circle cx="368.3" cy="343.3" r="1.35"/><circle cx="368.8" cy="342.9" r="1.35"/><circle cx="369.2" cy="343.3" r="1.35"/><circle cx="369.7" cy="344.9" r="1.35"/><circle cx="370.2" cy="346.4" r="1.35"/><circle cx="370.6" cy="343.8" r="1.35"/><circle cx="370.8" cy="345.6" r="1.35"/><circle cx="371.1" cy="347.6" r="1.35"/><circle cx="371.6" cy="346.9" r="1.35"/><circle cx="372.0" cy="344.7" r="1.35"/><circle cx="372.5" cy="347.7" r="1.35"/><circle cx="373.0" cy="346.8" r="1.35"/><circle cx="373.4" cy="347.6" r="1.35"/><circle cx="373.9" cy="346.3" r="1.35"/><circle cx="374.3" cy="348.3" r="1.35"/><circle cx="374.8" cy="348.7" r="1.35"/><circle cx="375.3" cy="350.1" r="1.35"/><circle cx="375.6" cy="349.2" r="1.35"/><circle cx="375.7" cy="349.6" r="1.35"/><circle cx="376.2" cy="350.5" r="1.35"/><circle cx="376.7" cy="350.9" r="1.35"/><circle cx="377.1" cy="349.2" r="1.35"/><circle cx="377.6" cy="348.8" r="1.35"/><circle cx="378.1" cy="351.0" r="1.35"/><circle cx="378.5" cy="349.9" r="1.35"/><circle cx="379.0" cy="350.3" r="1.35"/><circle cx="379.4" cy="351.4" r="1.35"/><circle cx="379.9" cy="352.6" r="1.35"/><circle cx="380.4" cy="353.2" r="1.35"/><circle cx="380.4" cy="352.8" r="1.35"/><circle cx="380.8" cy="354.0" r="1.35"/><circle cx="381.3" cy="355.8" r="1.35"/><circle cx="381.8" cy="353.1" r="1.35"/><circle cx="382.2" cy="355.6" r="1.35"/><circle cx="382.7" cy="354.4" r="1.35"/><circle cx="383.2" cy="357.4" r="1.35"/><circle cx="383.3" cy="356.9" r="1.35"/><circle cx="383.6" cy="356.3" r="1.35"/><circle cx="384.1" cy="354.7" r="1.35"/><circle cx="384.5" cy="354.9" r="1.35"/><circle cx="385.0" cy="355.8" r="1.35"/><circle cx="385.5" cy="354.6" r="1.35"/><circle cx="385.9" cy="356.0" r="1.35"/><circle cx="386.4" cy="353.2" r="1.35"/><circle cx="386.6" cy="353.6" r="1.35"/><circle cx="386.9" cy="353.3" r="1.35"/><circle cx="387.3" cy="356.3" r="1.35"/><circle cx="387.8" cy="355.6" r="1.35"/><circle cx="388.3" cy="354.2" r="1.35"/><circle cx="388.7" cy="357.6" r="1.35"/><circle cx="389.2" cy="356.5" r="1.35"/><circle cx="389.7" cy="359.5" r="1.35"/><circle cx="389.9" cy="358.0" r="1.35"/><circle cx="390.1" cy="358.3" r="1.35"/><circle cx="390.6" cy="358.5" r="1.35"/><circle cx="391.0" cy="358.4" r="1.35"/><circle cx="391.5" cy="356.4" r="1.35"/><circle cx="392.0" cy="357.8" r="1.35"/><circle cx="392.4" cy="353.6" r="1.35"/><circle cx="392.9" cy="354.4" r="1.35"/><circle cx="393.2" cy="354.7" r="1.35"/><circle cx="393.4" cy="356.0" r="1.35"/><circle cx="393.8" cy="352.5" r="1.35"/><circle cx="394.3" cy="354.9" r="1.35"/><circle cx="394.8" cy="356.0" r="1.35"/><circle cx="395.2" cy="354.7" r="1.35"/><circle cx="395.7" cy="355.1" r="1.35"/><circle cx="395.8" cy="353.6" r="1.35"/><circle cx="396.1" cy="353.0" r="1.35"/><circle cx="396.6" cy="356.2" r="1.35"/><circle cx="397.1" cy="357.9" r="1.35"/><circle cx="397.5" cy="358.6" r="1.35"/><circle cx="398.0" cy="360.0" r="1.35"/><circle cx="398.5" cy="362.8" r="1.35"/><circle cx="398.7" cy="362.4" r="1.35"/><circle cx="398.9" cy="360.6" r="1.35"/><circle cx="399.4" cy="359.2" r="1.35"/><circle cx="399.9" cy="360.5" r="1.35"/><circle cx="400.3" cy="361.0" r="1.35"/><circle cx="400.8" cy="359.5" r="1.35"/><circle cx="400.9" cy="358.0" r="1.35"/><circle cx="401.2" cy="358.3" r="1.35"/><circle cx="401.7" cy="356.4" r="1.35"/><circle cx="402.2" cy="358.3" r="1.35"/><circle cx="402.6" cy="354.4" r="1.35"/><circle cx="403.1" cy="354.8" r="1.35"/><circle cx="403.6" cy="356.5" r="1.35"/><circle cx="404.0" cy="356.5" r="1.35"/><circle cx="404.2" cy="354.7" r="1.35"/><circle cx="404.5" cy="352.6" r="1.35"/><circle cx="405.0" cy="351.8" r="1.35"/><circle cx="405.4" cy="345.8" r="1.35"/><circle cx="405.9" cy="345.0" r="1.35"/><circle cx="406.3" cy="340.1" r="1.35"/><circle cx="406.4" cy="341.5" r="1.35"/><circle cx="406.8" cy="344.1" r="1.35"/><circle cx="407.3" cy="348.1" r="1.35"/><circle cx="407.5" cy="351.4" r="1.35"/><circle cx="407.7" cy="350.0" r="1.35"/><circle cx="408.2" cy="352.8" r="1.35"/><circle cx="408.7" cy="354.3" r="1.35"/><circle cx="409.1" cy="354.6" r="1.35"/><circle cx="409.6" cy="357.2" r="1.35"/><circle cx="409.7" cy="356.9" r="1.35"/><circle cx="410.1" cy="355.0" r="1.35"/><circle cx="410.5" cy="356.7" r="1.35"/><circle cx="411.0" cy="356.6" r="1.35"/><circle cx="411.4" cy="355.9" r="1.35"/><circle cx="411.9" cy="357.8" r="1.35"/><circle cx="412.4" cy="354.5" r="1.35"/><circle cx="412.8" cy="355.6" r="1.35"/><circle cx="413.0" cy="355.8" r="1.35"/><circle cx="413.3" cy="354.3" r="1.35"/><circle cx="413.8" cy="352.0" r="1.35"/><circle cx="414.2" cy="352.4" r="1.35"/><circle cx="414.7" cy="348.8" r="1.35"/><circle cx="414.8" cy="348.1" r="1.35"/><circle cx="415.2" cy="348.6" r="1.35"/><circle cx="415.6" cy="348.9" r="1.35"/><circle cx="416.1" cy="349.5" r="1.35"/><circle cx="416.6" cy="352.1" r="1.35"/><circle cx="417.0" cy="352.1" r="1.35"/><circle cx="417.4" cy="351.4" r="1.35"/><circle cx="417.5" cy="352.1" r="1.35"/><circle cx="417.9" cy="350.8" r="1.35"/><circle cx="418.4" cy="353.1" r="1.35"/><circle cx="418.9" cy="351.9" r="1.35"/><circle cx="419.3" cy="353.4" r="1.35"/><circle cx="419.8" cy="352.7" r="1.35"/><circle cx="420.3" cy="356.0" r="1.35"/><circle cx="420.7" cy="355.8" r="1.35"/><circle cx="420.7" cy="357.7" r="1.35"/><circle cx="421.2" cy="355.5" r="1.35"/><circle cx="421.7" cy="354.5" r="1.35"/><circle cx="422.1" cy="352.4" r="1.35"/><circle cx="422.6" cy="352.4" r="1.35"/><circle cx="423.0" cy="351.8" r="1.35"/><circle cx="423.5" cy="350.8" r="1.35"/><circle cx="424.0" cy="349.4" r="1.35"/><circle cx="424.0" cy="350.3" r="1.35"/><circle cx="424.4" cy="348.7" r="1.35"/><circle cx="424.9" cy="350.4" r="1.35"/><circle cx="425.4" cy="350.7" r="1.35"/><circle cx="425.8" cy="349.8" r="1.35"/><circle cx="426.2" cy="348.1" r="1.35"/><circle cx="426.3" cy="348.7" r="1.35"/><circle cx="426.8" cy="347.0" r="1.35"/><circle cx="427.2" cy="348.7" r="1.35"/><circle cx="427.7" cy="351.4" r="1.35"/><circle cx="428.1" cy="352.6" r="1.35"/><circle cx="428.6" cy="351.5" r="1.35"/><circle cx="429.1" cy="352.2" r="1.35"/><circle cx="429.5" cy="352.5" r="1.35"/><circle cx="429.5" cy="353.3" r="1.35"/><circle cx="430.0" cy="352.0" r="1.35"/><circle cx="430.5" cy="354.3" r="1.35"/><circle cx="430.9" cy="353.4" r="1.35"/><circle cx="431.4" cy="355.8" r="1.35"/><circle cx="431.9" cy="354.7" r="1.35"/><circle cx="432.3" cy="356.0" r="1.35"/><circle cx="432.8" cy="356.0" r="1.35"/><circle cx="432.8" cy="355.8" r="1.35"/><circle cx="433.2" cy="356.5" r="1.35"/><circle cx="433.7" cy="356.9" r="1.35"/><circle cx="434.2" cy="359.4" r="1.35"/><circle cx="434.6" cy="359.3" r="1.35"/><circle cx="435.1" cy="358.5" r="1.35"/><circle cx="435.6" cy="359.5" r="1.35"/><circle cx="436.0" cy="361.7" r="1.35"/><circle cx="436.1" cy="360.2" r="1.35"/><circle cx="436.5" cy="359.2" r="1.35"/><circle cx="437.0" cy="356.4" r="1.35"/><circle cx="437.4" cy="355.3" r="1.35"/><circle cx="437.6" cy="352.5" r="1.35"/><circle cx="437.9" cy="351.5" r="1.35"/><circle cx="438.3" cy="354.4" r="1.35"/><circle cx="438.8" cy="355.4" r="1.35"/><circle cx="439.3" cy="355.7" r="1.35"/><circle cx="439.7" cy="358.6" r="1.35"/><circle cx="439.8" cy="356.9" r="1.35"/><circle cx="440.2" cy="358.2" r="1.35"/><circle cx="440.7" cy="355.1" r="1.35"/><circle cx="441.1" cy="355.3" r="1.35"/><circle cx="441.6" cy="355.2" r="1.35"/><circle cx="442.1" cy="354.3" r="1.35"/><circle cx="442.5" cy="352.2" r="1.35"/><circle cx="442.7" cy="352.5" r="1.35"/><circle cx="443.0" cy="353.9" r="1.35"/><circle cx="443.5" cy="352.4" r="1.35"/><circle cx="443.9" cy="351.9" r="1.35"/><circle cx="444.4" cy="354.3" r="1.35"/><circle cx="444.8" cy="354.5" r="1.35"/><circle cx="445.3" cy="353.9" r="1.35"/><circle cx="445.8" cy="354.5" r="1.35"/><circle cx="446.0" cy="354.7" r="1.35"/><circle cx="446.2" cy="357.0" r="1.35"/><circle cx="446.7" cy="356.9" r="1.35"/><circle cx="447.2" cy="355.9" r="1.35"/><circle cx="447.6" cy="358.5" r="1.35"/><circle cx="448.1" cy="357.8" r="1.35"/><circle cx="448.6" cy="357.7" r="1.35"/><circle cx="449.0" cy="359.3" r="1.35"/><circle cx="449.3" cy="359.1" r="1.35"/><circle cx="449.5" cy="358.9" r="1.35"/><circle cx="449.9" cy="356.0" r="1.35"/><circle cx="450.4" cy="351.7" r="1.35"/><circle cx="450.8" cy="348.1" r="1.35"/><circle cx="450.9" cy="348.8" r="1.35"/><circle cx="451.3" cy="348.1" r="1.35"/><circle cx="451.8" cy="347.0" r="1.35"/><circle cx="452.3" cy="349.0" r="1.35"/><circle cx="452.7" cy="348.0" r="1.35"/><circle cx="453.2" cy="351.7" r="1.35"/><circle cx="453.7" cy="349.7" r="1.35"/><circle cx="453.7" cy="350.3" r="1.35"/><circle cx="454.1" cy="349.3" r="1.35"/><circle cx="454.6" cy="348.1" r="1.35"/><circle cx="455.0" cy="344.3" r="1.35"/><circle cx="455.5" cy="345.3" r="1.35"/><circle cx="455.9" cy="342.6" r="1.35"/><circle cx="456.0" cy="341.4" r="1.35"/><circle cx="456.4" cy="337.2" r="1.35"/><circle cx="456.9" cy="336.0" r="1.35"/><circle cx="457.0" cy="334.9" r="1.35"/><circle cx="457.4" cy="332.0" r="1.35"/><circle cx="457.8" cy="330.8" r="1.35"/><circle cx="458.1" cy="327.2" r="1.35"/><circle cx="458.3" cy="324.0" r="1.35"/><circle cx="458.8" cy="315.3" r="1.35"/><circle cx="458.8" cy="316.2" r="1.35"/><circle cx="459.2" cy="308.5" r="1.35"/><circle cx="459.6" cy="305.2" r="1.35"/><circle cx="459.7" cy="304.1" r="1.35"/><circle cx="460.1" cy="310.5" r="1.35"/><circle cx="460.5" cy="314.0" r="1.35"/><circle cx="460.6" cy="316.5" r="1.35"/><circle cx="461.1" cy="320.6" r="1.35"/><circle cx="461.4" cy="327.2" r="1.35"/><circle cx="461.5" cy="327.2" r="1.35"/><circle cx="462.0" cy="330.1" r="1.35"/><circle cx="462.5" cy="334.0" r="1.35"/><circle cx="462.9" cy="336.6" r="1.35"/><circle cx="463.2" cy="336.0" r="1.35"/><circle cx="463.4" cy="338.1" r="1.35"/><circle cx="463.9" cy="338.5" r="1.35"/><circle cx="464.3" cy="339.6" r="1.35"/><circle cx="464.7" cy="340.4" r="1.35"/><circle cx="464.8" cy="339.1" r="1.35"/><circle cx="465.2" cy="339.8" r="1.35"/><circle cx="465.7" cy="337.0" r="1.35"/><circle cx="466.2" cy="336.7" r="1.35"/><circle cx="466.6" cy="337.8" r="1.35"/><circle cx="466.9" cy="336.0" r="1.35"/><circle cx="467.1" cy="334.4" r="1.35"/><circle cx="467.6" cy="330.9" r="1.35"/><circle cx="468.0" cy="326.1" r="1.35"/><circle cx="468.0" cy="326.1" r="1.35"/><circle cx="468.5" cy="326.9" r="1.35"/><circle cx="469.0" cy="329.5" r="1.35"/><circle cx="469.4" cy="331.4" r="1.35"/><circle cx="469.9" cy="331.7" r="1.35"/><circle cx="470.2" cy="333.8" r="1.35"/><circle cx="470.4" cy="335.6" r="1.35"/><circle cx="470.8" cy="337.3" r="1.35"/><circle cx="471.3" cy="335.2" r="1.35"/><circle cx="471.7" cy="336.6" r="1.35"/><circle cx="472.2" cy="340.1" r="1.35"/><circle cx="472.4" cy="339.3" r="1.35"/><circle cx="472.7" cy="340.9" r="1.35"/><circle cx="473.1" cy="340.0" r="1.35"/><circle cx="473.6" cy="342.6" r="1.35"/><circle cx="474.1" cy="342.4" r="1.35"/><circle cx="474.5" cy="346.1" r="1.35"/><circle cx="474.6" cy="344.8" r="1.35"/><circle cx="475.0" cy="344.8" r="1.35"/><circle cx="475.5" cy="344.0" r="1.35"/><circle cx="475.9" cy="342.1" r="1.35"/><circle cx="476.4" cy="342.6" r="1.35"/><circle cx="476.8" cy="342.6" r="1.35"/><circle cx="476.8" cy="342.4" r="1.35"/><circle cx="477.3" cy="341.5" r="1.35"/><circle cx="477.8" cy="340.3" r="1.35"/><circle cx="478.2" cy="340.0" r="1.35"/><circle cx="478.7" cy="341.5" r="1.35"/><circle cx="479.0" cy="340.4" r="1.35"/><circle cx="479.2" cy="341.3" r="1.35"/><circle cx="479.6" cy="338.6" r="1.35"/><circle cx="480.1" cy="335.4" r="1.35"/><circle cx="480.1" cy="334.9" r="1.35"/><circle cx="480.6" cy="332.0" r="1.35"/><circle cx="481.0" cy="325.2" r="1.35"/><circle cx="481.2" cy="325.0" r="1.35"/><circle cx="481.5" cy="324.4" r="1.35"/><circle cx="481.9" cy="327.3" r="1.35"/><circle cx="482.3" cy="327.2" r="1.35"/><circle cx="482.4" cy="325.5" r="1.35"/><circle cx="482.9" cy="327.3" r="1.35"/><circle cx="483.2" cy="330.0" r="1.35"/></g><path d="M49.6,222.8L52.2,225.4L49.6,228.0L47.0,225.4Z" fill="#d0136e" stroke="none" stroke-width="0.5"/><path d="M83.2,247.9L85.8,250.5L83.2,253.1L80.6,250.5Z" fill="#d0136e" stroke="none" stroke-width="0.5"/><path d="M98.9,190.9L101.5,193.5L98.9,196.1L96.3,193.5Z" fill="#d0136e" stroke="none" stroke-width="0.5"/><path d="M293.5,229.7L296.1,232.3L293.5,234.9L290.9,232.3Z" fill="#d0136e" stroke="none" stroke-width="0.5"/><path d="M298.3,229.7L300.9,232.3L298.3,234.9L295.7,232.3Z" fill="#d0136e" stroke="none" stroke-width="0.5"/><path d="M321.0,215.0L323.6,217.6L321.0,220.2L318.4,217.6Z" fill="#d0136e" stroke="none" stroke-width="0.5"/><path d="M374.2,254.6L376.8,257.2L374.2,259.8L371.6,257.2Z" fill="#d0136e" stroke="none" stroke-width="0.5"/><path d="M442.7,259.2L445.3,261.8L442.7,264.4L440.1,261.8Z" fill="#d0136e" stroke="none" stroke-width="0.5"/><circle cx="293.6" cy="347" r="2.3" fill="#ee7d3a" stroke="#b85a20" stroke-width="0.4"/><circle cx="321.6" cy="324.4" r="2.3" fill="#ee7d3a" stroke="#b85a20" stroke-width="0.4"/><circle cx="345" cy="326" r="2.3" fill="#ee7d3a" stroke="#b85a20" stroke-width="0.4"/><circle cx="373.6" cy="353" r="2.3" fill="#ee7d3a" stroke="#b85a20" stroke-width="0.4"/><path d="M293.6,343.2L296.4,346.0L293.6,348.8L290.8,346.0Z" fill="#f6ea1a" stroke="#b8a800" stroke-width="0.5"/><path d="M298.4,341.6L301.2,344.4L298.4,347.2L295.6,344.4Z" fill="#f6ea1a" stroke="#b8a800" stroke-width="0.5"/><path d="M321.6,298.2L324.4,301.0L321.6,303.8L318.8,301.0Z" fill="#f6ea1a" stroke="#b8a800" stroke-width="0.5"/><path d="M345.0,330.2L347.8,333.0L345.0,335.8L342.2,333.0Z" fill="#f6ea1a" stroke="#b8a800" stroke-width="0.5"/><path d="M373.6,344.8L376.4,347.6L373.6,350.4L370.8,347.6Z" fill="#f6ea1a" stroke="#b8a800" stroke-width="0.5"/><path d="M395.8,350.4L398.6,353.2L395.8,356.0L393.0,353.2Z" fill="#f6ea1a" stroke="#b8a800" stroke-width="0.5"/><path d="M442.7,344.2L445.5,347.0L442.7,349.8L439.9,347.0Z" fill="#f6ea1a" stroke="#b8a800" stroke-width="0.5"/><path d="M466.9,334.3L469.7,337.1L466.9,339.9L464.1,337.1Z" fill="#f6ea1a" stroke="#b8a800" stroke-width="0.5"/><path d="M481.2,321.5L484.0,324.3L481.2,327.1L478.4,324.3Z" fill="#f6ea1a" stroke="#b8a800" stroke-width="0.5"/><circle cx="293.6" cy="291.4" r="2.3" fill="#138a3c" stroke="#0a5a28" stroke-width="0.4"/><circle cx="374" cy="311.4" r="2.3" fill="#138a3c" stroke="#0a5a28" stroke-width="0.4"/><circle cx="395.8" cy="333.1" r="2.3" fill="#138a3c" stroke="#0a5a28" stroke-width="0.4"/><circle cx="442.7" cy="332" r="2.3" fill="#138a3c" stroke="#0a5a28" stroke-width="0.4"/><circle cx="466.9" cy="311.8" r="2.3" fill="#138a3c" stroke="#0a5a28" stroke-width="0.4"/><circle cx="481.2" cy="290.9" r="2.3" fill="#138a3c" stroke="#0a5a28" stroke-width="0.4"/><rect x="371.5" y="117.5" width="107.5" height="36.7" fill="#fff" stroke="#b4b4b4" stroke-width="0.8"/><circle cx="380.2" cy="127" r="2.5" fill="#ee7d3a" stroke="#b85a20" stroke-width="0.4"/><line x1="403" y1="122" x2="412" y2="131.8" stroke="#b567b8" stroke-width="0.8"/><rect x="405" y="124.3" width="5" height="5" fill="#c9a7d8" stroke="#a07ab8" stroke-width="0.5"/><path d="M436.0,124.2L438.8,127.0L436.0,129.8L433.2,127.0Z" fill="#f6ea1a" stroke="#b8a800" stroke-width="0.5"/><circle cx="462" cy="127" r="2.6" fill="#138a3c" stroke="#0a5a28" stroke-width="0.4"/><line x1="376" y1="140" x2="385" y2="150.2" stroke="#2a2ae6" stroke-width="0.8"/><circle cx="380.6" cy="144.8" r="2.6" fill="#a8dcf6" stroke="#4a7ae8" stroke-width="0.5"/><path d="M407.6,141.8L410.3,144.5L407.6,147.2L404.9,144.5Z" fill="#d0136e" stroke="none" stroke-width="0.5"/><line x1="432.2" y1="138.8" x2="441.8" y2="149" stroke="#3fb2e0" stroke-width="0.9" stroke-dasharray="2.5,1.5"/><line x1="458.6" y1="139.4" x2="467.6" y2="149.4" stroke="#e3456e" stroke-width="0.9" stroke-dasharray="2.5,1.5"/><text x="385.6" y="130.7" font-size="9.3" fill="#333">1</text><text x="413" y="130.7" font-size="9.3" fill="#333">2</text><text x="441.4" y="130.7" font-size="9.3" fill="#333">3</text><text x="466.4" y="130.7" font-size="9.3" fill="#333">4</text><text x="385.8" y="148.3" font-size="9.3" fill="#333">5</text><text x="412.8" y="148.3" font-size="9.3" fill="#333">6</text><text x="441.8" y="148.3" font-size="9.3" fill="#333">7</text><text x="467.4" y="148.3" font-size="9.3" fill="#333">8</text><defs><clipPath id="mc"><rect x="7" y="421" width="485" height="137"/></clipPath></defs><g clip-path="url(#mc)"><rect x="7" y="421" width="485" height="137" fill="#e7e1cc"/><path d="M6.0,420.0 L104.0,420.0 L96.0,434.0 L88.0,448.0 L78.0,466.0 L68.0,484.0 L60.0,498.0 L50.0,514.0 L40.0,522.0 L25.0,526.0 L6.0,527.0Z" fill="#c8ddad"/><path d="M6.0,534.0 L30.0,534.0 L50.0,533.0 L62.0,535.0 L80.0,540.0 L100.0,544.0 L112.0,540.0 L113.0,525.0 L125.0,530.0 L140.0,533.0 L150.0,535.0 L150.0,545.0 L146.0,560.0 L6.0,560.0Z" fill="#c8ddad"/><path d="M150.0,420.0 L168.0,420.0 L166.0,432.0 L168.0,445.0 L176.0,455.0 L178.0,462.0 L160.0,463.0 L150.0,460.0Z" fill="#a9c98f"/><path d="M157.0,420.0 L236.0,420.0 L234.0,440.0 L232.0,456.0 L215.0,461.0 L195.0,461.0 L185.0,455.0 L178.0,449.0 L164.0,446.0 L157.0,440.0Z" fill="#c8ddad"/><path d="M205.0,548.0 C206.7,545.7 212.2,545.3 215.0,546.0 C217.8,546.7 221.2,549.7 222.0,552.0 C222.8,554.3 222.8,558.7 220.0,560.0 C217.2,561.3 207.5,562.0 205.0,560.0 C202.5,558.0 203.3,550.3 205.0,548.0Z" fill="#c8ddad"/><path d="M104.0,420.0 L115.0,420.0 L108.0,436.0 L102.0,451.0 L94.0,465.0 L86.0,478.0 L79.0,491.0 L72.0,502.0 L64.0,512.0 L56.0,518.0 L44.0,522.0 L32.0,526.0 L22.0,527.0 L26.0,522.0 L36.0,516.0 L44.0,510.0 L51.0,501.0 L58.0,491.0 L68.0,478.0 L80.0,465.0 L90.0,451.0 L96.0,436.0Z" fill="#c0bf9c"/><path d="M157.0,427.0 C158.2,425.7 161.5,431.7 164.0,434.0 C166.5,436.3 168.5,439.0 172.0,441.0 C175.5,443.0 180.3,444.7 185.0,446.0 C189.7,447.3 194.2,448.8 200.0,449.0 C205.8,449.2 214.5,448.3 220.0,447.0 C225.5,445.7 231.0,439.0 233.0,441.0 C235.0,443.0 235.0,455.5 232.0,459.0 C229.0,462.5 221.2,461.5 215.0,462.0 C208.8,462.5 200.0,463.0 195.0,462.0 C190.0,461.0 187.8,458.0 185.0,456.0 C182.2,454.0 181.5,451.5 178.0,450.0 C174.5,448.5 167.5,448.3 164.0,447.0 C160.5,445.7 158.2,445.3 157.0,442.0 C155.8,438.7 155.8,428.3 157.0,427.0Z" fill="#b9c597"/><path d="M40.0,533.0 C43.7,532.0 53.3,532.5 60.0,532.0 C66.7,531.5 73.3,530.0 80.0,530.0 C86.7,530.0 95.5,531.2 100.0,532.0 C104.5,532.8 105.8,532.7 107.0,535.0 C108.2,537.3 109.8,544.0 107.0,546.0 C104.2,548.0 96.2,547.3 90.0,547.0 C83.8,546.7 76.7,545.2 70.0,544.0 C63.3,542.8 55.3,541.0 50.0,540.0 C44.7,539.0 39.7,539.2 38.0,538.0 C36.3,536.8 36.3,534.0 40.0,533.0Z" fill="#c0bf9c"/><path d="M65.0,488.0 C68.3,485.7 78.2,486.0 80.0,488.0 C81.8,490.0 77.7,496.0 76.0,500.0 C74.3,504.0 72.0,509.0 70.0,512.0 C68.0,515.0 66.0,516.7 64.0,518.0 C62.0,519.3 59.3,520.7 58.0,520.0 C56.7,519.3 55.7,517.0 56.0,514.0 C56.3,511.0 58.5,506.3 60.0,502.0 C61.5,497.7 61.7,490.3 65.0,488.0Z" fill="#c0bf9c"/><path d="M484.0,441.0 L492.0,441.0 L492.0,449.0 L484.0,449.0Z" fill="#c0bf9c"/><path d="M115.0,420.0 L133.0,420.0 L123.0,435.0 L114.0,441.0 L113.0,460.0 L112.0,474.0 L100.0,478.0 L90.0,482.0 L80.0,486.0 L72.0,492.0 L79.0,491.0 L86.0,478.0 L94.0,465.0 L102.0,451.0 L108.0,436.0Z" fill="#7dbb77"/><path d="M146.0,420.0 L161.0,420.0 L160.0,430.0 L157.0,440.0 L152.0,444.5 L143.0,446.6 L137.4,452.2 L140.2,456.4 L150.0,457.8 L157.0,462.0 L153.0,467.6 L122.0,467.6 L122.0,460.0 L124.0,450.0 L128.0,440.0 L137.0,432.0Z" fill="#7dbb77"/><path d="M105.0,481.0 L126.5,480.0 L147.5,481.0 L162.2,486.5 L166.4,494.9 L179.0,497.0 L189.5,501.2 L191.6,507.5 L183.2,513.8 L174.8,522.2 L166.4,524.3 L158.0,522.2 L151.7,518.0 L150.0,528.0 L140.0,532.0 L120.0,530.0 L107.6,528.5 L100.0,531.0 L100.0,500.0Z" fill="#7dbb77"/><path d="M58.0,522.0 L70.0,516.0 L80.0,510.0 L92.0,508.0 L100.0,512.0 L107.0,515.0 L107.0,533.0 L100.0,532.0 L80.0,530.0 L60.0,531.0 L50.0,532.0 L45.0,530.0 L50.0,526.0Z" fill="#7dbb77"/><path d="M64.0,492.0 L72.0,488.0 L80.0,486.0 L84.0,490.0 L82.0,500.0 L76.0,506.0 L70.0,512.0 L64.0,514.0 L66.0,506.0 L68.0,498.0Z" fill="#7dbb77"/><path d="M239.0,421.0 L257.0,421.0 L255.0,441.0 L257.0,449.0 L259.0,457.0 L247.0,458.0 L245.0,449.0 L245.0,437.0 L241.0,431.0Z" fill="#7dbb77"/><path d="M405.0,420.0 L430.0,420.0 L426.0,428.0 L414.0,430.0 L406.0,428.0Z" fill="#6aae68"/><path d="M436.0,420.0 L492.0,420.0 L492.0,441.0 L484.0,441.0 L484.0,449.0 L492.0,449.0 L492.0,560.0 L488.0,560.0 L487.8,515.0 L485.4,504.0 L479.0,494.0 L474.0,479.0 L466.0,470.0 L460.5,463.0 L456.0,451.5 L448.0,446.0 L440.0,440.0 L438.0,430.0Z" fill="#86c17f"/><path d="M205.0,542.0 C207.5,538.7 216.2,539.3 220.0,540.0 C223.8,540.7 226.7,543.7 228.0,546.0 C229.3,548.3 229.0,551.7 228.0,554.0 C227.0,556.3 225.8,559.0 222.0,560.0 C218.2,561.0 207.8,563.0 205.0,560.0 C202.2,557.0 202.5,545.3 205.0,542.0Z" fill="#7dbb77"/><path d="M116.0,505.4 C117.8,502.8 123.0,500.5 126.5,499.5 C130.0,498.5 133.5,498.2 137.0,499.5 C140.5,500.8 145.1,504.4 147.5,507.5 C149.9,510.6 151.3,514.8 151.7,518.0 C152.1,521.2 151.9,525.5 150.0,527.0 C148.1,528.5 144.2,527.8 140.0,527.0 C135.8,526.2 129.0,524.0 125.0,522.0 C121.0,520.0 117.5,517.8 116.0,515.0 C114.5,512.2 114.2,508.0 116.0,505.4Z" fill="#c0bf9c"/><path d="M100.0,531.0 L108.0,528.0 L120.0,526.0 L135.0,529.0 L146.0,533.0 L150.0,540.0 L146.0,560.0 L100.0,560.0Z" fill="#c8ddad"/><path d="M476.0,420.0 L492.0,420.0 L492.0,425.5 L476.0,425.5Z" fill="#c0bf9c"/><path d="M82.0,481.0 C83.7,478.5 89.3,476.5 94.0,475.0 C98.7,473.5 105.3,472.5 110.0,472.0 C114.7,471.5 119.7,471.3 122.0,472.0 C124.3,472.7 125.7,474.8 124.0,476.0 C122.3,477.2 116.0,477.8 112.0,479.0 C108.0,480.2 103.7,481.3 100.0,483.0 C96.3,484.7 92.7,487.8 90.0,489.0 C87.3,490.2 85.3,491.3 84.0,490.0 C82.7,488.7 80.3,483.5 82.0,481.0Z" fill="#aa7aa9"/><path d="M118.0,478.0 C121.0,477.2 122.7,479.0 122.0,481.0 C121.3,483.0 116.7,486.8 114.0,490.0 C111.3,493.2 108.3,496.7 106.0,500.0 C103.7,503.3 102.2,507.7 100.0,510.0 C97.8,512.3 95.0,514.3 93.0,514.0 C91.0,513.7 87.8,510.8 88.0,508.0 C88.2,505.2 91.3,500.7 94.0,497.0 C96.7,493.3 100.0,489.2 104.0,486.0 C108.0,482.8 115.0,478.8 118.0,478.0Z" fill="#aa7aa9"/><path d="M107.0,484.0 L115.0,482.0 L121.0,485.0 L120.0,492.0 L110.0,494.0 L107.0,494.0Z" fill="#aa7aa9"/><path d="M170.0,483.0 C172.7,480.8 179.0,477.4 186.0,476.0 C193.0,474.6 204.0,475.2 212.0,474.5 C220.0,473.8 230.0,471.4 234.0,472.0 C238.0,472.6 235.0,476.2 236.0,478.0 C237.0,479.8 238.0,482.0 240.0,483.0 C242.0,484.0 245.8,483.2 248.0,484.0 C250.2,484.8 251.5,486.0 253.0,488.0 C254.5,490.0 256.7,493.8 257.0,496.0 C257.3,498.2 257.0,500.0 255.0,501.0 C253.0,502.0 248.3,501.7 245.0,502.0 C241.7,502.3 238.0,503.7 235.0,503.0 C232.0,502.3 229.5,499.7 227.0,498.0 C224.5,496.3 222.5,494.5 220.0,493.0 C217.5,491.5 216.5,489.7 212.0,489.0 C207.5,488.3 198.8,488.5 193.0,489.0 C187.2,489.5 180.8,492.0 177.0,492.0 C173.2,492.0 171.2,490.5 170.0,489.0 C168.8,487.5 167.3,485.2 170.0,483.0Z" fill="#aa7aa9"/><path d="M255.0,427.0 L271.0,423.0 L295.0,421.0 L300.0,421.0 L291.0,427.0 L275.0,430.0 L267.0,433.0 L261.0,447.0 L257.0,449.0 L255.0,441.0Z" fill="#aa7aa9"/><path d="M352.8,442.6 L364.0,446.6 L380.0,449.0 L396.0,450.6 L404.0,449.0 L406.0,440.0 L403.0,432.0 L410.0,426.0 L420.0,424.0 L430.0,422.5 L436.0,421.0 L438.0,430.0 L440.0,440.0 L448.0,446.0 L456.0,451.5 L460.5,463.0 L466.0,470.0 L474.0,479.0 L477.0,485.0 L479.0,494.0 L483.0,500.0 L485.4,509.0 L487.8,517.0 L481.0,517.0 L478.2,505.4 L478.2,494.0 L475.8,487.0 L471.0,479.0 L466.2,478.0 L457.8,479.0 L453.0,472.0 L447.0,464.0 L442.0,457.0 L436.0,458.0 L432.0,458.0 L426.0,456.0 L420.0,452.0 L414.0,449.0 L410.0,453.0 L396.0,455.0 L380.0,453.0 L364.0,451.0 L352.8,447.0Z" fill="#aa7aa9"/><path d="M428.0,458.0 C429.7,456.5 436.8,455.5 440.0,456.0 C443.2,456.5 446.8,459.0 447.0,461.0 C447.2,463.0 443.8,467.3 441.0,468.0 C438.2,468.7 432.2,466.7 430.0,465.0 C427.8,463.3 426.3,459.5 428.0,458.0Z" fill="#6ea2ce"/><path d="M441.0,508.0 C441.0,505.2 443.7,502.0 446.0,500.5 C448.3,499.0 451.8,498.8 455.0,499.0 C458.2,499.2 462.7,500.3 465.0,502.0 C467.3,503.7 468.8,506.5 469.0,509.0 C469.2,511.5 469.8,515.7 466.0,517.0 C462.2,518.3 450.2,518.5 446.0,517.0 C441.8,515.5 441.0,510.8 441.0,508.0Z" fill="#aa7aa9"/><path d="M64.0,519.0 C63.7,517.3 68.0,513.2 70.0,510.0 C72.0,506.8 74.0,503.0 76.0,500.0 C78.0,497.0 80.0,494.3 82.0,492.0 C84.0,489.7 86.0,487.7 88.0,486.0 C90.0,484.3 92.2,482.8 94.0,482.0 C95.8,481.2 98.5,480.0 99.0,481.0 C99.5,482.0 98.2,485.5 97.0,488.0 C95.8,490.5 93.8,493.0 92.0,496.0 C90.2,499.0 88.0,503.0 86.0,506.0 C84.0,509.0 82.3,511.7 80.0,514.0 C77.7,516.3 74.7,519.2 72.0,520.0 C69.3,520.8 64.3,520.7 64.0,519.0Z" fill="#d9d5c0"/><path d="M414.0,440.0 C414.7,437.5 417.7,435.7 420.0,435.0 C422.3,434.3 426.0,434.5 428.0,436.0 C430.0,437.5 431.5,441.2 432.0,444.0 C432.5,446.8 432.5,451.0 431.0,453.0 C429.5,455.0 425.5,456.5 423.0,456.0 C420.5,455.5 417.5,452.7 416.0,450.0 C414.5,447.3 413.3,442.5 414.0,440.0Z" fill="#e7e1cc"/><path d="M262.6,462.3 L271.0,458.8 L278.0,458.1 L285.0,454.6 L289.2,450.4 L292.0,450.4 L294.8,453.2 L297.6,449.0 L303.2,446.9 L308.8,447.6 L311.6,451.8 L314.4,448.3 L320.0,446.9 L331.2,442.6 L340.0,440.2 L348.0,441.0 L352.8,446.0 L364.0,451.0 L380.0,453.0 L396.0,455.0 L410.0,453.0 L414.0,449.0 L420.0,446.0 L418.0,456.0 L413.6,457.8 L407.2,460.2 L396.0,462.6 L388.0,463.4 L383.2,465.0 L372.0,461.8 L356.0,457.0 L344.0,452.0 L328.0,453.5 L315.0,459.0 L306.0,461.0 L295.0,464.5 L285.0,468.4 L278.0,469.2 L262.6,467.5Z" fill="#6ea2ce"/><path d="M330.0,445.0 L342.0,440.0 L342.0,453.0 L330.0,453.0Z" fill="#6ea2ce"/><path d="M394.0,466.0 L398.0,467.0 L397.0,480.0 L394.0,492.0 L396.0,500.0 L406.0,506.0 L418.0,508.0 L426.0,514.0 L428.0,517.0 L372.0,517.0 L378.0,512.0 L384.0,504.0 L386.0,490.0 L388.0,480.0Z" fill="#6ea2ce"/><path d="M330.0,504.0 L350.0,505.0 L352.0,517.0 L330.0,517.0Z" fill="#6ea2ce"/><path d="M244.0,506.0 L252.0,500.0 L260.0,498.0 L268.0,494.0 L276.0,498.0 L280.0,508.0 L288.0,518.0 L296.0,526.0 L300.0,532.0 L310.0,524.0 L318.0,518.0 L330.0,508.0 L340.0,505.0 L350.0,507.0 L356.0,513.0 L365.0,516.0 L372.0,516.0 L372.0,560.0 L292.0,560.0 L290.0,548.0 L286.0,538.0 L276.0,530.0 L264.0,524.0 L254.0,518.0 L244.0,514.0Z" fill="#6ea2ce"/><path d="M290.0,514.0 L298.0,516.0 L300.0,532.0 L296.0,540.0 L290.0,536.0Z" fill="#6ea2ce"/><path d="M82.0,484.0 C82.7,482.3 88.3,481.0 90.0,482.0 C91.7,483.0 92.7,488.3 92.0,490.0 C91.3,491.7 87.7,493.0 86.0,492.0 C84.3,491.0 81.3,485.7 82.0,484.0Z" fill="#6ea2ce"/><defs><filter id="hb" x="-10%" y="-10%" width="120%" height="120%"><feGaussianBlur stdDeviation="3"/></filter></defs><g filter="url(#hb)"><path d="M70.0,420.0 C76.3,417.3 100.0,416.7 104.0,420.0 C108.0,423.3 97.3,433.3 94.0,440.0 C90.7,446.7 87.7,453.3 84.0,460.0 C80.3,466.7 75.7,474.0 72.0,480.0 C68.3,486.0 65.3,491.3 62.0,496.0 C58.7,500.7 56.0,505.0 52.0,508.0 C48.0,511.0 43.3,513.3 38.0,514.0 C32.7,514.7 24.7,514.3 20.0,512.0 C15.3,509.7 11.7,504.0 10.0,500.0 C8.3,496.0 6.7,491.3 10.0,488.0 C13.3,484.7 24.2,483.3 30.0,480.0 C35.8,476.7 40.3,472.7 45.0,468.0 C49.7,463.3 54.5,457.3 58.0,452.0 C61.5,446.7 64.0,441.3 66.0,436.0 C68.0,430.7 63.7,422.7 70.0,420.0Z" fill="#b0c593" fill-opacity="0.8"/><path d="M84.0,421.0 C88.0,417.2 99.0,417.0 100.0,421.0 C101.0,425.0 93.7,436.8 90.0,445.0 C86.3,453.2 82.0,462.2 78.0,470.0 C74.0,477.8 69.7,486.0 66.0,492.0 C62.3,498.0 59.3,503.0 56.0,506.0 C52.7,509.0 46.7,512.7 46.0,510.0 C45.3,507.3 49.0,497.0 52.0,490.0 C55.0,483.0 60.0,475.7 64.0,468.0 C68.0,460.3 72.7,451.8 76.0,444.0 C79.3,436.2 80.0,424.8 84.0,421.0Z" fill="#a8bc8c" fill-opacity="0.5"/><path d="M50.0,425.0 C53.3,421.3 70.7,417.2 74.0,420.0 C77.3,422.8 72.0,435.0 70.0,442.0 C68.0,449.0 65.0,455.3 62.0,462.0 C59.0,468.7 55.7,476.0 52.0,482.0 C48.3,488.0 43.7,495.0 40.0,498.0 C36.3,501.0 30.7,503.0 30.0,500.0 C29.3,497.0 33.3,486.3 36.0,480.0 C38.7,473.7 43.0,468.3 46.0,462.0 C49.0,455.7 53.3,448.2 54.0,442.0 C54.7,435.8 46.7,428.7 50.0,425.0Z" fill="#000" fill-opacity="0.04"/><path d="M40.0,480.0 C45.0,473.3 55.0,468.3 60.0,470.0 C65.0,471.7 69.7,483.3 70.0,490.0 C70.3,496.7 65.3,505.0 62.0,510.0 C58.7,515.0 54.5,518.0 50.0,520.0 C45.5,522.0 38.3,523.7 35.0,522.0 C31.7,520.3 29.2,517.0 30.0,510.0 C30.8,503.0 35.0,486.7 40.0,480.0Z" fill="#000" fill-opacity="0.06"/><path d="M7.0,500.0 C9.2,495.7 15.3,492.0 20.0,492.0 C24.7,492.0 33.3,496.2 35.0,500.0 C36.7,503.8 33.3,511.7 30.0,515.0 C26.7,518.3 18.8,519.5 15.0,520.0 C11.2,520.5 8.3,521.3 7.0,518.0 C5.7,514.7 4.8,504.3 7.0,500.0Z" fill="#000" fill-opacity="0.04"/><path d="M40.0,536.0 C43.3,534.3 60.0,536.5 70.0,538.0 C80.0,539.5 93.3,542.7 100.0,545.0 C106.7,547.3 113.3,550.8 110.0,552.0 C106.7,553.2 90.0,552.7 80.0,552.0 C70.0,551.3 56.7,550.7 50.0,548.0 C43.3,545.3 36.7,537.7 40.0,536.0Z" fill="#000" fill-opacity="0.06"/><path d="M150.0,528.0 C154.2,524.7 166.7,528.0 175.0,530.0 C183.3,532.0 194.2,536.3 200.0,540.0 C205.8,543.7 213.3,549.3 210.0,552.0 C206.7,554.7 190.0,556.3 180.0,556.0 C170.0,555.7 155.0,554.7 150.0,550.0 C145.0,545.3 145.8,531.3 150.0,528.0Z" fill="#000" fill-opacity="0.05"/><path d="M205.0,500.0 C208.3,497.5 222.5,501.7 230.0,505.0 C237.5,508.3 245.0,514.2 250.0,520.0 C255.0,525.8 260.8,534.2 260.0,540.0 C259.2,545.8 250.8,555.0 245.0,555.0 C239.2,555.0 230.8,545.8 225.0,540.0 C219.2,534.2 213.3,526.7 210.0,520.0 C206.7,513.3 201.7,502.5 205.0,500.0Z" fill="#000" fill-opacity="0.05"/><path d="M290.0,478.0 C293.3,474.7 315.0,473.3 330.0,472.0 C345.0,470.7 370.0,468.7 380.0,470.0 C390.0,471.3 395.0,477.5 390.0,480.0 C385.0,482.5 363.3,483.0 350.0,485.0 C336.7,487.0 320.0,493.2 310.0,492.0 C300.0,490.8 286.7,481.3 290.0,478.0Z" fill="#000" fill-opacity="0.03"/><path d="M300.0,495.0 C303.3,491.7 320.0,490.0 330.0,490.0 C340.0,490.0 358.3,492.5 360.0,495.0 C361.7,497.5 348.3,502.5 340.0,505.0 C331.7,507.5 316.7,511.7 310.0,510.0 C303.3,508.3 296.7,498.3 300.0,495.0Z" fill="#000" fill-opacity="0.035"/><path d="M290.0,484.0 C295.8,480.3 315.0,479.3 330.0,478.0 C345.0,476.7 370.8,474.0 380.0,476.0 C389.2,478.0 388.3,486.0 385.0,490.0 C381.7,494.0 370.8,497.5 360.0,500.0 C349.2,502.5 330.8,505.0 320.0,505.0 C309.2,505.0 300.0,503.5 295.0,500.0 C290.0,496.5 284.2,487.7 290.0,484.0Z" fill="#000" fill-opacity="0.04"/><path d="M330.0,425.0 C336.7,423.3 368.3,425.8 380.0,428.0 C391.7,430.2 401.7,435.7 400.0,438.0 C398.3,440.3 380.0,442.0 370.0,442.0 C360.0,442.0 346.7,440.8 340.0,438.0 C333.3,435.2 323.3,426.7 330.0,425.0Z" fill="#000" fill-opacity="0.04"/><path d="M250.0,470.0 C255.0,467.0 274.2,468.7 280.0,472.0 C285.8,475.3 286.7,486.0 285.0,490.0 C283.3,494.0 275.8,496.0 270.0,496.0 C264.2,496.0 253.3,494.3 250.0,490.0 C246.7,485.7 245.0,473.0 250.0,470.0Z" fill="#000" fill-opacity="0.04"/><path d="M175.0,448.0 C177.5,447.0 191.7,451.7 200.0,452.0 C208.3,452.3 219.7,449.3 225.0,450.0 C230.3,450.7 234.5,454.3 232.0,456.0 C229.5,457.7 217.8,459.7 210.0,460.0 C202.2,460.3 190.8,460.0 185.0,458.0 C179.2,456.0 172.5,449.0 175.0,448.0Z" fill="#000" fill-opacity="0.05"/><path d="M116.0,505.0 C119.5,502.5 131.3,499.2 137.0,500.0 C142.7,500.8 147.8,505.7 150.0,510.0 C152.2,514.3 153.3,523.7 150.0,526.0 C146.7,528.3 135.7,525.8 130.0,524.0 C124.3,522.2 118.3,518.2 116.0,515.0 C113.7,511.8 112.5,507.5 116.0,505.0Z" fill="#000" fill-opacity="0.05"/><path d="M378.0,470.0 C383.8,467.5 411.3,466.7 420.0,470.0 C428.7,473.3 429.2,482.5 430.0,490.0 C430.8,497.5 430.0,513.3 425.0,515.0 C420.0,516.7 406.7,505.0 400.0,500.0 C393.3,495.0 388.7,490.0 385.0,485.0 C381.3,480.0 372.2,472.5 378.0,470.0Z" fill="#000" fill-opacity="0.03"/><path d="M7.0,421.0 C15.0,412.0 47.5,417.8 55.0,421.0 C62.5,424.2 53.8,434.3 52.0,440.0 C50.2,445.7 48.5,450.0 44.0,455.0 C39.5,460.0 31.2,466.7 25.0,470.0 C18.8,473.3 10.0,483.2 7.0,475.0 C4.0,466.8 -1.0,430.0 7.0,421.0Z" fill="#fff" fill-opacity="0.25"/></g><path d="M9.4,435.4 C9.8,438.2 9.8,446.6 11.8,452.2 C13.8,457.8 17.4,463.8 21.4,469.0 C25.4,474.2 31.4,479.7 35.8,483.4 C40.2,487.1 45.1,488.6 47.8,491.0 C50.5,493.4 51.3,496.8 52.0,498.0" fill="none" stroke="#cfd2d0" stroke-width="0.7" stroke-opacity="0.95" stroke-linecap="round" stroke-linejoin="round"/><path d="M34.6,421.0 C34.8,425.0 34.4,438.8 35.8,445.0 C37.2,451.2 40.4,456.2 43.0,458.2 C45.6,460.2 48.2,459.2 51.4,457.0 C54.6,454.8 59.2,449.4 62.2,445.0 C65.2,440.6 67.0,434.6 69.4,430.6 C71.8,426.6 75.4,422.6 76.6,421.0" fill="none" stroke="#cfd2d0" stroke-width="0.7" stroke-opacity="0.95" stroke-linecap="round" stroke-linejoin="round"/><path d="M86.2,421.0 C84.6,423.4 80.2,430.2 76.6,435.4 C73.0,440.6 68.6,447.0 64.6,452.2 C60.6,457.4 57.0,462.2 52.6,466.6 C48.2,471.0 43.4,475.4 38.2,478.6 C33.0,481.8 26.6,483.9 21.4,485.8 C16.2,487.7 9.4,489.3 7.0,490.0" fill="none" stroke="#cfd2d0" stroke-width="0.7" stroke-opacity="0.95" stroke-linecap="round" stroke-linejoin="round"/><path d="M93.4,421.0 C91.0,425.0 84.2,437.4 79.0,445.0 C73.8,452.6 67.4,460.6 62.2,466.6 C57.0,472.6 51.8,476.9 47.8,481.0 C43.8,485.1 41.5,487.8 38.2,491.0 C34.9,494.2 33.2,497.5 28.0,500.0 C22.8,502.5 10.5,505.0 7.0,506.0" fill="none" stroke="#cfd2d0" stroke-width="0.7" stroke-opacity="0.95" stroke-linecap="round" stroke-linejoin="round"/><path d="M100.6,421.0 C98.2,425.4 91.4,439.0 86.2,447.4 C81.0,455.8 74.2,464.1 69.4,471.4 C64.6,478.7 61.0,485.4 57.4,491.0 C53.8,496.6 51.7,501.5 48.0,505.0 C44.3,508.5 41.8,510.2 35.0,512.0 C28.2,513.8 11.7,515.3 7.0,516.0" fill="none" stroke="#cfd2d0" stroke-width="0.7" stroke-opacity="0.95" stroke-linecap="round" stroke-linejoin="round"/><path d="M107.8,421.0 C105.4,425.8 98.6,440.6 93.4,449.8 C88.2,459.0 81.0,469.3 76.6,476.2 C72.2,483.1 70.1,486.2 67.0,491.0 C63.9,495.8 59.5,502.7 58.0,505.0" fill="none" stroke="#cfd2d0" stroke-width="0.7" stroke-opacity="0.95" stroke-linecap="round" stroke-linejoin="round"/><path d="M20.0,421.0 C19.7,422.8 17.7,428.0 18.0,432.0 C18.3,436.0 21.3,442.8 22.0,445.0" fill="none" stroke="#cfd2d0" stroke-width="0.7" stroke-opacity="0.95" stroke-linecap="round" stroke-linejoin="round"/><path d="M7.0,540.0 C10.8,540.0 22.8,539.8 30.0,540.0 C37.2,540.2 43.3,540.0 50.0,541.0 C56.7,542.0 62.5,544.3 70.0,546.0 C77.5,547.7 88.3,549.8 95.0,551.0 C101.7,552.2 107.5,552.7 110.0,553.0" fill="none" stroke="#cfd2d0" stroke-width="0.7" stroke-opacity="0.95" stroke-linecap="round" stroke-linejoin="round"/><path d="M7.0,548.0 C12.5,548.2 29.5,548.2 40.0,549.0 C50.5,549.8 60.0,551.7 70.0,553.0 C80.0,554.3 95.0,556.3 100.0,557.0" fill="none" stroke="#cfd2d0" stroke-width="0.7" stroke-opacity="0.95" stroke-linecap="round" stroke-linejoin="round"/><path d="M300.0,480.0 C305.0,479.7 320.0,478.7 330.0,478.0 C340.0,477.3 350.0,475.7 360.0,476.0 C370.0,476.3 381.7,477.7 390.0,480.0 C398.3,482.3 406.7,488.3 410.0,490.0" fill="none" stroke="#cfd2d0" stroke-width="0.7" stroke-opacity="0.95" stroke-linecap="round" stroke-linejoin="round"/><path d="M280.0,520.0 C283.3,518.7 291.7,515.3 300.0,512.0 C308.3,508.7 320.0,502.8 330.0,500.0 C340.0,497.2 355.0,495.8 360.0,495.0" fill="none" stroke="#cfd2d0" stroke-width="0.7" stroke-opacity="0.95" stroke-linecap="round" stroke-linejoin="round"/><path d="M300.0,505.0 C305.0,503.5 318.3,498.5 330.0,496.0 C341.7,493.5 358.3,491.3 370.0,490.0 C381.7,488.7 395.0,488.3 400.0,488.0" fill="none" stroke="#cfd2d0" stroke-width="0.7" stroke-opacity="0.95" stroke-linecap="round" stroke-linejoin="round"/><path d="M180.0,540.0 C183.3,538.3 191.7,532.3 200.0,530.0 C208.3,527.7 220.0,526.3 230.0,526.0 C240.0,525.7 255.0,527.7 260.0,528.0" fill="none" stroke="#cfd2d0" stroke-width="0.7" stroke-opacity="0.95" stroke-linecap="round" stroke-linejoin="round"/><path d="M443.0,422.8 C443.9,424.6 445.7,430.5 448.4,433.4 C451.1,436.3 456.1,437.5 459.0,440.4 C461.9,443.3 463.9,446.9 466.0,451.0 C468.1,455.1 469.2,461.7 471.3,465.2 C473.4,468.7 476.3,468.4 478.4,472.2 C480.5,476.0 482.2,482.7 483.7,488.0 C485.2,493.3 486.3,499.5 487.2,504.0 C488.1,508.5 488.7,513.2 489.0,515.0" fill="none" stroke="#cfd2d0" stroke-width="0.7" stroke-opacity="0.95" stroke-linecap="round" stroke-linejoin="round"/><path d="M452.0,422.8 C452.9,424.3 454.6,429.2 457.2,431.6 C459.8,434.0 465.1,434.2 467.8,436.9 C470.5,439.5 471.3,444.3 473.1,447.5 C474.9,450.7 476.3,453.4 478.4,456.3 C480.5,459.2 483.7,461.4 485.5,465.2 C487.3,469.0 488.4,476.9 489.0,479.3" fill="none" stroke="#cfd2d0" stroke-width="0.7" stroke-opacity="0.95" stroke-linecap="round" stroke-linejoin="round"/><path d="M462.5,422.8 C464.0,424.3 468.9,428.7 471.3,431.6 C473.7,434.5 474.5,437.2 476.6,440.4 C478.7,443.6 481.6,448.1 483.7,451.0 C485.8,453.9 488.1,456.9 489.0,458.1" fill="none" stroke="#cfd2d0" stroke-width="0.7" stroke-opacity="0.95" stroke-linecap="round" stroke-linejoin="round"/><path d="M441.3,438.7 C442.2,439.6 444.0,442.5 446.6,444.0 C449.2,445.5 454.6,445.5 457.2,447.5 C459.8,449.5 460.5,452.6 462.0,456.0 C463.5,459.4 465.3,466.0 466.0,468.0" fill="none" stroke="#cfd2d0" stroke-width="0.7" stroke-opacity="0.95" stroke-linecap="round" stroke-linejoin="round"/><path d="M405.0,430.0 C406.7,431.0 411.7,435.3 415.0,436.0 C418.3,436.7 421.7,433.3 425.0,434.0 C428.3,434.7 432.5,437.3 435.0,440.0 C437.5,442.7 439.2,448.3 440.0,450.0" fill="none" stroke="#cfd2d0" stroke-width="0.7" stroke-opacity="0.95" stroke-linecap="round" stroke-linejoin="round"/><path d="M350.0,448.0 C353.3,448.6 363.3,450.6 370.0,451.5 C376.7,452.4 384.2,453.1 390.0,453.5 C395.8,453.9 402.5,453.9 405.0,454.0" fill="none" stroke="#cfd2d0" stroke-width="0.7" stroke-opacity="0.95" stroke-linecap="round" stroke-linejoin="round"/><path d="M300.0,455.0 C303.3,454.5 313.3,453.3 320.0,452.0 C326.7,450.7 334.2,447.0 340.0,447.0 C345.8,447.0 349.2,450.3 355.0,452.0 C360.8,453.7 368.3,455.8 375.0,457.0 C381.7,458.2 388.8,459.2 395.0,459.0 C401.2,458.8 409.2,456.5 412.0,456.0" fill="none" stroke="#cfd2d0" stroke-width="0.7" stroke-opacity="0.95" stroke-linecap="round" stroke-linejoin="round"/><path d="M175.0,430.0 C177.5,429.7 184.2,427.7 190.0,428.0 C195.8,428.3 203.3,431.7 210.0,432.0 C216.7,432.3 226.7,430.3 230.0,430.0" fill="none" stroke="#cfd2d0" stroke-width="0.7" stroke-opacity="0.95" stroke-linecap="round" stroke-linejoin="round"/><path d="M170.0,440.0 C173.3,439.7 183.3,437.7 190.0,438.0 C196.7,438.3 203.0,441.7 210.0,442.0 C217.0,442.3 228.3,440.3 232.0,440.0" fill="none" stroke="#cfd2d0" stroke-width="0.7" stroke-opacity="0.95" stroke-linecap="round" stroke-linejoin="round"/><path d="M265.0,452.0 C269.2,451.0 280.8,447.7 290.0,446.0 C299.2,444.3 310.0,443.7 320.0,442.0 C330.0,440.3 340.0,436.3 350.0,436.0 C360.0,435.7 370.0,438.7 380.0,440.0 C390.0,441.3 405.0,443.3 410.0,444.0" fill="none" stroke="#cfd2d0" stroke-width="0.7" stroke-opacity="0.95" stroke-linecap="round" stroke-linejoin="round"/><path d="M130.0,545.0 C132.5,544.2 140.0,540.0 145.0,540.0 C150.0,540.0 157.5,544.2 160.0,545.0" fill="none" stroke="#cfd2d0" stroke-width="0.7" stroke-opacity="0.95" stroke-linecap="round" stroke-linejoin="round"/><path d="M129.0,421.0 C128.2,424.2 125.9,433.2 124.0,440.0 C122.1,446.8 118.8,458.3 117.8,462.0" fill="none" stroke="#6a6a5a" stroke-width="0.6" stroke-opacity="0.7" stroke-linecap="round" stroke-linejoin="round"/><path d="M138.8,421.0 C137.3,424.2 132.6,434.3 130.0,440.0 C127.4,445.7 124.5,452.5 123.4,455.0" fill="none" stroke="#6a6a5a" stroke-width="0.6" stroke-opacity="0.7" stroke-linecap="round" stroke-linejoin="round"/><path d="M148.6,421.0 C148.5,424.8 150.1,438.8 148.0,443.8 C145.9,448.8 139.2,448.5 136.0,450.8 C132.8,453.1 129.0,456.3 129.0,457.8 C129.0,459.3 132.3,459.1 136.0,460.0 C139.7,460.9 146.6,462.7 151.4,463.4 C156.2,464.1 160.6,464.2 165.0,464.0 C169.4,463.8 175.8,462.3 178.0,462.0" fill="none" stroke="#6a6a5a" stroke-width="0.6" stroke-opacity="0.7" stroke-linecap="round" stroke-linejoin="round"/><path d="M160.0,421.0 C160.8,422.8 162.5,428.8 165.0,432.0 C167.5,435.2 170.8,438.0 175.0,440.0 C179.2,442.0 184.2,443.0 190.0,444.0 C195.8,445.0 203.0,446.3 210.0,446.0 C217.0,445.7 228.3,442.7 232.0,442.0" fill="none" stroke="#6a6a5a" stroke-width="0.6" stroke-opacity="0.7" stroke-linecap="round" stroke-linejoin="round"/><path d="M172.0,421.0 C173.3,422.5 176.2,427.5 180.0,430.0 C183.8,432.5 189.2,434.7 195.0,436.0 C200.8,437.3 208.5,438.3 215.0,438.0 C221.5,437.7 230.8,434.7 234.0,434.0" fill="none" stroke="#6a6a5a" stroke-width="0.6" stroke-opacity="0.7" stroke-linecap="round" stroke-linejoin="round"/><path d="M166.0,450.0 C169.2,450.8 178.5,453.7 185.0,455.0 C191.5,456.3 198.3,457.8 205.0,458.0 C211.7,458.2 219.2,456.5 225.0,456.0 C230.8,455.5 234.2,455.2 240.0,455.0 C245.8,454.8 255.0,454.8 260.0,455.0 C265.0,455.2 268.3,455.8 270.0,456.0" fill="none" stroke="#6a6a5a" stroke-width="0.6" stroke-opacity="0.7" stroke-linecap="round" stroke-linejoin="round"/><path d="M235.0,440.0 C237.5,439.5 245.0,438.2 250.0,437.0 C255.0,435.8 259.2,434.5 265.0,433.0 C270.8,431.5 279.2,429.3 285.0,428.0 C290.8,426.7 297.5,425.5 300.0,425.0" fill="none" stroke="#6a6a5a" stroke-width="0.6" stroke-opacity="0.7" stroke-linecap="round" stroke-linejoin="round"/><path d="M300.0,445.0 C303.3,444.2 313.3,441.8 320.0,440.0 C326.7,438.2 333.3,435.3 340.0,434.0 C346.7,432.7 353.3,432.7 360.0,432.0 C366.7,431.3 373.3,429.2 380.0,430.0 C386.7,430.8 396.7,435.8 400.0,437.0" fill="none" stroke="#6a6a5a" stroke-width="0.6" stroke-opacity="0.7" stroke-linecap="round" stroke-linejoin="round"/><path d="M346.0,421.0 C346.0,422.3 342.0,427.0 346.0,429.0 C350.0,431.0 362.7,431.7 370.0,433.0 C377.3,434.3 384.2,435.8 390.0,437.0 C395.8,438.2 402.5,439.5 405.0,440.0" fill="none" stroke="#6a6a5a" stroke-width="0.6" stroke-opacity="0.7" stroke-linecap="round" stroke-linejoin="round"/><path d="M330.0,428.0 C333.3,428.5 344.2,431.0 350.0,431.0 C355.8,431.0 362.5,428.5 365.0,428.0" fill="none" stroke="#6a6a5a" stroke-width="0.6" stroke-opacity="0.7" stroke-linecap="round" stroke-linejoin="round"/><path d="M250.0,476.0 C253.3,476.8 263.3,479.8 270.0,481.0 C276.7,482.2 283.3,483.0 290.0,483.0 C296.7,483.0 305.0,481.8 310.0,481.0 C315.0,480.2 316.7,479.2 320.0,478.0 C323.3,476.8 325.0,475.3 330.0,474.0 C335.0,472.7 343.3,470.8 350.0,470.0 C356.7,469.2 364.0,469.5 370.0,469.0 C376.0,468.5 383.3,467.3 386.0,467.0" fill="none" stroke="#6a6a5a" stroke-width="0.6" stroke-opacity="0.7" stroke-linecap="round" stroke-linejoin="round"/><path d="M280.0,495.0 C283.3,493.8 293.3,490.3 300.0,488.0 C306.7,485.7 315.7,482.8 320.0,481.0 C324.3,479.2 322.7,478.2 326.0,477.0 C329.3,475.8 334.3,474.0 340.0,474.0 C345.7,474.0 352.3,476.0 360.0,477.0 C367.7,478.0 379.3,480.0 386.0,480.0 C392.7,480.0 395.0,477.8 400.0,477.0 C405.0,476.2 411.0,474.8 416.0,475.0 C421.0,475.2 425.2,476.8 430.0,478.0 C434.8,479.2 442.5,481.3 445.0,482.0" fill="none" stroke="#6a6a5a" stroke-width="0.6" stroke-opacity="0.7" stroke-linecap="round" stroke-linejoin="round"/><path d="M278.0,500.0 C280.0,500.2 284.7,502.2 290.0,501.0 C295.3,499.8 303.3,496.0 310.0,493.0 C316.7,490.0 323.3,485.7 330.0,483.0 C336.7,480.3 346.7,478.0 350.0,477.0" fill="none" stroke="#6a6a5a" stroke-width="0.6" stroke-opacity="0.7" stroke-linecap="round" stroke-linejoin="round"/><path d="M350.0,514.0 C353.3,514.0 363.3,514.0 370.0,514.0 C376.7,514.0 383.3,514.3 390.0,514.0 C396.7,513.7 406.7,512.3 410.0,512.0" fill="none" stroke="#6a6a5a" stroke-width="0.6" stroke-opacity="0.7" stroke-linecap="round" stroke-linejoin="round"/><path d="M404.0,466.0 C406.3,467.0 413.7,470.7 418.0,472.0 C422.3,473.3 428.0,473.7 430.0,474.0" fill="none" stroke="#6a6a5a" stroke-width="0.6" stroke-opacity="0.7" stroke-linecap="round" stroke-linejoin="round"/><path d="M150.0,498.0 C153.3,498.3 163.3,500.0 170.0,500.0 C176.7,500.0 183.3,497.2 190.0,498.0 C196.7,498.8 203.3,502.2 210.0,505.0 C216.7,507.8 225.0,511.7 230.0,515.0 C235.0,518.3 238.3,523.3 240.0,525.0" fill="none" stroke="#6a6a5a" stroke-width="0.6" stroke-opacity="0.7" stroke-linecap="round" stroke-linejoin="round"/><path d="M160.0,515.0 C162.5,515.8 169.2,517.5 175.0,520.0 C180.8,522.5 187.5,526.7 195.0,530.0 C202.5,533.3 212.5,536.7 220.0,540.0 C227.5,543.3 236.7,548.3 240.0,550.0" fill="none" stroke="#6a6a5a" stroke-width="0.6" stroke-opacity="0.7" stroke-linecap="round" stroke-linejoin="round"/><path d="M145.0,530.0 C147.5,531.7 154.2,537.0 160.0,540.0 C165.8,543.0 173.3,546.0 180.0,548.0 C186.7,550.0 194.2,550.7 200.0,552.0 C205.8,553.3 212.5,555.3 215.0,556.0" fill="none" stroke="#6a6a5a" stroke-width="0.6" stroke-opacity="0.7" stroke-linecap="round" stroke-linejoin="round"/><path d="M195.0,500.0 C196.7,501.7 201.7,505.8 205.0,510.0 C208.3,514.2 212.2,520.3 215.0,525.0 C217.8,529.7 219.2,534.2 222.0,538.0 C224.8,541.8 230.3,546.3 232.0,548.0" fill="none" stroke="#6a6a5a" stroke-width="0.6" stroke-opacity="0.7" stroke-linecap="round" stroke-linejoin="round"/><path d="M210.0,545.0 C212.0,545.5 218.3,549.2 222.0,548.0 C225.7,546.8 231.0,541.0 232.0,538.0 C233.0,535.0 228.7,531.3 228.0,530.0" fill="none" stroke="#6a6a5a" stroke-width="0.6" stroke-opacity="0.7" stroke-linecap="round" stroke-linejoin="round"/><path d="M205.0,486.0 C207.5,487.3 215.0,490.8 220.0,494.0 C225.0,497.2 230.8,500.7 235.0,505.0 C239.2,509.3 241.7,515.0 245.0,520.0 C248.3,525.0 252.2,530.0 255.0,535.0 C257.8,540.0 260.8,547.5 262.0,550.0" fill="none" stroke="#6a6a5a" stroke-width="0.6" stroke-opacity="0.7" stroke-linecap="round" stroke-linejoin="round"/><path d="M104.0,500.0 C105.8,500.8 111.0,503.0 115.0,505.0 C119.0,507.0 123.8,509.5 128.0,512.0 C132.2,514.5 138.0,518.7 140.0,520.0" fill="none" stroke="#6a6a5a" stroke-width="0.6" stroke-opacity="0.7" stroke-linecap="round" stroke-linejoin="round"/><path d="M112.0,500.0 C113.3,501.7 118.3,506.7 120.0,510.0 C121.7,513.3 120.7,517.0 122.0,520.0 C123.3,523.0 127.0,526.7 128.0,528.0" fill="none" stroke="#6a6a5a" stroke-width="0.6" stroke-opacity="0.7" stroke-linecap="round" stroke-linejoin="round"/><path d="M40.0,533.0 C43.3,533.7 53.3,535.7 60.0,537.0 C66.7,538.3 73.3,539.7 80.0,541.0 C86.7,542.3 96.7,544.3 100.0,545.0" fill="none" stroke="#6a6a5a" stroke-width="0.6" stroke-opacity="0.7" stroke-linecap="round" stroke-linejoin="round"/><path d="M60.0,545.0 C63.3,545.7 73.3,547.7 80.0,549.0 C86.7,550.3 94.2,551.8 100.0,553.0 C105.8,554.2 112.5,555.5 115.0,556.0" fill="none" stroke="#6a6a5a" stroke-width="0.6" stroke-opacity="0.7" stroke-linecap="round" stroke-linejoin="round"/><rect x="141.7" y="470.5" width="2.1" height="0.9" fill="#7ea4e2" fill-opacity="0.85"/><rect x="145.5" y="470.7" width="1.1" height="0.9" fill="#7ea4e2" fill-opacity="0.85"/><rect x="154.1" y="472.3" width="0.9" height="0.8" fill="#7ea4e2" fill-opacity="0.85"/><rect x="116.3" y="472.5" width="1.8" height="0.6" fill="#7ea4e2" fill-opacity="0.85"/><rect x="178.8" y="473.7" width="1.7" height="1.0" fill="#7ea4e2" fill-opacity="0.85"/><rect x="121.0" y="466.1" width="1.5" height="0.6" fill="#7ea4e2" fill-opacity="0.85"/><rect x="123.3" y="467.9" width="0.8" height="0.9" fill="#7ea4e2" fill-opacity="0.85"/><rect x="140.8" y="472.7" width="1.5" height="1.0" fill="#7ea4e2" fill-opacity="0.85"/><rect x="145.0" y="471.3" width="1.4" height="0.8" fill="#7ea4e2" fill-opacity="0.85"/><rect x="179.8" y="474.0" width="2.0" height="1.0" fill="#7ea4e2" fill-opacity="0.85"/><rect x="132.1" y="467.8" width="1.2" height="0.6" fill="#7ea4e2" fill-opacity="0.85"/><rect x="163.6" y="469.2" width="2.0" height="0.8" fill="#7ea4e2" fill-opacity="0.85"/><rect x="177.1" y="472.8" width="0.8" height="0.7" fill="#7ea4e2" fill-opacity="0.85"/><rect x="173.7" y="469.8" width="2.2" height="0.8" fill="#7ea4e2" fill-opacity="0.85"/><rect x="115.1" y="471.0" width="1.9" height="0.8" fill="#7ea4e2" fill-opacity="0.85"/><rect x="116.1" y="468.7" width="2.1" height="1.1" fill="#7ea4e2" fill-opacity="0.85"/><rect x="118.3" y="468.0" width="0.9" height="0.6" fill="#7ea4e2" fill-opacity="0.85"/><rect x="165.8" y="467.4" width="1.6" height="0.9" fill="#7ea4e2" fill-opacity="0.85"/><rect x="123.3" y="471.9" width="1.0" height="1.0" fill="#7ea4e2" fill-opacity="0.85"/><rect x="118.2" y="469.4" width="1.1" height="0.8" fill="#7ea4e2" fill-opacity="0.85"/><rect x="178.0" y="472.4" width="1.2" height="1.1" fill="#7ea4e2" fill-opacity="0.85"/><rect x="124.7" y="469.2" width="2.0" height="1.0" fill="#7ea4e2" fill-opacity="0.85"/><rect x="117.0" y="473.9" width="1.1" height="0.8" fill="#7ea4e2" fill-opacity="0.85"/><rect x="164.1" y="468.6" width="1.2" height="0.6" fill="#7ea4e2" fill-opacity="0.85"/><rect x="116.3" y="470.7" width="1.1" height="1.0" fill="#7ea4e2" fill-opacity="0.85"/><rect x="136.0" y="469.6" width="2.1" height="0.9" fill="#7ea4e2" fill-opacity="0.85"/><rect x="150.2" y="472.9" width="1.1" height="0.7" fill="#7ea4e2" fill-opacity="0.85"/><rect x="173.6" y="472.5" width="1.1" height="0.7" fill="#7ea4e2" fill-opacity="0.85"/><rect x="161.8" y="473.5" width="1.1" height="1.2" fill="#7ea4e2" fill-opacity="0.85"/><rect x="171.8" y="470.8" width="1.4" height="0.7" fill="#7ea4e2" fill-opacity="0.85"/><rect x="112.7" y="473.7" width="1.1" height="1.0" fill="#7ea4e2" fill-opacity="0.85"/><rect x="128.0" y="472.6" width="1.6" height="0.8" fill="#7ea4e2" fill-opacity="0.85"/><rect x="122.3" y="471.8" width="0.9" height="0.7" fill="#7ea4e2" fill-opacity="0.85"/><rect x="149.2" y="472.8" width="1.7" height="0.8" fill="#7ea4e2" fill-opacity="0.85"/><rect x="174.2" y="467.6" width="0.8" height="0.8" fill="#7ea4e2" fill-opacity="0.85"/><rect x="141.2" y="466.5" width="1.0" height="0.8" fill="#7ea4e2" fill-opacity="0.85"/><rect x="150.1" y="467.1" width="1.3" height="1.1" fill="#7ea4e2" fill-opacity="0.85"/><rect x="178.6" y="471.3" width="1.8" height="1.0" fill="#7ea4e2" fill-opacity="0.85"/><rect x="119.8" y="466.3" width="0.8" height="1.1" fill="#7ea4e2" fill-opacity="0.85"/><rect x="159.1" y="473.7" width="0.8" height="1.0" fill="#7ea4e2" fill-opacity="0.85"/><rect x="143.8" y="471.8" width="1.2" height="1.2" fill="#7ea4e2" fill-opacity="0.85"/><rect x="115.3" y="470.4" width="1.8" height="1.1" fill="#7ea4e2" fill-opacity="0.85"/><rect x="161.6" y="471.6" width="1.9" height="1.1" fill="#7ea4e2" fill-opacity="0.85"/><rect x="134.6" y="471.5" width="2.1" height="1.1" fill="#7ea4e2" fill-opacity="0.85"/><rect x="139.2" y="472.3" width="2.0" height="0.9" fill="#7ea4e2" fill-opacity="0.85"/><rect x="153.7" y="469.1" width="1.6" height="1.0" fill="#7ea4e2" fill-opacity="0.85"/><rect x="115.6" y="471.1" width="2.2" height="1.1" fill="#7ea4e2" fill-opacity="0.85"/><rect x="161.0" y="469.1" width="1.8" height="0.9" fill="#7ea4e2" fill-opacity="0.85"/><rect x="140.8" y="472.7" width="0.9" height="1.1" fill="#7ea4e2" fill-opacity="0.85"/><rect x="112.1" y="470.8" width="1.5" height="0.7" fill="#7ea4e2" fill-opacity="0.85"/><rect x="158.9" y="470.0" width="1.7" height="1.2" fill="#7ea4e2" fill-opacity="0.85"/><rect x="127.9" y="466.1" width="1.2" height="1.0" fill="#7ea4e2" fill-opacity="0.85"/><rect x="124.2" y="467.4" width="2.1" height="1.0" fill="#7ea4e2" fill-opacity="0.85"/><rect x="140.9" y="473.1" width="1.3" height="1.0" fill="#7ea4e2" fill-opacity="0.85"/><rect x="123.9" y="469.4" width="1.9" height="1.1" fill="#7ea4e2" fill-opacity="0.85"/><rect x="171.6" y="469.1" width="1.6" height="0.8" fill="#7ea4e2" fill-opacity="0.85"/><rect x="119.5" y="470.0" width="2.0" height="1.1" fill="#7ea4e2" fill-opacity="0.85"/><rect x="159.8" y="473.6" width="1.2" height="0.7" fill="#7ea4e2" fill-opacity="0.85"/><rect x="141.5" y="468.2" width="1.1" height="0.8" fill="#7ea4e2" fill-opacity="0.85"/><rect x="153.8" y="470.0" width="1.2" height="1.1" fill="#7ea4e2" fill-opacity="0.85"/><rect x="181.2" y="453.2" width="0.9" height="0.6" fill="#7ea4e2" fill-opacity="0.85"/><rect x="176.4" y="446.7" width="1.8" height="0.9" fill="#7ea4e2" fill-opacity="0.85"/><rect x="151.6" y="458.7" width="0.8" height="0.7" fill="#7ea4e2" fill-opacity="0.85"/><rect x="158.0" y="446.4" width="2.0" height="0.7" fill="#7ea4e2" fill-opacity="0.85"/><rect x="144.2" y="446.8" width="1.7" height="0.9" fill="#7ea4e2" fill-opacity="0.85"/><rect x="165.7" y="456.5" width="1.9" height="1.2" fill="#7ea4e2" fill-opacity="0.85"/><rect x="168.1" y="449.2" width="1.5" height="0.7" fill="#7ea4e2" fill-opacity="0.85"/><rect x="138.5" y="453.6" width="1.8" height="0.7" fill="#7ea4e2" fill-opacity="0.85"/><rect x="150.0" y="451.5" width="1.8" height="0.9" fill="#7ea4e2" fill-opacity="0.85"/><rect x="165.0" y="458.1" width="1.4" height="1.1" fill="#7ea4e2" fill-opacity="0.85"/><rect x="177.9" y="447.4" width="2.1" height="1.0" fill="#7ea4e2" fill-opacity="0.85"/><rect x="143.7" y="453.3" width="1.7" height="1.1" fill="#7ea4e2" fill-opacity="0.85"/><rect x="154.6" y="455.1" width="2.0" height="1.1" fill="#7ea4e2" fill-opacity="0.85"/><rect x="179.5" y="453.4" width="1.7" height="0.7" fill="#7ea4e2" fill-opacity="0.85"/><rect x="169.8" y="459.1" width="1.7" height="1.0" fill="#7ea4e2" fill-opacity="0.85"/><rect x="147.4" y="460.4" width="2.2" height="1.2" fill="#7ea4e2" fill-opacity="0.85"/><rect x="161.6" y="458.7" width="1.2" height="1.1" fill="#7ea4e2" fill-opacity="0.85"/><rect x="175.7" y="451.6" width="0.9" height="0.9" fill="#7ea4e2" fill-opacity="0.85"/><rect x="162.2" y="458.3" width="1.5" height="0.6" fill="#7ea4e2" fill-opacity="0.85"/><rect x="173.6" y="447.0" width="1.9" height="0.7" fill="#7ea4e2" fill-opacity="0.85"/><rect x="152.7" y="458.6" width="1.0" height="0.7" fill="#7ea4e2" fill-opacity="0.85"/><rect x="160.7" y="457.6" width="2.0" height="1.0" fill="#7ea4e2" fill-opacity="0.85"/><rect x="179.6" y="453.9" width="2.1" height="0.7" fill="#7ea4e2" fill-opacity="0.85"/><rect x="147.7" y="454.4" width="1.2" height="1.0" fill="#7ea4e2" fill-opacity="0.85"/><rect x="166.1" y="454.4" width="2.0" height="0.9" fill="#7ea4e2" fill-opacity="0.85"/><rect x="151.7" y="452.1" width="2.0" height="1.1" fill="#7ea4e2" fill-opacity="0.85"/><rect x="147.2" y="459.6" width="2.2" height="0.9" fill="#7ea4e2" fill-opacity="0.85"/><rect x="163.2" y="449.2" width="1.6" height="0.9" fill="#7ea4e2" fill-opacity="0.85"/><rect x="164.6" y="446.4" width="2.2" height="0.9" fill="#7ea4e2" fill-opacity="0.85"/><rect x="155.6" y="458.8" width="1.6" height="0.9" fill="#7ea4e2" fill-opacity="0.85"/><rect x="168.4" y="447.1" width="1.6" height="0.8" fill="#7ea4e2" fill-opacity="0.85"/><rect x="180.1" y="460.8" width="1.2" height="0.9" fill="#7ea4e2" fill-opacity="0.85"/><rect x="143.6" y="452.9" width="1.9" height="1.1" fill="#7ea4e2" fill-opacity="0.85"/><rect x="159.0" y="451.1" width="1.1" height="1.0" fill="#7ea4e2" fill-opacity="0.85"/><rect x="178.7" y="448.1" width="1.9" height="0.6" fill="#7ea4e2" fill-opacity="0.85"/><rect x="146.5" y="449.6" width="1.8" height="0.8" fill="#7ea4e2" fill-opacity="0.85"/><rect x="153.6" y="455.9" width="0.9" height="1.0" fill="#7ea4e2" fill-opacity="0.85"/><rect x="143.4" y="454.2" width="1.2" height="0.7" fill="#7ea4e2" fill-opacity="0.85"/><rect x="161.3" y="453.0" width="1.3" height="0.8" fill="#7ea4e2" fill-opacity="0.85"/><rect x="161.3" y="448.6" width="1.1" height="1.0" fill="#7ea4e2" fill-opacity="0.85"/><rect x="166.1" y="454.5" width="2.0" height="1.0" fill="#7ea4e2" fill-opacity="0.85"/><rect x="175.7" y="449.7" width="1.8" height="1.1" fill="#7ea4e2" fill-opacity="0.85"/><rect x="177.7" y="451.1" width="1.2" height="1.2" fill="#7ea4e2" fill-opacity="0.85"/><rect x="147.6" y="462.0" width="2.0" height="0.7" fill="#7ea4e2" fill-opacity="0.85"/><rect x="148.5" y="457.6" width="1.2" height="0.7" fill="#7ea4e2" fill-opacity="0.85"/><rect x="244.9" y="517.8" width="1.9" height="0.7" fill="#7ea4e2" fill-opacity="0.85"/><rect x="219.2" y="530.2" width="0.8" height="0.7" fill="#7ea4e2" fill-opacity="0.85"/><rect x="235.9" y="540.8" width="2.2" height="0.7" fill="#7ea4e2" fill-opacity="0.85"/><rect x="225.3" y="533.6" width="1.5" height="1.0" fill="#7ea4e2" fill-opacity="0.85"/><rect x="206.3" y="501.3" width="0.9" height="0.6" fill="#7ea4e2" fill-opacity="0.85"/><rect x="228.1" y="522.2" width="1.6" height="0.7" fill="#7ea4e2" fill-opacity="0.85"/><rect x="206.1" y="507.6" width="2.0" height="1.2" fill="#7ea4e2" fill-opacity="0.85"/><rect x="250.6" y="502.5" width="0.9" height="1.2" fill="#7ea4e2" fill-opacity="0.85"/><rect x="222.7" y="533.9" width="1.3" height="0.9" fill="#7ea4e2" fill-opacity="0.85"/><rect x="225.9" y="518.2" width="1.6" height="0.6" fill="#7ea4e2" fill-opacity="0.85"/><rect x="237.1" y="537.7" width="1.1" height="0.9" fill="#7ea4e2" fill-opacity="0.85"/><rect x="239.4" y="517.0" width="1.1" height="0.7" fill="#7ea4e2" fill-opacity="0.85"/><rect x="225.8" y="498.7" width="2.1" height="1.1" fill="#7ea4e2" fill-opacity="0.85"/><rect x="237.3" y="538.5" width="1.7" height="0.8" fill="#7ea4e2" fill-opacity="0.85"/><rect x="231.0" y="521.7" width="2.2" height="1.1" fill="#7ea4e2" fill-opacity="0.85"/><rect x="210.5" y="540.8" width="1.8" height="1.1" fill="#7ea4e2" fill-opacity="0.85"/><rect x="243.9" y="517.1" width="2.1" height="1.1" fill="#7ea4e2" fill-opacity="0.85"/><rect x="236.7" y="534.1" width="1.9" height="0.8" fill="#7ea4e2" fill-opacity="0.85"/><rect x="238.4" y="501.3" width="1.3" height="0.9" fill="#7ea4e2" fill-opacity="0.85"/><rect x="195.6" y="514.7" width="1.7" height="1.0" fill="#7ea4e2" fill-opacity="0.85"/><rect x="208.9" y="542.4" width="1.7" height="0.8" fill="#7ea4e2" fill-opacity="0.85"/><rect x="234.6" y="524.8" width="1.5" height="0.8" fill="#7ea4e2" fill-opacity="0.85"/><rect x="255.0" y="528.2" width="1.8" height="1.1" fill="#7ea4e2" fill-opacity="0.85"/><rect x="253.8" y="499.1" width="1.7" height="1.0" fill="#7ea4e2" fill-opacity="0.85"/><rect x="210.4" y="516.9" width="0.9" height="0.7" fill="#7ea4e2" fill-opacity="0.85"/><rect x="217.5" y="502.6" width="1.2" height="1.1" fill="#7ea4e2" fill-opacity="0.85"/><rect x="228.0" y="521.9" width="2.2" height="0.9" fill="#7ea4e2" fill-opacity="0.85"/><rect x="254.7" y="528.0" width="1.9" height="0.6" fill="#7ea4e2" fill-opacity="0.85"/><rect x="230.9" y="533.7" width="0.9" height="1.2" fill="#7ea4e2" fill-opacity="0.85"/><rect x="204.6" y="520.2" width="1.0" height="0.9" fill="#7ea4e2" fill-opacity="0.85"/><rect x="231.7" y="500.8" width="2.1" height="0.9" fill="#7ea4e2" fill-opacity="0.85"/><rect x="226.6" y="526.1" width="1.3" height="0.8" fill="#7ea4e2" fill-opacity="0.85"/><rect x="234.3" y="524.4" width="1.2" height="1.0" fill="#7ea4e2" fill-opacity="0.85"/><rect x="212.8" y="498.7" width="1.1" height="0.6" fill="#7ea4e2" fill-opacity="0.85"/><rect x="204.4" y="533.5" width="1.3" height="1.1" fill="#7ea4e2" fill-opacity="0.85"/><rect x="239.9" y="500.4" width="2.2" height="1.2" fill="#7ea4e2" fill-opacity="0.85"/><rect x="199.4" y="540.6" width="1.4" height="0.9" fill="#7ea4e2" fill-opacity="0.85"/><rect x="253.4" y="509.5" width="1.5" height="1.2" fill="#7ea4e2" fill-opacity="0.85"/><rect x="238.4" y="520.0" width="2.2" height="1.1" fill="#7ea4e2" fill-opacity="0.85"/><rect x="231.2" y="503.4" width="1.7" height="0.9" fill="#7ea4e2" fill-opacity="0.85"/><rect x="207.2" y="500.4" width="1.5" height="0.7" fill="#7ea4e2" fill-opacity="0.85"/><rect x="221.6" y="529.4" width="1.4" height="0.8" fill="#7ea4e2" fill-opacity="0.85"/><rect x="229.9" y="517.7" width="1.9" height="0.9" fill="#7ea4e2" fill-opacity="0.85"/><rect x="254.9" y="542.8" width="1.8" height="0.7" fill="#7ea4e2" fill-opacity="0.85"/><rect x="201.8" y="540.0" width="1.9" height="1.0" fill="#7ea4e2" fill-opacity="0.85"/><rect x="216.6" y="510.8" width="1.8" height="0.9" fill="#7ea4e2" fill-opacity="0.85"/><rect x="230.5" y="527.8" width="1.9" height="0.7" fill="#7ea4e2" fill-opacity="0.85"/><rect x="209.9" y="544.0" width="2.1" height="1.1" fill="#7ea4e2" fill-opacity="0.85"/><rect x="211.3" y="518.0" width="1.7" height="0.7" fill="#7ea4e2" fill-opacity="0.85"/><rect x="227.5" y="501.4" width="0.9" height="1.0" fill="#7ea4e2" fill-opacity="0.85"/><rect x="228.0" y="527.7" width="1.3" height="0.9" fill="#7ea4e2" fill-opacity="0.85"/><rect x="207.6" y="514.2" width="1.8" height="1.1" fill="#7ea4e2" fill-opacity="0.85"/><rect x="199.5" y="503.6" width="1.9" height="1.0" fill="#7ea4e2" fill-opacity="0.85"/><rect x="241.1" y="508.0" width="1.4" height="0.8" fill="#7ea4e2" fill-opacity="0.85"/><rect x="243.6" y="515.3" width="1.7" height="1.2" fill="#7ea4e2" fill-opacity="0.85"/><rect x="214.5" y="523.8" width="1.8" height="1.2" fill="#7ea4e2" fill-opacity="0.85"/><rect x="220.7" y="515.4" width="0.9" height="1.1" fill="#7ea4e2" fill-opacity="0.85"/><rect x="228.9" y="520.8" width="1.8" height="0.8" fill="#7ea4e2" fill-opacity="0.85"/><rect x="241.5" y="501.6" width="1.1" height="1.0" fill="#7ea4e2" fill-opacity="0.85"/><rect x="199.9" y="512.3" width="1.8" height="1.0" fill="#7ea4e2" fill-opacity="0.85"/><rect x="212.0" y="504.7" width="1.3" height="1.0" fill="#7ea4e2" fill-opacity="0.85"/><rect x="217.0" y="503.5" width="1.8" height="0.9" fill="#7ea4e2" fill-opacity="0.85"/><rect x="250.1" y="542.2" width="2.1" height="0.9" fill="#7ea4e2" fill-opacity="0.85"/><rect x="243.2" y="512.3" width="1.2" height="0.8" fill="#7ea4e2" fill-opacity="0.85"/><rect x="251.1" y="540.1" width="1.1" height="0.8" fill="#7ea4e2" fill-opacity="0.85"/><rect x="216.9" y="515.1" width="1.4" height="0.8" fill="#7ea4e2" fill-opacity="0.85"/><rect x="206.7" y="524.5" width="1.9" height="0.9" fill="#7ea4e2" fill-opacity="0.85"/><rect x="245.2" y="524.5" width="1.0" height="1.1" fill="#7ea4e2" fill-opacity="0.85"/><rect x="247.9" y="511.2" width="0.8" height="0.9" fill="#7ea4e2" fill-opacity="0.85"/><rect x="227.6" y="524.7" width="2.2" height="1.0" fill="#7ea4e2" fill-opacity="0.85"/><rect x="243.3" y="501.0" width="1.6" height="1.1" fill="#7ea4e2" fill-opacity="0.85"/><rect x="239.2" y="540.3" width="0.9" height="1.0" fill="#7ea4e2" fill-opacity="0.85"/><rect x="203.6" y="533.1" width="1.7" height="0.7" fill="#7ea4e2" fill-opacity="0.85"/><rect x="208.2" y="534.0" width="1.5" height="1.1" fill="#7ea4e2" fill-opacity="0.85"/><rect x="218.7" y="513.9" width="2.2" height="1.0" fill="#7ea4e2" fill-opacity="0.85"/><rect x="224.6" y="523.3" width="1.8" height="1.0" fill="#7ea4e2" fill-opacity="0.85"/><rect x="249.9" y="517.3" width="2.0" height="1.0" fill="#7ea4e2" fill-opacity="0.85"/><rect x="246.2" y="535.9" width="2.0" height="1.1" fill="#7ea4e2" fill-opacity="0.85"/><rect x="252.5" y="528.1" width="1.5" height="1.0" fill="#7ea4e2" fill-opacity="0.85"/><rect x="243.1" y="517.8" width="1.4" height="0.7" fill="#7ea4e2" fill-opacity="0.85"/><rect x="239.5" y="544.6" width="1.3" height="0.7" fill="#7ea4e2" fill-opacity="0.85"/><rect x="207.3" y="518.0" width="1.2" height="1.2" fill="#7ea4e2" fill-opacity="0.85"/><rect x="198.6" y="512.5" width="1.0" height="1.0" fill="#7ea4e2" fill-opacity="0.85"/><rect x="241.6" y="506.4" width="0.9" height="0.9" fill="#7ea4e2" fill-opacity="0.85"/><rect x="230.0" y="540.7" width="0.9" height="0.7" fill="#7ea4e2" fill-opacity="0.85"/><rect x="206.1" y="508.2" width="1.1" height="1.0" fill="#7ea4e2" fill-opacity="0.85"/><rect x="230.7" y="508.5" width="1.1" height="0.8" fill="#7ea4e2" fill-opacity="0.85"/><rect x="205.4" y="533.6" width="1.2" height="0.9" fill="#7ea4e2" fill-opacity="0.85"/><rect x="244.0" y="520.5" width="1.2" height="1.1" fill="#7ea4e2" fill-opacity="0.85"/><rect x="249.9" y="514.1" width="1.6" height="1.2" fill="#7ea4e2" fill-opacity="0.85"/><rect x="224.0" y="508.4" width="0.9" height="1.2" fill="#7ea4e2" fill-opacity="0.85"/><rect x="243.1" y="516.1" width="1.5" height="0.9" fill="#7ea4e2" fill-opacity="0.85"/><rect x="211.5" y="544.5" width="1.7" height="0.7" fill="#7ea4e2" fill-opacity="0.85"/><rect x="195.7" y="520.2" width="1.3" height="1.1" fill="#7ea4e2" fill-opacity="0.85"/><rect x="237.8" y="526.5" width="1.0" height="0.7" fill="#7ea4e2" fill-opacity="0.85"/><rect x="214.3" y="510.2" width="2.0" height="0.9" fill="#7ea4e2" fill-opacity="0.85"/><rect x="233.2" y="544.7" width="1.2" height="0.9" fill="#7ea4e2" fill-opacity="0.85"/><rect x="204.0" y="534.2" width="0.8" height="1.1" fill="#7ea4e2" fill-opacity="0.85"/><rect x="245.8" y="536.6" width="0.9" height="0.8" fill="#7ea4e2" fill-opacity="0.85"/><rect x="238.0" y="502.6" width="1.5" height="0.9" fill="#7ea4e2" fill-opacity="0.85"/><rect x="252.3" y="525.6" width="2.0" height="0.8" fill="#7ea4e2" fill-opacity="0.85"/><rect x="242.4" y="517.6" width="2.1" height="0.7" fill="#7ea4e2" fill-opacity="0.85"/><rect x="244.6" y="507.8" width="1.6" height="0.9" fill="#7ea4e2" fill-opacity="0.85"/><rect x="204.5" y="537.1" width="1.2" height="0.8" fill="#7ea4e2" fill-opacity="0.85"/><rect x="199.6" y="512.4" width="1.5" height="1.0" fill="#7ea4e2" fill-opacity="0.85"/><rect x="216.6" y="530.3" width="0.9" height="0.8" fill="#7ea4e2" fill-opacity="0.85"/><rect x="222.7" y="543.4" width="2.0" height="1.0" fill="#7ea4e2" fill-opacity="0.85"/><rect x="228.4" y="473.0" width="1.8" height="0.7" fill="#7ea4e2" fill-opacity="0.85"/><rect x="247.2" y="473.7" width="0.8" height="1.2" fill="#7ea4e2" fill-opacity="0.85"/><rect x="255.2" y="471.7" width="1.7" height="0.8" fill="#7ea4e2" fill-opacity="0.85"/><rect x="240.8" y="474.3" width="1.2" height="0.8" fill="#7ea4e2" fill-opacity="0.85"/><rect x="241.3" y="475.3" width="1.2" height="0.7" fill="#7ea4e2" fill-opacity="0.85"/><rect x="252.9" y="472.6" width="2.1" height="0.9" fill="#7ea4e2" fill-opacity="0.85"/><rect x="252.6" y="472.7" width="2.0" height="0.7" fill="#7ea4e2" fill-opacity="0.85"/><rect x="232.8" y="470.8" width="1.7" height="1.0" fill="#7ea4e2" fill-opacity="0.85"/><rect x="234.1" y="473.2" width="2.0" height="1.0" fill="#7ea4e2" fill-opacity="0.85"/><rect x="231.1" y="471.8" width="1.0" height="0.7" fill="#7ea4e2" fill-opacity="0.85"/><rect x="241.8" y="470.6" width="2.1" height="0.9" fill="#7ea4e2" fill-opacity="0.85"/><rect x="245.4" y="475.2" width="1.9" height="1.1" fill="#7ea4e2" fill-opacity="0.85"/><rect x="241.1" y="472.7" width="1.4" height="0.6" fill="#7ea4e2" fill-opacity="0.85"/><rect x="241.6" y="475.6" width="2.2" height="1.1" fill="#7ea4e2" fill-opacity="0.85"/><rect x="250.4" y="474.9" width="0.8" height="0.8" fill="#7ea4e2" fill-opacity="0.85"/><rect x="239.6" y="475.2" width="0.9" height="0.8" fill="#7ea4e2" fill-opacity="0.85"/><rect x="245.3" y="476.3" width="2.0" height="1.0" fill="#7ea4e2" fill-opacity="0.85"/><rect x="233.4" y="476.1" width="2.1" height="0.9" fill="#7ea4e2" fill-opacity="0.85"/><rect x="240.0" y="474.0" width="1.0" height="1.0" fill="#7ea4e2" fill-opacity="0.85"/><rect x="261.6" y="474.1" width="1.8" height="1.1" fill="#7ea4e2" fill-opacity="0.85"/><rect x="305.9" y="431.5" width="1.7" height="0.7" fill="#7ea4e2" fill-opacity="0.85"/><rect x="302.5" y="425.2" width="1.6" height="1.0" fill="#7ea4e2" fill-opacity="0.85"/><rect x="309.9" y="431.4" width="1.3" height="0.9" fill="#7ea4e2" fill-opacity="0.85"/><rect x="303.7" y="431.8" width="1.0" height="1.1" fill="#7ea4e2" fill-opacity="0.85"/><rect x="316.3" y="428.0" width="1.6" height="0.8" fill="#7ea4e2" fill-opacity="0.85"/><rect x="327.3" y="431.9" width="1.9" height="1.0" fill="#7ea4e2" fill-opacity="0.85"/><rect x="303.7" y="430.4" width="1.2" height="1.1" fill="#7ea4e2" fill-opacity="0.85"/><rect x="307.2" y="428.2" width="2.0" height="0.7" fill="#7ea4e2" fill-opacity="0.85"/><rect x="316.4" y="423.7" width="0.8" height="0.7" fill="#7ea4e2" fill-opacity="0.85"/><rect x="329.6" y="431.5" width="1.7" height="0.8" fill="#7ea4e2" fill-opacity="0.85"/><rect x="320.1" y="429.6" width="1.3" height="1.0" fill="#7ea4e2" fill-opacity="0.85"/><rect x="324.1" y="423.1" width="1.1" height="0.9" fill="#7ea4e2" fill-opacity="0.85"/><rect x="414.3" y="430.9" width="1.6" height="0.7" fill="#7ea4e2" fill-opacity="0.85"/><rect x="425.6" y="429.6" width="1.6" height="0.8" fill="#7ea4e2" fill-opacity="0.85"/><rect x="429.3" y="427.4" width="1.7" height="0.7" fill="#7ea4e2" fill-opacity="0.85"/><rect x="438.8" y="433.0" width="1.5" height="0.8" fill="#7ea4e2" fill-opacity="0.85"/><rect x="428.7" y="433.9" width="1.9" height="1.1" fill="#7ea4e2" fill-opacity="0.85"/><rect x="424.6" y="436.9" width="2.0" height="1.1" fill="#7ea4e2" fill-opacity="0.85"/><rect x="422.3" y="431.3" width="1.6" height="1.1" fill="#7ea4e2" fill-opacity="0.85"/><rect x="425.8" y="432.3" width="1.4" height="1.1" fill="#7ea4e2" fill-opacity="0.85"/><rect x="419.6" y="427.5" width="1.8" height="1.1" fill="#7ea4e2" fill-opacity="0.85"/><rect x="432.0" y="433.0" width="1.9" height="0.8" fill="#7ea4e2" fill-opacity="0.85"/><rect x="183.7" y="484.8" width="1.0" height="0.9" fill="#7ea4e2" fill-opacity="0.85"/><rect x="180.1" y="488.4" width="0.9" height="1.0" fill="#7ea4e2" fill-opacity="0.85"/><rect x="181.0" y="486.6" width="1.2" height="0.8" fill="#7ea4e2" fill-opacity="0.85"/><rect x="169.4" y="484.8" width="2.1" height="1.2" fill="#7ea4e2" fill-opacity="0.85"/><rect x="186.6" y="493.5" width="1.4" height="1.1" fill="#7ea4e2" fill-opacity="0.85"/><rect x="168.9" y="492.2" width="1.6" height="1.1" fill="#7ea4e2" fill-opacity="0.85"/><rect x="163.9" y="492.7" width="1.0" height="0.9" fill="#7ea4e2" fill-opacity="0.85"/><rect x="198.0" y="484.0" width="1.1" height="0.8" fill="#7ea4e2" fill-opacity="0.85"/><rect x="173.0" y="484.7" width="2.1" height="1.1" fill="#7ea4e2" fill-opacity="0.85"/><rect x="175.9" y="487.9" width="1.6" height="0.6" fill="#7ea4e2" fill-opacity="0.85"/><rect x="161.2" y="493.9" width="1.2" height="0.9" fill="#7ea4e2" fill-opacity="0.85"/><rect x="197.4" y="494.8" width="1.5" height="0.7" fill="#7ea4e2" fill-opacity="0.85"/><rect x="171.8" y="494.1" width="2.1" height="0.7" fill="#7ea4e2" fill-opacity="0.85"/><rect x="193.5" y="487.9" width="1.5" height="0.7" fill="#7ea4e2" fill-opacity="0.85"/><rect x="195.2" y="494.9" width="1.1" height="1.0" fill="#7ea4e2" fill-opacity="0.85"/><text transform="translate(62,436.6) rotate(-62)" font-size="4.2" fill="#3a3a30" text-anchor="middle">1300</text><text transform="translate(70.6,443.8) rotate(-62)" font-size="4.2" fill="#3a3a30" text-anchor="middle">1200</text><text transform="translate(79,449.8) rotate(-62)" font-size="4.2" fill="#3a3a30" text-anchor="middle">1100</text><text transform="translate(86.2,457) rotate(-62)" font-size="4.2" fill="#3a3a30" text-anchor="middle">1000</text><text transform="translate(91.5,465.4) rotate(-62)" font-size="4.2" fill="#3a3a30" text-anchor="middle">900</text><text transform="translate(95,472.6) rotate(-62)" font-size="4.2" fill="#3a3a30" text-anchor="middle">800</text><text transform="translate(98.5,478.6) rotate(-62)" font-size="4.2" fill="#3a3a30" text-anchor="middle">700</text><text transform="translate(335,481) rotate(8)" font-size="4.2" fill="#3a3a30" text-anchor="middle">1100</text><text transform="translate(350,492) rotate(8)" font-size="4.2" fill="#3a3a30" text-anchor="middle">1200</text><text transform="translate(364,505) rotate(15)" font-size="4.2" fill="#3a3a30" text-anchor="middle">1300</text><text transform="translate(275,467) rotate(-10)" font-size="4.2" fill="#3a3a30" text-anchor="middle">900</text><text transform="translate(293,455) rotate(-10)" font-size="4.2" fill="#3a3a30" text-anchor="middle">1000</text><text transform="translate(255,534) rotate(-20)" font-size="4.2" fill="#3a3a30" text-anchor="middle">1000</text><text transform="translate(233,556) rotate(-10)" font-size="4.2" fill="#3a3a30" text-anchor="middle">1100</text><text transform="translate(150,524) rotate(-30)" font-size="4.2" fill="#3a3a30" text-anchor="middle">1000</text><text transform="translate(132,550) rotate(-10)" font-size="4.2" fill="#3a3a30" text-anchor="middle">1100</text><text transform="translate(302,496) rotate(-10)" font-size="4.2" fill="#3a3a30" text-anchor="middle">1100</text><text transform="translate(272,512) rotate(-30)" font-size="4.2" fill="#3a3a30" text-anchor="middle">1000</text><path d="M7.0,528.5 C10.8,528.5 22.8,528.8 30.0,528.5 C37.2,528.2 44.7,527.9 50.0,527.0 C55.3,526.1 58.3,524.8 62.0,523.0 C65.7,521.2 69.0,518.5 72.0,516.0 C75.0,513.5 77.7,510.7 80.0,508.0 C82.3,505.3 84.0,502.7 86.0,500.0 C88.0,497.3 89.7,494.5 92.0,492.0 C94.3,489.5 96.8,487.2 100.0,485.0 C103.2,482.8 106.5,480.1 111.0,478.5 C115.5,476.9 120.3,476.2 127.0,475.5 C133.7,474.8 143.0,474.6 151.0,474.4 C159.0,474.1 166.8,474.7 175.0,474.0 C183.2,473.3 190.8,471.3 200.0,470.0 C209.2,468.7 225.0,466.7 230.0,466.0" fill="none" stroke="#8a8a80" stroke-width="3.2" stroke-linecap="round" stroke-linejoin="round"/><path d="M7.0,528.5 C10.8,528.5 22.8,528.8 30.0,528.5 C37.2,528.2 44.7,527.9 50.0,527.0 C55.3,526.1 58.3,524.8 62.0,523.0 C65.7,521.2 69.0,518.5 72.0,516.0 C75.0,513.5 77.7,510.7 80.0,508.0 C82.3,505.3 84.0,502.7 86.0,500.0 C88.0,497.3 89.7,494.5 92.0,492.0 C94.3,489.5 96.8,487.2 100.0,485.0 C103.2,482.8 106.5,480.1 111.0,478.5 C115.5,476.9 120.3,476.2 127.0,475.5 C133.7,474.8 143.0,474.6 151.0,474.4 C159.0,474.1 166.8,474.7 175.0,474.0 C183.2,473.3 190.8,471.3 200.0,470.0 C209.2,468.7 225.0,466.7 230.0,466.0" fill="none" stroke="#f6f4ea" stroke-width="2.2" stroke-linecap="round" stroke-linejoin="round"/><path d="M7.0,531.0 C9.5,531.0 16.2,531.0 22.0,531.0 C27.8,531.0 36.5,531.7 42.0,531.3 C47.5,530.9 50.8,529.8 55.0,528.8 C59.2,527.8 63.3,526.8 67.0,525.0 C70.7,523.2 73.8,520.5 77.0,518.0 C80.2,515.5 83.5,513.0 86.0,510.0 C88.5,507.0 89.7,504.0 92.0,500.0 C94.3,496.0 96.8,489.1 100.0,486.0 C103.2,482.9 106.5,482.8 111.0,481.4 C115.5,480.0 121.7,478.2 127.0,477.4 C132.3,476.6 137.7,476.3 143.0,476.6 C148.3,476.9 155.3,478.5 159.0,479.0 C162.7,479.5 162.7,479.9 165.4,479.8 C168.1,479.7 171.9,479.3 175.0,478.2 C178.1,477.1 179.5,474.6 184.0,473.2 C188.5,471.8 196.0,470.4 202.0,469.5 C208.0,468.6 215.0,468.6 220.0,468.0 C225.0,467.4 227.7,466.0 232.0,466.0 C236.3,466.0 240.7,467.6 246.0,468.0 C251.3,468.4 259.2,468.5 264.0,468.6 C268.8,468.7 271.5,468.8 275.0,468.6 C278.5,468.4 281.7,468.4 285.0,467.5 C288.3,466.6 291.5,464.8 295.0,463.5 C298.5,462.2 302.7,460.9 306.0,460.0 C309.3,459.1 311.3,459.2 315.0,458.0 C318.7,456.8 323.2,453.7 328.0,452.5 C332.8,451.3 340.0,450.4 344.0,450.6 C348.0,450.8 349.3,453.0 352.0,453.8 C354.7,454.6 357.0,454.4 360.0,455.4 C363.0,456.4 366.7,458.7 370.0,460.0 C373.3,461.3 376.7,462.5 380.0,463.0 C383.3,463.5 386.7,463.2 390.0,463.0 C393.3,462.8 396.7,462.3 400.0,462.0 C403.3,461.7 407.0,461.5 410.0,461.0 C413.0,460.5 415.3,459.2 418.0,459.0 C420.7,458.8 423.7,459.3 426.0,460.0 C428.3,460.7 430.2,462.0 432.0,463.0 C433.8,464.0 436.2,465.5 437.0,466.0" fill="none" stroke="#1f3cf0" stroke-width="1.1" stroke-linecap="round" stroke-linejoin="round"/><path d="M415.0,458.0 C414.8,456.3 413.5,451.0 414.0,448.0 C414.5,445.0 416.2,442.5 418.0,440.0 C419.8,437.5 422.7,435.3 425.0,433.0 C427.3,430.7 430.2,428.0 432.0,426.0 C433.8,424.0 435.3,421.8 436.0,421.0" fill="none" stroke="#2a4af0" stroke-width="0.8" stroke-dasharray="1.2,1" stroke-linecap="round" stroke-linejoin="round"/><path d="M437.0,466.0 C438.8,464.7 444.5,460.3 448.0,458.0 C451.5,455.7 455.0,454.0 458.0,452.0 C461.0,450.0 464.7,447.0 466.0,446.0" fill="none" stroke="#2a4af0" stroke-width="0.8" stroke-linecap="round" stroke-linejoin="round"/><path d="M437.0,470.0 C438.3,472.0 442.0,478.3 445.0,482.0 C448.0,485.7 451.5,488.7 455.0,492.0 C458.5,495.3 462.8,499.2 466.0,502.0 C469.2,504.8 472.7,507.8 474.0,509.0" fill="none" stroke="#3050f0" stroke-width="0.7" stroke-linecap="round" stroke-linejoin="round"/><path d="M57.0,528.0 C57.8,529.3 59.6,533.2 62.0,536.0 C64.4,538.8 69.8,543.5 71.3,545.0" fill="none" stroke="#2040f0" stroke-width="0.9" stroke-dasharray="2,1.5" stroke-linecap="round" stroke-linejoin="round"/><path d="M90.0,508.0 C91.7,510.0 96.2,515.3 100.0,520.0 C103.8,524.7 110.4,533.3 112.5,536.0" fill="none" stroke="#2040f0" stroke-width="0.9" stroke-dasharray="2,1.5" stroke-linecap="round" stroke-linejoin="round"/><path d="M165.0,487.5 C163.8,490.4 160.7,498.5 158.0,505.0 C155.3,511.5 150.3,522.8 148.8,526.3" fill="none" stroke="#2040f0" stroke-width="0.9" stroke-dasharray="2,1.5" stroke-linecap="round" stroke-linejoin="round"/><path d="M175.0,505.0 C175.5,507.5 176.8,514.0 178.0,520.0 C179.2,526.0 181.8,537.8 182.5,541.3" fill="none" stroke="#2040f0" stroke-width="0.9" stroke-dasharray="2,1.5" stroke-linecap="round" stroke-linejoin="round"/><path d="M305.0,423.0 C304.2,425.0 302.3,429.6 300.0,435.0 C297.7,440.4 292.5,452.1 291.0,455.5" fill="none" stroke="#2040f0" stroke-width="0.9" stroke-dasharray="2,1.5" stroke-linecap="round" stroke-linejoin="round"/><path d="M320.0,430.5 C319.8,432.1 319.2,436.2 319.0,440.0 C318.8,443.8 318.8,450.8 318.8,453.0" fill="none" stroke="#2040f0" stroke-width="0.9" stroke-dasharray="2,1.5" stroke-linecap="round" stroke-linejoin="round"/><path d="M226.0,540.0 C227.0,541.3 230.3,545.0 232.0,548.0 C233.7,551.0 235.3,556.3 236.0,558.0" fill="none" stroke="#2040f0" stroke-width="0.9" stroke-dasharray="2,1.5" stroke-linecap="round" stroke-linejoin="round"/><path d="M66.0,518.0 C67.3,515.8 71.3,509.5 74.0,505.0 C76.7,500.5 80.7,493.3 82.0,491.0" fill="none" stroke="#e8202a" stroke-width="1.1" stroke-dasharray="3,2" stroke-linecap="round" stroke-linejoin="round"/><path d="M179.0,474.4 C184.2,474.2 198.8,473.6 210.0,473.0 C221.2,472.4 240.3,471.2 246.4,470.8" fill="none" stroke="#e8202a" stroke-width="1.1" stroke-dasharray="3.5,2.2" stroke-linecap="round" stroke-linejoin="round"/><path d="M80.0,483.0 L96.0,515.0" fill="none" stroke="#e8202a" stroke-width="1.0" stroke-linecap="round" stroke-linejoin="round"/><path d="M81.0,491.0 L90.0,482.0" fill="none" stroke="#e8202a" stroke-width="1.0" stroke-linecap="round" stroke-linejoin="round"/><path d="M235.0,421.8 L261.3,463.0" fill="none" stroke="#e8202a" stroke-width="1.0" stroke-linecap="round" stroke-linejoin="round"/><path d="M316.3,421.8 L320.0,434.3" fill="none" stroke="#e8202a" stroke-width="1.0" stroke-linecap="round" stroke-linejoin="round"/><path d="M235.0,483.0 L250.0,490.0" fill="none" stroke="#e8202a" stroke-width="1.0" stroke-linecap="round" stroke-linejoin="round"/><path d="M235.6,482.8 L276.0,501.0" fill="none" stroke="#e8202a" stroke-width="1.0" stroke-linecap="round" stroke-linejoin="round"/><path d="M280.0,500.0 L300.0,560.0" fill="none" stroke="#e8202a" stroke-width="1.0" stroke-linecap="round" stroke-linejoin="round"/><path d="M212.5,543.8 L226.3,557.5" fill="none" stroke="#e8202a" stroke-width="1.0" stroke-linecap="round" stroke-linejoin="round"/><path d="M437.4,506.0 L437.4,516.5" fill="none" stroke="#e8202a" stroke-width="1.0" stroke-linecap="round" stroke-linejoin="round"/><g transform="translate(44,531.2) rotate(0)"><path d="M-2.5,-3.62 L2.5,-3.62 L0,0 Z M-2.5,3.62 L2.5,3.62 L0,0 Z" fill="#1020f0"/></g><g transform="translate(53,530.8) rotate(0)"><path d="M-2.5,-3.62 L2.5,-3.62 L0,0 Z M-2.5,3.62 L2.5,3.62 L0,0 Z" fill="#1020f0"/></g><g transform="translate(66.8,524.2) rotate(-32)"><path d="M-2.5,-3.62 L2.5,-3.62 L0,0 Z M-2.5,3.62 L2.5,3.62 L0,0 Z" fill="#1020f0"/></g><g transform="translate(75.8,518.8) rotate(-35)"><path d="M-2.5,-3.62 L2.5,-3.62 L0,0 Z M-2.5,3.62 L2.5,3.62 L0,0 Z" fill="#1020f0"/></g><circle cx="23" cy="530.8" r="2.4" fill="#a8d8f8" stroke="#3a6ae8" stroke-width="0.6"/><circle cx="57" cy="528.3" r="2.5" fill="#138a3c" stroke="#0a5a28" stroke-width="0.5"/><path d="M81.4,509 L84,511.8 L81.4,514.6 L78.8,511.8 Z" fill="#f6ea1a" stroke="#a09000" stroke-width="0.4"/><circle cx="165" cy="479.3" r="2.5" fill="#e0b0e8" stroke="#a070c0" stroke-width="0.5"/><circle cx="437" cy="466.8" r="2.6" fill="#ee7d3a" stroke="#c05a20" stroke-width="0.5"/><text x="16.2" y="545.9" font-size="11" font-weight="bold" fill="#1a1a1a">S5</text><text x="57.8" y="545.9" font-size="11" font-weight="bold" fill="#1a1a1a">S4</text><text x="78.6" y="507.4" font-size="11" font-weight="bold" fill="#1a1a1a">S3</text><text x="160.2" y="475.4" font-size="11" font-weight="bold" fill="#1a1a1a">S2</text><text x="418.8" y="475.6" font-size="11" font-weight="bold" fill="#1a1a1a">S1</text><text x="47.4" y="515.3" font-size="8.8" font-weight="bold" fill="#1414e8" text-anchor="middle">MDU</text><text x="47.4" y="522.3" font-size="8.8" font-weight="bold" fill="#1414e8" text-anchor="middle">spring</text><text x="440.2" y="478.7" font-size="9.1" font-weight="bold" fill="#1414e8" text-anchor="middle">VDP</text><text x="439.6" y="485.8" font-size="8.8" font-weight="bold" fill="#1414e8" text-anchor="middle">spring</text><text x="10.6" y="434.2" font-size="11" font-weight="bold" fill="#1a1a1a">b)</text><rect x="476.7" y="425.2" width="13.2" height="15.9" fill="#fff"/><circle cx="483" cy="434.5" r="4.9" fill="none" stroke="#222" stroke-width="0.8"/><path d="M483,426.5 L480.4,437.5 L483,435.6 L485.6,437.5 Z" fill="none" stroke="#333" stroke-width="0.5"/><path d="M483,426.3 L483.8,429 L482.2,429 Z" fill="#222"/><rect x="261.3" y="550.5" width="28.7" height="3.3" fill="#fff" stroke="#333" stroke-width="0.5"/><rect x="290" y="550.5" width="28.8" height="3.3" fill="#c8c8c8" stroke="#333" stroke-width="0.5"/><line x1="261.3" y1="544" x2="261.3" y2="550.5" stroke="#444" stroke-width="0.6"/><line x1="275.7" y1="546.5" x2="275.7" y2="550.5" stroke="#444" stroke-width="0.6"/><line x1="290" y1="544" x2="290" y2="550.5" stroke="#444" stroke-width="0.6"/><line x1="304.4" y1="546.5" x2="304.4" y2="550.5" stroke="#444" stroke-width="0.6"/><line x1="318.8" y1="544" x2="318.8" y2="550.5" stroke="#444" stroke-width="0.6"/><text x="260.5" y="542.5" font-size="11" fill="#222" text-anchor="middle">0</text><text x="312.5" y="542.5" font-size="11" fill="#222" text-anchor="middle">2 km</text><rect x="328.7" y="516.8" width="161" height="41" fill="#fff" stroke="#b0b0b0" stroke-width="0.6"/><rect x="339.5" y="523.6" width="15.8" height="9.9" fill="#efe7cd" stroke="#888" stroke-width="0.5"/><text x="357" y="533.0" font-size="11" fill="#3a3a3a">9</text><rect x="374" y="523.6" width="15.8" height="9.9" fill="#bfe2a6" stroke="#888" stroke-width="0.5"/><text x="391.3" y="533.0" font-size="11" fill="#3a3a3a">10</text><rect x="411.3" y="523.6" width="15.8" height="9.9" fill="#bac89a" stroke="#888" stroke-width="0.5"/><text x="430.5" y="533.0" font-size="11" fill="#3a3a3a">11</text><rect x="446.4" y="523.6" width="15.8" height="9.9" fill="#6cbb72" stroke="#888" stroke-width="0.5"/><text x="466" y="533.0" font-size="11" fill="#3a3a3a">12</text><rect x="339.5" y="542" width="15.8" height="9.9" fill="#ad5ea3" stroke="#888" stroke-width="0.5"/><text x="356.5" y="551.4" font-size="11" fill="#3a3a3a">13</text><rect x="374" y="542" width="15.8" height="9.9" fill="#4a97cb" stroke="#888" stroke-width="0.5"/><text x="391.6" y="551.4" font-size="11" fill="#3a3a3a">14</text><line x1="412.2" y1="541.5" x2="424.8" y2="552.3" stroke="#e8202a" stroke-width="1"/><text x="429" y="551.4" font-size="11" fill="#333">15</text><line x1="446" y1="547.4" x2="461.7" y2="547.4" stroke="#1020f0" stroke-width="0.9"/><g transform="translate(449.6,547.3) rotate(0)"><path d="M-2.3,-3.91 L2.3,-3.91 L0,0 Z M-2.3,3.91 L2.3,3.91 L0,0 Z" fill="#1020f0"/></g><g transform="translate(458.1,547.3) rotate(0)"><path d="M-2.3,-3.91 L2.3,-3.91 L0,0 Z M-2.3,3.91 L2.3,3.91 L0,0 Z" fill="#1020f0"/></g><text x="466" y="551.4" font-size="11" fill="#333">16</text></g><rect x="7.5" y="421.5" width="484" height="136" fill="none" stroke="#9a9a9a" stroke-width="1"/></svg></body></html>
